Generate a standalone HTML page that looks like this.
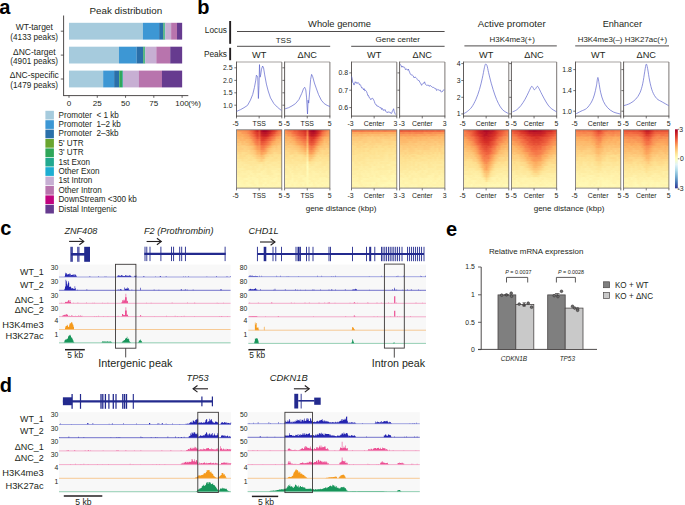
<!DOCTYPE html>
<html><head><meta charset="utf-8"><style>
html,body{margin:0;padding:0;background:#fff;width:685px;height:505px;overflow:hidden}
svg{display:block;position:absolute;left:0;top:0}
.hm{position:absolute;overflow:hidden}
.hi{position:absolute;left:-3px;top:-3px;right:-3px;bottom:-3px;filter:blur(0.7px);display:flex;flex-direction:column}
.hi p{margin:0;flex:1}
text{font-family:"Liberation Sans", sans-serif}
</style></head><body>
<svg width="685" height="505" viewBox="0 0 685 505">
<defs><linearGradient id="cbar" x1="0" y1="0" x2="0" y2="1"><stop offset="0" stop-color="#a50026"/><stop offset="0.1" stop-color="#d73027"/><stop offset="0.2" stop-color="#f46d43"/><stop offset="0.3" stop-color="#fdae61"/><stop offset="0.4" stop-color="#fee090"/><stop offset="0.5" stop-color="#ffffbf"/><stop offset="0.6" stop-color="#e0f3f8"/><stop offset="0.7" stop-color="#abd9e9"/><stop offset="0.8" stop-color="#74add1"/><stop offset="0.9" stop-color="#4575b4"/><stop offset="1" stop-color="#313695"/></linearGradient></defs>
<rect width="685" height="505" fill="#fff"/>
<text x="-0.80" y="13.70" font-size="20" text-anchor="start" font-weight="bold" font-style="normal" fill="#000" >a</text>
<text x="125.80" y="13.76" font-size="9.85" text-anchor="middle" font-weight="normal" font-style="normal" fill="#231f20" >Peak distribution</text>
<text x="34.30" y="30.34" font-size="8.5" text-anchor="middle" font-weight="normal" font-style="normal" fill="#231f20" >WT-target</text>
<text x="34.20" y="39.64" font-size="8.2" text-anchor="middle" font-weight="normal" font-style="normal" fill="#231f20" >(4133 peaks)</text>
<text x="34.30" y="54.54" font-size="8.5" text-anchor="middle" font-weight="normal" font-style="normal" fill="#231f20" >ΔNC-target</text>
<text x="34.20" y="63.84" font-size="8.2" text-anchor="middle" font-weight="normal" font-style="normal" fill="#231f20" >(4901 peaks)</text>
<text x="34.30" y="78.34" font-size="8.5" text-anchor="middle" font-weight="normal" font-style="normal" fill="#231f20" >ΔNC-specific</text>
<text x="34.20" y="87.64" font-size="8.2" text-anchor="middle" font-weight="normal" font-style="normal" fill="#231f20" >(1479 peaks)</text>
<rect x="69.00" y="22.80" width="74.02" height="16.80" fill="#a6cbdd" />
<rect x="142.97" y="22.80" width="16.22" height="16.80" fill="#3d97d4" />
<rect x="159.14" y="22.80" width="4.23" height="16.80" fill="#2a6fa9" />
<rect x="163.33" y="22.80" width="0.28" height="16.80" fill="#6aa52f" />
<rect x="163.55" y="22.80" width="0.95" height="16.80" fill="#2fa658" />
<rect x="164.46" y="22.80" width="0.84" height="16.80" fill="#22a98f" />
<rect x="165.25" y="22.80" width="5.93" height="16.80" fill="#c7afd3" />
<rect x="171.13" y="22.80" width="5.93" height="16.80" fill="#b874ad" />
<rect x="177.01" y="22.80" width="5.14" height="16.80" fill="#663b8f" />
<rect x="69.00" y="46.70" width="50.04" height="16.80" fill="#a6cbdd" />
<rect x="118.99" y="46.70" width="17.69" height="16.80" fill="#3d97d4" />
<rect x="136.63" y="46.70" width="6.61" height="16.80" fill="#2a6fa9" />
<rect x="143.19" y="46.70" width="0.28" height="16.80" fill="#6aa52f" />
<rect x="143.42" y="46.70" width="1.29" height="16.80" fill="#2fa658" />
<rect x="144.66" y="46.70" width="0.62" height="16.80" fill="#22a98f" />
<rect x="145.23" y="46.70" width="11.13" height="16.80" fill="#c7afd3" />
<rect x="156.31" y="46.70" width="13.96" height="16.80" fill="#b874ad" />
<rect x="170.22" y="46.70" width="11.93" height="16.80" fill="#663b8f" />
<rect x="69.00" y="70.60" width="34.21" height="16.80" fill="#a6cbdd" />
<rect x="103.16" y="70.60" width="11.02" height="16.80" fill="#3d97d4" />
<rect x="114.13" y="70.60" width="5.03" height="16.80" fill="#2a6fa9" />
<rect x="119.10" y="70.60" width="0.28" height="16.80" fill="#6aa52f" />
<rect x="119.33" y="70.60" width="2.65" height="16.80" fill="#2fa658" />
<rect x="121.93" y="70.60" width="0.95" height="16.80" fill="#22a98f" />
<rect x="122.84" y="70.60" width="16.11" height="16.80" fill="#c7afd3" />
<rect x="138.90" y="70.60" width="23.12" height="16.80" fill="#b874ad" />
<rect x="161.97" y="70.60" width="20.18" height="16.80" fill="#663b8f" />
<line x1="63.60" y1="15.50" x2="63.60" y2="95.60" stroke="#3b3838" stroke-width="0.9" />
<line x1="63.10" y1="95.60" x2="188.30" y2="95.60" stroke="#3b3838" stroke-width="0.9" />
<line x1="60.80" y1="31.20" x2="63.60" y2="31.20" stroke="#3b3838" stroke-width="0.8" />
<line x1="60.80" y1="55.10" x2="63.60" y2="55.10" stroke="#3b3838" stroke-width="0.8" />
<line x1="60.80" y1="79.00" x2="63.60" y2="79.00" stroke="#3b3838" stroke-width="0.8" />
<line x1="69.00" y1="95.60" x2="69.00" y2="97.80" stroke="#3b3838" stroke-width="0.8" />
<text x="69.00" y="106.20" font-size="8.1" text-anchor="middle" font-weight="normal" font-style="normal" fill="#231f20" >0</text>
<line x1="97.28" y1="95.60" x2="97.28" y2="97.80" stroke="#3b3838" stroke-width="0.8" />
<text x="97.28" y="106.20" font-size="8.1" text-anchor="middle" font-weight="normal" font-style="normal" fill="#231f20" >25</text>
<line x1="125.55" y1="95.60" x2="125.55" y2="97.80" stroke="#3b3838" stroke-width="0.8" />
<text x="125.55" y="106.20" font-size="8.1" text-anchor="middle" font-weight="normal" font-style="normal" fill="#231f20" >50</text>
<line x1="153.82" y1="95.60" x2="153.82" y2="97.80" stroke="#3b3838" stroke-width="0.8" />
<text x="153.82" y="106.20" font-size="8.1" text-anchor="middle" font-weight="normal" font-style="normal" fill="#231f20" >75</text>
<line x1="182.10" y1="95.60" x2="182.10" y2="97.80" stroke="#3b3838" stroke-width="0.8" />
<text x="182.10" y="106.20" font-size="8.1" text-anchor="middle" font-weight="normal" font-style="normal" fill="#231f20" >100</text>
<text x="188.30" y="106.20" font-size="8.1" text-anchor="start" font-weight="normal" font-style="normal" fill="#231f20" >(%)</text>
<rect x="45.40" y="110.80" width="8.50" height="8.70" fill="#a6cbdd" />
<text x="58.50" y="117.67" font-size="8.15" text-anchor="start" font-weight="normal" font-style="normal" fill="#231f20" >Promoter&#160; &lt; 1 kb</text>
<rect x="45.40" y="120.20" width="8.50" height="8.70" fill="#3d97d4" />
<text x="58.50" y="127.07" font-size="8.15" text-anchor="start" font-weight="normal" font-style="normal" fill="#231f20" >Promoter&#160; 1–2 kb</text>
<rect x="45.40" y="129.60" width="8.50" height="8.70" fill="#2a6fa9" />
<text x="58.50" y="136.47" font-size="8.15" text-anchor="start" font-weight="normal" font-style="normal" fill="#231f20" >Promoter&#160; 2–3kb</text>
<rect x="45.40" y="139.00" width="8.50" height="8.70" fill="#6aa52f" />
<text x="58.50" y="145.87" font-size="8.15" text-anchor="start" font-weight="normal" font-style="normal" fill="#231f20" >5' UTR</text>
<rect x="45.40" y="148.40" width="8.50" height="8.70" fill="#2fa658" />
<text x="58.50" y="155.27" font-size="8.15" text-anchor="start" font-weight="normal" font-style="normal" fill="#231f20" >3' UTR</text>
<rect x="45.40" y="157.80" width="8.50" height="8.70" fill="#22a98f" />
<text x="58.50" y="164.67" font-size="8.15" text-anchor="start" font-weight="normal" font-style="normal" fill="#231f20" >1st Exon</text>
<rect x="45.40" y="167.20" width="8.50" height="8.70" fill="#1eaed2" />
<text x="58.50" y="174.07" font-size="8.15" text-anchor="start" font-weight="normal" font-style="normal" fill="#231f20" >Other Exon</text>
<rect x="45.40" y="176.60" width="8.50" height="8.70" fill="#c7afd3" />
<text x="58.50" y="183.47" font-size="8.15" text-anchor="start" font-weight="normal" font-style="normal" fill="#231f20" >1st Intron</text>
<rect x="45.40" y="186.00" width="8.50" height="8.70" fill="#b874ad" />
<text x="58.50" y="192.87" font-size="8.15" text-anchor="start" font-weight="normal" font-style="normal" fill="#231f20" >Other Intron</text>
<rect x="45.40" y="195.40" width="8.50" height="8.70" fill="#c0037f" />
<text x="58.50" y="202.27" font-size="8.15" text-anchor="start" font-weight="normal" font-style="normal" fill="#231f20" >DownStream &lt;300 kb</text>
<rect x="45.40" y="204.80" width="8.50" height="8.70" fill="#663b8f" />
<text x="58.50" y="211.67" font-size="8.15" text-anchor="start" font-weight="normal" font-style="normal" fill="#231f20" >Distal Intergenic</text>
<text x="197.20" y="13.70" font-size="20" text-anchor="start" font-weight="bold" font-style="normal" fill="#000" >b</text>
<text x="227.00" y="33.49" font-size="8.3" text-anchor="end" font-weight="normal" font-style="normal" fill="#231f20" >Locus</text>
<text x="227.00" y="56.69" font-size="8.3" text-anchor="end" font-weight="normal" font-style="normal" fill="#231f20" >Peaks</text>
<rect x="229.20" y="21.00" width="1.90" height="22.80" fill="#231f20" />
<rect x="229.20" y="47.80" width="1.90" height="12.40" fill="#231f20" />
<text x="339.50" y="27.11" font-size="9.35" text-anchor="middle" font-weight="normal" font-style="normal" fill="#231f20" >Whole genome</text>
<line x1="237.00" y1="31.50" x2="444.60" y2="31.50" stroke="#3b3838" stroke-width="0.9" />
<text x="283.50" y="42.86" font-size="8.0" text-anchor="middle" font-weight="normal" font-style="normal" fill="#231f20" >TSS</text>
<line x1="237.00" y1="46.30" x2="330.20" y2="46.30" stroke="#3b3838" stroke-width="0.9" />
<text x="397.70" y="42.31" font-size="8.05" text-anchor="middle" font-weight="normal" font-style="normal" fill="#231f20" >Gene center</text>
<line x1="351.20" y1="46.30" x2="444.60" y2="46.30" stroke="#3b3838" stroke-width="0.9" />
<text x="511.70" y="27.01" font-size="9.7" text-anchor="middle" font-weight="normal" font-style="normal" fill="#231f20" >Active promoter</text>
<text x="512.20" y="42.35" font-size="7.95" text-anchor="middle" font-weight="normal" font-style="normal" fill="#231f20" >H3K4me3(+)</text>
<line x1="464.40" y1="45.90" x2="556.80" y2="45.90" stroke="#3b3838" stroke-width="0.9" />
<text x="622.30" y="26.86" font-size="9.2" text-anchor="middle" font-weight="normal" font-style="normal" fill="#231f20" >Enhancer</text>
<text x="622.40" y="42.34" font-size="7.92" text-anchor="middle" font-weight="normal" font-style="normal" fill="#231f20" >H3K4me3(–) H3K27ac(+)</text>
<line x1="575.20" y1="45.90" x2="669.00" y2="45.90" stroke="#3b3838" stroke-width="0.9" />
<text x="259.15" y="57.69" font-size="9.2" text-anchor="middle" font-weight="normal" font-style="normal" fill="#231f20" >WT</text>
<line x1="236.50" y1="62.00" x2="281.80" y2="62.00" stroke="#a8a4a2" stroke-width="1.1" />
<line x1="281.80" y1="62.00" x2="281.80" y2="116.10" stroke="#7a7574" stroke-width="1.0" />
<line x1="236.50" y1="61.60" x2="236.50" y2="116.50" stroke="#4f4b4a" stroke-width="0.9" />
<line x1="236.10" y1="116.10" x2="282.20" y2="116.10" stroke="#4f4b4a" stroke-width="0.9" />
<text x="307.25" y="57.69" font-size="9.2" text-anchor="middle" font-weight="normal" font-style="normal" fill="#231f20" >ΔNC</text>
<line x1="284.60" y1="62.00" x2="329.90" y2="62.00" stroke="#a8a4a2" stroke-width="1.1" />
<line x1="329.90" y1="62.00" x2="329.90" y2="116.10" stroke="#7a7574" stroke-width="1.0" />
<line x1="284.60" y1="61.60" x2="284.60" y2="116.50" stroke="#4f4b4a" stroke-width="0.9" />
<line x1="284.20" y1="116.10" x2="330.30" y2="116.10" stroke="#4f4b4a" stroke-width="0.9" />
<text x="374.15" y="57.69" font-size="9.2" text-anchor="middle" font-weight="normal" font-style="normal" fill="#231f20" >WT</text>
<line x1="351.50" y1="62.00" x2="396.80" y2="62.00" stroke="#a8a4a2" stroke-width="1.1" />
<line x1="396.80" y1="62.00" x2="396.80" y2="116.10" stroke="#7a7574" stroke-width="1.0" />
<line x1="351.50" y1="61.60" x2="351.50" y2="116.50" stroke="#4f4b4a" stroke-width="0.9" />
<line x1="351.10" y1="116.10" x2="397.20" y2="116.10" stroke="#4f4b4a" stroke-width="0.9" />
<text x="422.25" y="57.69" font-size="9.2" text-anchor="middle" font-weight="normal" font-style="normal" fill="#231f20" >ΔNC</text>
<line x1="399.60" y1="62.00" x2="444.90" y2="62.00" stroke="#a8a4a2" stroke-width="1.1" />
<line x1="444.90" y1="62.00" x2="444.90" y2="116.10" stroke="#7a7574" stroke-width="1.0" />
<line x1="399.60" y1="61.60" x2="399.60" y2="116.50" stroke="#4f4b4a" stroke-width="0.9" />
<line x1="399.20" y1="116.10" x2="445.30" y2="116.10" stroke="#4f4b4a" stroke-width="0.9" />
<text x="486.15" y="57.69" font-size="9.2" text-anchor="middle" font-weight="normal" font-style="normal" fill="#231f20" >WT</text>
<line x1="463.50" y1="62.00" x2="508.80" y2="62.00" stroke="#a8a4a2" stroke-width="1.1" />
<line x1="508.80" y1="62.00" x2="508.80" y2="116.10" stroke="#7a7574" stroke-width="1.0" />
<line x1="463.50" y1="61.60" x2="463.50" y2="116.50" stroke="#4f4b4a" stroke-width="0.9" />
<line x1="463.10" y1="116.10" x2="509.20" y2="116.10" stroke="#4f4b4a" stroke-width="0.9" />
<text x="534.05" y="57.69" font-size="9.2" text-anchor="middle" font-weight="normal" font-style="normal" fill="#231f20" >ΔNC</text>
<line x1="511.40" y1="62.00" x2="556.70" y2="62.00" stroke="#a8a4a2" stroke-width="1.1" />
<line x1="556.70" y1="62.00" x2="556.70" y2="116.10" stroke="#7a7574" stroke-width="1.0" />
<line x1="511.40" y1="61.60" x2="511.40" y2="116.50" stroke="#4f4b4a" stroke-width="0.9" />
<line x1="511.00" y1="116.10" x2="557.10" y2="116.10" stroke="#4f4b4a" stroke-width="0.9" />
<text x="598.15" y="57.69" font-size="9.2" text-anchor="middle" font-weight="normal" font-style="normal" fill="#231f20" >WT</text>
<line x1="575.50" y1="62.00" x2="620.80" y2="62.00" stroke="#a8a4a2" stroke-width="1.1" />
<line x1="620.80" y1="62.00" x2="620.80" y2="116.10" stroke="#7a7574" stroke-width="1.0" />
<line x1="575.50" y1="61.60" x2="575.50" y2="116.50" stroke="#4f4b4a" stroke-width="0.9" />
<line x1="575.10" y1="116.10" x2="621.20" y2="116.10" stroke="#4f4b4a" stroke-width="0.9" />
<text x="646.25" y="57.69" font-size="9.2" text-anchor="middle" font-weight="normal" font-style="normal" fill="#231f20" >ΔNC</text>
<line x1="623.60" y1="62.00" x2="668.90" y2="62.00" stroke="#a8a4a2" stroke-width="1.1" />
<line x1="668.90" y1="62.00" x2="668.90" y2="116.10" stroke="#7a7574" stroke-width="1.0" />
<line x1="623.60" y1="61.60" x2="623.60" y2="116.50" stroke="#4f4b4a" stroke-width="0.9" />
<line x1="623.20" y1="116.10" x2="669.30" y2="116.10" stroke="#4f4b4a" stroke-width="0.9" />
<text x="232.50" y="70.27" font-size="6.9" text-anchor="end" font-weight="normal" font-style="normal" fill="#231f20" >2.5</text>
<line x1="234.30" y1="67.80" x2="236.50" y2="67.80" stroke="#3b3838" stroke-width="0.7" />
<line x1="282.40" y1="67.80" x2="284.60" y2="67.80" stroke="#3b3838" stroke-width="0.7" />
<text x="232.50" y="82.87" font-size="6.9" text-anchor="end" font-weight="normal" font-style="normal" fill="#231f20" >2.0</text>
<line x1="234.30" y1="80.40" x2="236.50" y2="80.40" stroke="#3b3838" stroke-width="0.7" />
<line x1="282.40" y1="80.40" x2="284.60" y2="80.40" stroke="#3b3838" stroke-width="0.7" />
<text x="232.50" y="95.27" font-size="6.9" text-anchor="end" font-weight="normal" font-style="normal" fill="#231f20" >1.5</text>
<line x1="234.30" y1="92.80" x2="236.50" y2="92.80" stroke="#3b3838" stroke-width="0.7" />
<line x1="282.40" y1="92.80" x2="284.60" y2="92.80" stroke="#3b3838" stroke-width="0.7" />
<text x="232.50" y="107.67" font-size="6.9" text-anchor="end" font-weight="normal" font-style="normal" fill="#231f20" >1.0</text>
<line x1="234.30" y1="105.20" x2="236.50" y2="105.20" stroke="#3b3838" stroke-width="0.7" />
<line x1="282.40" y1="105.20" x2="284.60" y2="105.20" stroke="#3b3838" stroke-width="0.7" />
<text x="348.10" y="75.37" font-size="6.9" text-anchor="end" font-weight="normal" font-style="normal" fill="#231f20" >0.8</text>
<line x1="349.30" y1="72.90" x2="351.50" y2="72.90" stroke="#3b3838" stroke-width="0.7" />
<line x1="397.40" y1="72.90" x2="399.60" y2="72.90" stroke="#3b3838" stroke-width="0.7" />
<text x="348.10" y="92.67" font-size="6.9" text-anchor="end" font-weight="normal" font-style="normal" fill="#231f20" >0.7</text>
<line x1="349.30" y1="90.20" x2="351.50" y2="90.20" stroke="#3b3838" stroke-width="0.7" />
<line x1="397.40" y1="90.20" x2="399.60" y2="90.20" stroke="#3b3838" stroke-width="0.7" />
<text x="348.10" y="110.07" font-size="6.9" text-anchor="end" font-weight="normal" font-style="normal" fill="#231f20" >0.6</text>
<line x1="349.30" y1="107.60" x2="351.50" y2="107.60" stroke="#3b3838" stroke-width="0.7" />
<line x1="397.40" y1="107.60" x2="399.60" y2="107.60" stroke="#3b3838" stroke-width="0.7" />
<text x="460.50" y="66.07" font-size="6.9" text-anchor="end" font-weight="normal" font-style="normal" fill="#231f20" >4</text>
<line x1="461.30" y1="63.60" x2="463.50" y2="63.60" stroke="#3b3838" stroke-width="0.7" />
<line x1="509.20" y1="63.60" x2="511.40" y2="63.60" stroke="#3b3838" stroke-width="0.7" />
<text x="460.50" y="82.97" font-size="6.9" text-anchor="end" font-weight="normal" font-style="normal" fill="#231f20" >3</text>
<line x1="461.30" y1="80.50" x2="463.50" y2="80.50" stroke="#3b3838" stroke-width="0.7" />
<line x1="509.20" y1="80.50" x2="511.40" y2="80.50" stroke="#3b3838" stroke-width="0.7" />
<text x="460.50" y="99.77" font-size="6.9" text-anchor="end" font-weight="normal" font-style="normal" fill="#231f20" >2</text>
<line x1="461.30" y1="97.30" x2="463.50" y2="97.30" stroke="#3b3838" stroke-width="0.7" />
<line x1="509.20" y1="97.30" x2="511.40" y2="97.30" stroke="#3b3838" stroke-width="0.7" />
<text x="460.50" y="116.37" font-size="6.9" text-anchor="end" font-weight="normal" font-style="normal" fill="#231f20" >1</text>
<line x1="461.30" y1="113.90" x2="463.50" y2="113.90" stroke="#3b3838" stroke-width="0.7" />
<line x1="509.20" y1="113.90" x2="511.40" y2="113.90" stroke="#3b3838" stroke-width="0.7" />
<text x="571.90" y="72.07" font-size="6.9" text-anchor="end" font-weight="normal" font-style="normal" fill="#231f20" >1.8</text>
<line x1="573.30" y1="69.60" x2="575.50" y2="69.60" stroke="#3b3838" stroke-width="0.7" />
<line x1="621.40" y1="69.60" x2="623.60" y2="69.60" stroke="#3b3838" stroke-width="0.7" />
<text x="571.90" y="93.07" font-size="6.9" text-anchor="end" font-weight="normal" font-style="normal" fill="#231f20" >1.4</text>
<line x1="573.30" y1="90.60" x2="575.50" y2="90.60" stroke="#3b3838" stroke-width="0.7" />
<line x1="621.40" y1="90.60" x2="623.60" y2="90.60" stroke="#3b3838" stroke-width="0.7" />
<text x="571.90" y="113.67" font-size="6.9" text-anchor="end" font-weight="normal" font-style="normal" fill="#231f20" >1.0</text>
<line x1="573.30" y1="111.20" x2="575.50" y2="111.20" stroke="#3b3838" stroke-width="0.7" />
<line x1="621.40" y1="111.20" x2="623.60" y2="111.20" stroke="#3b3838" stroke-width="0.7" />
<line x1="236.50" y1="116.10" x2="236.50" y2="118.40" stroke="#3b3838" stroke-width="0.7" />
<line x1="259.15" y1="116.10" x2="259.15" y2="118.40" stroke="#3b3838" stroke-width="0.7" />
<line x1="281.80" y1="116.10" x2="281.80" y2="118.40" stroke="#3b3838" stroke-width="0.7" />
<text x="235.50" y="126.37" font-size="6.9" text-anchor="middle" font-weight="normal" font-style="normal" fill="#231f20" >-5</text>
<text x="280.40" y="126.37" font-size="6.9" text-anchor="middle" font-weight="normal" font-style="normal" fill="#231f20" >5</text>
<text x="259.15" y="126.37" font-size="6.9" text-anchor="middle" font-weight="normal" font-style="normal" fill="#231f20" >TSS</text>
<line x1="236.50" y1="188.10" x2="236.50" y2="190.40" stroke="#3b3838" stroke-width="0.7" />
<line x1="259.15" y1="188.10" x2="259.15" y2="190.40" stroke="#3b3838" stroke-width="0.7" />
<line x1="281.80" y1="188.10" x2="281.80" y2="190.40" stroke="#3b3838" stroke-width="0.7" />
<text x="235.50" y="197.67" font-size="6.9" text-anchor="middle" font-weight="normal" font-style="normal" fill="#231f20" >-5</text>
<text x="280.40" y="197.67" font-size="6.9" text-anchor="middle" font-weight="normal" font-style="normal" fill="#231f20" >5</text>
<text x="259.15" y="197.67" font-size="6.9" text-anchor="middle" font-weight="normal" font-style="normal" fill="#231f20" >TSS</text>
<line x1="284.60" y1="116.10" x2="284.60" y2="118.40" stroke="#3b3838" stroke-width="0.7" />
<line x1="307.25" y1="116.10" x2="307.25" y2="118.40" stroke="#3b3838" stroke-width="0.7" />
<line x1="329.90" y1="116.10" x2="329.90" y2="118.40" stroke="#3b3838" stroke-width="0.7" />
<text x="286.90" y="126.37" font-size="6.9" text-anchor="middle" font-weight="normal" font-style="normal" fill="#231f20" >-5</text>
<text x="329.60" y="126.37" font-size="6.9" text-anchor="middle" font-weight="normal" font-style="normal" fill="#231f20" >5</text>
<text x="307.25" y="126.37" font-size="6.9" text-anchor="middle" font-weight="normal" font-style="normal" fill="#231f20" >TSS</text>
<line x1="284.60" y1="188.10" x2="284.60" y2="190.40" stroke="#3b3838" stroke-width="0.7" />
<line x1="307.25" y1="188.10" x2="307.25" y2="190.40" stroke="#3b3838" stroke-width="0.7" />
<line x1="329.90" y1="188.10" x2="329.90" y2="190.40" stroke="#3b3838" stroke-width="0.7" />
<text x="286.90" y="197.67" font-size="6.9" text-anchor="middle" font-weight="normal" font-style="normal" fill="#231f20" >-5</text>
<text x="329.60" y="197.67" font-size="6.9" text-anchor="middle" font-weight="normal" font-style="normal" fill="#231f20" >5</text>
<text x="307.25" y="197.67" font-size="6.9" text-anchor="middle" font-weight="normal" font-style="normal" fill="#231f20" >TSS</text>
<line x1="351.50" y1="116.10" x2="351.50" y2="118.40" stroke="#3b3838" stroke-width="0.7" />
<line x1="374.15" y1="116.10" x2="374.15" y2="118.40" stroke="#3b3838" stroke-width="0.7" />
<line x1="396.80" y1="116.10" x2="396.80" y2="118.40" stroke="#3b3838" stroke-width="0.7" />
<text x="350.50" y="126.37" font-size="6.9" text-anchor="middle" font-weight="normal" font-style="normal" fill="#231f20" >-3</text>
<text x="395.40" y="126.37" font-size="6.9" text-anchor="middle" font-weight="normal" font-style="normal" fill="#231f20" >3</text>
<text x="374.15" y="126.37" font-size="6.9" text-anchor="middle" font-weight="normal" font-style="normal" fill="#231f20" >Center</text>
<line x1="351.50" y1="188.10" x2="351.50" y2="190.40" stroke="#3b3838" stroke-width="0.7" />
<line x1="374.15" y1="188.10" x2="374.15" y2="190.40" stroke="#3b3838" stroke-width="0.7" />
<line x1="396.80" y1="188.10" x2="396.80" y2="190.40" stroke="#3b3838" stroke-width="0.7" />
<text x="350.50" y="197.67" font-size="6.9" text-anchor="middle" font-weight="normal" font-style="normal" fill="#231f20" >-3</text>
<text x="395.40" y="197.67" font-size="6.9" text-anchor="middle" font-weight="normal" font-style="normal" fill="#231f20" >3</text>
<text x="374.15" y="197.67" font-size="6.9" text-anchor="middle" font-weight="normal" font-style="normal" fill="#231f20" >Center</text>
<line x1="399.60" y1="116.10" x2="399.60" y2="118.40" stroke="#3b3838" stroke-width="0.7" />
<line x1="422.25" y1="116.10" x2="422.25" y2="118.40" stroke="#3b3838" stroke-width="0.7" />
<line x1="444.90" y1="116.10" x2="444.90" y2="118.40" stroke="#3b3838" stroke-width="0.7" />
<text x="401.90" y="126.37" font-size="6.9" text-anchor="middle" font-weight="normal" font-style="normal" fill="#231f20" >-3</text>
<text x="444.60" y="126.37" font-size="6.9" text-anchor="middle" font-weight="normal" font-style="normal" fill="#231f20" >3</text>
<text x="422.25" y="126.37" font-size="6.9" text-anchor="middle" font-weight="normal" font-style="normal" fill="#231f20" >Center</text>
<line x1="399.60" y1="188.10" x2="399.60" y2="190.40" stroke="#3b3838" stroke-width="0.7" />
<line x1="422.25" y1="188.10" x2="422.25" y2="190.40" stroke="#3b3838" stroke-width="0.7" />
<line x1="444.90" y1="188.10" x2="444.90" y2="190.40" stroke="#3b3838" stroke-width="0.7" />
<text x="401.90" y="197.67" font-size="6.9" text-anchor="middle" font-weight="normal" font-style="normal" fill="#231f20" >-3</text>
<text x="444.60" y="197.67" font-size="6.9" text-anchor="middle" font-weight="normal" font-style="normal" fill="#231f20" >3</text>
<text x="422.25" y="197.67" font-size="6.9" text-anchor="middle" font-weight="normal" font-style="normal" fill="#231f20" >Center</text>
<line x1="463.50" y1="116.10" x2="463.50" y2="118.40" stroke="#3b3838" stroke-width="0.7" />
<line x1="486.15" y1="116.10" x2="486.15" y2="118.40" stroke="#3b3838" stroke-width="0.7" />
<line x1="508.80" y1="116.10" x2="508.80" y2="118.40" stroke="#3b3838" stroke-width="0.7" />
<text x="462.50" y="126.37" font-size="6.9" text-anchor="middle" font-weight="normal" font-style="normal" fill="#231f20" >-5</text>
<text x="507.40" y="126.37" font-size="6.9" text-anchor="middle" font-weight="normal" font-style="normal" fill="#231f20" >5</text>
<text x="486.15" y="126.37" font-size="6.9" text-anchor="middle" font-weight="normal" font-style="normal" fill="#231f20" >Center</text>
<line x1="463.50" y1="188.10" x2="463.50" y2="190.40" stroke="#3b3838" stroke-width="0.7" />
<line x1="486.15" y1="188.10" x2="486.15" y2="190.40" stroke="#3b3838" stroke-width="0.7" />
<line x1="508.80" y1="188.10" x2="508.80" y2="190.40" stroke="#3b3838" stroke-width="0.7" />
<text x="462.50" y="197.67" font-size="6.9" text-anchor="middle" font-weight="normal" font-style="normal" fill="#231f20" >-5</text>
<text x="507.40" y="197.67" font-size="6.9" text-anchor="middle" font-weight="normal" font-style="normal" fill="#231f20" >5</text>
<text x="486.15" y="197.67" font-size="6.9" text-anchor="middle" font-weight="normal" font-style="normal" fill="#231f20" >Center</text>
<line x1="511.40" y1="116.10" x2="511.40" y2="118.40" stroke="#3b3838" stroke-width="0.7" />
<line x1="534.05" y1="116.10" x2="534.05" y2="118.40" stroke="#3b3838" stroke-width="0.7" />
<line x1="556.70" y1="116.10" x2="556.70" y2="118.40" stroke="#3b3838" stroke-width="0.7" />
<text x="513.70" y="126.37" font-size="6.9" text-anchor="middle" font-weight="normal" font-style="normal" fill="#231f20" >-5</text>
<text x="556.40" y="126.37" font-size="6.9" text-anchor="middle" font-weight="normal" font-style="normal" fill="#231f20" >5</text>
<text x="534.05" y="126.37" font-size="6.9" text-anchor="middle" font-weight="normal" font-style="normal" fill="#231f20" >Center</text>
<line x1="511.40" y1="188.10" x2="511.40" y2="190.40" stroke="#3b3838" stroke-width="0.7" />
<line x1="534.05" y1="188.10" x2="534.05" y2="190.40" stroke="#3b3838" stroke-width="0.7" />
<line x1="556.70" y1="188.10" x2="556.70" y2="190.40" stroke="#3b3838" stroke-width="0.7" />
<text x="513.70" y="197.67" font-size="6.9" text-anchor="middle" font-weight="normal" font-style="normal" fill="#231f20" >-5</text>
<text x="556.40" y="197.67" font-size="6.9" text-anchor="middle" font-weight="normal" font-style="normal" fill="#231f20" >5</text>
<text x="534.05" y="197.67" font-size="6.9" text-anchor="middle" font-weight="normal" font-style="normal" fill="#231f20" >Center</text>
<line x1="575.50" y1="116.10" x2="575.50" y2="118.40" stroke="#3b3838" stroke-width="0.7" />
<line x1="598.15" y1="116.10" x2="598.15" y2="118.40" stroke="#3b3838" stroke-width="0.7" />
<line x1="620.80" y1="116.10" x2="620.80" y2="118.40" stroke="#3b3838" stroke-width="0.7" />
<text x="574.50" y="126.37" font-size="6.9" text-anchor="middle" font-weight="normal" font-style="normal" fill="#231f20" >-5</text>
<text x="619.40" y="126.37" font-size="6.9" text-anchor="middle" font-weight="normal" font-style="normal" fill="#231f20" >5</text>
<text x="598.15" y="126.37" font-size="6.9" text-anchor="middle" font-weight="normal" font-style="normal" fill="#231f20" >Center</text>
<line x1="575.50" y1="188.10" x2="575.50" y2="190.40" stroke="#3b3838" stroke-width="0.7" />
<line x1="598.15" y1="188.10" x2="598.15" y2="190.40" stroke="#3b3838" stroke-width="0.7" />
<line x1="620.80" y1="188.10" x2="620.80" y2="190.40" stroke="#3b3838" stroke-width="0.7" />
<text x="574.50" y="197.67" font-size="6.9" text-anchor="middle" font-weight="normal" font-style="normal" fill="#231f20" >-5</text>
<text x="619.40" y="197.67" font-size="6.9" text-anchor="middle" font-weight="normal" font-style="normal" fill="#231f20" >5</text>
<text x="598.15" y="197.67" font-size="6.9" text-anchor="middle" font-weight="normal" font-style="normal" fill="#231f20" >Center</text>
<line x1="623.60" y1="116.10" x2="623.60" y2="118.40" stroke="#3b3838" stroke-width="0.7" />
<line x1="646.25" y1="116.10" x2="646.25" y2="118.40" stroke="#3b3838" stroke-width="0.7" />
<line x1="668.90" y1="116.10" x2="668.90" y2="118.40" stroke="#3b3838" stroke-width="0.7" />
<text x="625.90" y="126.37" font-size="6.9" text-anchor="middle" font-weight="normal" font-style="normal" fill="#231f20" >-5</text>
<text x="668.60" y="126.37" font-size="6.9" text-anchor="middle" font-weight="normal" font-style="normal" fill="#231f20" >5</text>
<text x="646.25" y="126.37" font-size="6.9" text-anchor="middle" font-weight="normal" font-style="normal" fill="#231f20" >Center</text>
<line x1="623.60" y1="188.10" x2="623.60" y2="190.40" stroke="#3b3838" stroke-width="0.7" />
<line x1="646.25" y1="188.10" x2="646.25" y2="190.40" stroke="#3b3838" stroke-width="0.7" />
<line x1="668.90" y1="188.10" x2="668.90" y2="190.40" stroke="#3b3838" stroke-width="0.7" />
<text x="625.90" y="197.67" font-size="6.9" text-anchor="middle" font-weight="normal" font-style="normal" fill="#231f20" >-5</text>
<text x="668.60" y="197.67" font-size="6.9" text-anchor="middle" font-weight="normal" font-style="normal" fill="#231f20" >5</text>
<text x="646.25" y="197.67" font-size="6.9" text-anchor="middle" font-weight="normal" font-style="normal" fill="#231f20" >Center</text>
<path d="M236.60,111.40 L240.60,109.60 L244.00,107.70 L247.50,105.40 L250.40,100.20 L252.70,94.50 L254.40,87.60 L255.80,80.10 L256.40,75.20 L257.20,76.10 L257.80,77.80 L258.40,98.50 L259.00,85.30 L259.50,64.60 L260.10,77.20 L260.70,74.90 L261.50,69.20 L262.60,66.00 L263.60,68.00 L264.70,74.90 L266.40,84.10 L268.20,91.00 L270.50,97.90 L273.90,103.60 L277.30,107.10 L281.40,110.50" fill="none" stroke="#5b63cc" stroke-width="0.7" stroke-linejoin="round"/>
<path d="M285.10,108.80 L288.60,107.70 L292.00,105.90 L295.50,103.60 L298.90,99.60 L301.80,93.30 L303.50,88.70 L304.70,87.30 L305.80,89.90 L306.60,97.90 L307.50,114.00 L308.10,100.20 L308.70,103.10 L309.80,89.90 L310.60,79.50 L311.60,74.40 L312.70,76.70 L314.40,83.00 L316.20,88.10 L318.50,94.50 L321.30,100.20 L324.20,103.60 L327.10,105.40 L329.90,106.50" fill="none" stroke="#5b63cc" stroke-width="0.7" stroke-linejoin="round"/>
<path d="M351.60,76.45 L352.20,78.90 L352.80,82.70 L353.40,83.07 L354.00,85.07 L354.60,83.53 L355.20,81.72 L355.80,82.83 L356.40,82.38 L357.00,83.67 L357.60,82.69 L358.20,82.49 L358.80,83.10 L359.40,84.80 L360.00,84.30 L360.60,85.23 L361.20,86.74 L361.80,88.08 L362.40,87.95 L363.00,88.19 L363.60,89.95 L364.20,88.69 L364.80,90.92 L365.40,90.38 L366.00,90.69 L366.60,91.74 L367.20,93.32 L367.80,95.53 L368.40,95.36 L369.00,97.06 L369.60,98.08 L370.20,98.44 L370.80,99.70 L371.40,98.76 L372.00,98.35 L372.60,98.25 L373.20,99.13 L373.80,100.22 L374.40,101.59 L375.00,103.74 L375.60,104.32 L376.20,104.49 L376.80,105.95 L377.40,106.23 L378.00,105.79 L378.60,106.65 L379.20,106.75 L379.80,107.65 L380.40,107.76 L381.00,107.48 L381.60,109.46 L382.20,108.34 L382.80,109.54 L383.40,110.48 L384.00,109.47 L384.60,110.34 L385.20,109.73 L385.80,111.45 L386.40,112.10 L387.00,112.17 L387.60,112.80 L388.20,111.62 L388.80,112.33 L389.40,112.19 L390.00,112.48 L390.60,112.55 L391.20,113.63 L391.80,112.96 L392.40,110.91 L393.00,110.17 L393.60,108.72 L394.20,111.50 L394.80,112.89 L395.40,114.64" fill="none" stroke="#5b63cc" stroke-width="0.7" stroke-linejoin="round"/>
<path d="M400.00,64.84 L400.60,64.65 L401.20,65.74 L401.80,67.19 L402.40,66.21 L403.00,67.29 L403.60,66.90 L404.20,67.13 L404.80,67.62 L405.40,69.64 L406.00,68.96 L406.60,69.22 L407.20,69.42 L407.80,70.30 L408.40,69.02 L409.00,70.85 L409.60,72.13 L410.20,73.89 L410.80,74.44 L411.40,75.13 L412.00,74.56 L412.60,75.43 L413.20,75.89 L413.80,77.39 L414.40,77.99 L415.00,76.83 L415.60,77.33 L416.20,77.96 L416.80,78.57 L417.40,79.67 L418.00,80.48 L418.60,80.43 L419.20,80.63 L419.80,82.21 L420.40,82.86 L421.00,84.01 L421.60,85.33 L422.20,84.36 L422.80,83.56 L423.40,83.31 L424.00,82.98 L424.60,81.81 L425.20,84.10 L425.80,84.46 L426.40,85.25 L427.00,85.70 L427.60,85.18 L428.20,85.44 L428.80,85.09 L429.40,86.39 L430.00,85.48 L430.60,85.73 L431.20,86.38 L431.80,86.64 L432.40,87.36 L433.00,87.15 L433.60,87.40 L434.20,88.04 L434.80,88.18 L435.40,88.95 L436.00,88.51 L436.60,90.45 L437.20,90.17 L437.80,89.45 L438.40,89.80 L439.00,90.14 L439.60,90.33 L440.20,90.00 L440.80,91.63 L441.40,92.12 L442.00,91.27 L442.60,91.40 L443.20,90.21 L443.80,89.84 L444.40,89.92" fill="none" stroke="#5b63cc" stroke-width="0.7" stroke-linejoin="round"/>
<path d="M463.70,113.70 C464.35,113.28 466.25,112.32 467.60,111.20 C468.95,110.08 470.40,109.00 471.80,107.00 C473.20,105.00 474.72,102.13 476.00,99.20 C477.28,96.27 478.45,92.90 479.50,89.40 C480.55,85.90 481.48,81.82 482.30,78.20 C483.12,74.58 483.87,70.03 484.40,67.70 C484.93,65.37 485.07,64.55 485.50,64.20 C485.93,63.85 486.48,64.20 487.00,65.60 C487.52,67.00 487.87,69.57 488.60,72.60 C489.33,75.63 490.35,80.07 491.40,83.80 C492.45,87.53 493.73,91.73 494.90,95.00 C496.07,98.27 497.12,100.93 498.40,103.40 C499.68,105.87 500.95,108.12 502.60,109.80 C504.25,111.48 507.35,112.88 508.30,113.50" fill="none" stroke="#5b63cc" stroke-width="0.7" stroke-linejoin="round"/>
<path d="M512.50,111.90 C513.20,111.55 515.30,110.85 516.70,109.80 C518.10,108.75 519.50,107.37 520.90,105.60 C522.30,103.83 523.82,101.43 525.10,99.20 C526.38,96.97 527.55,94.30 528.60,92.20 C529.65,90.10 530.70,87.42 531.40,86.60 C532.10,85.78 532.33,86.78 532.80,87.30 C533.27,87.82 533.73,89.47 534.20,89.70 C534.67,89.93 535.07,89.27 535.60,88.70 C536.13,88.13 536.82,86.30 537.40,86.30 C537.98,86.30 538.35,87.37 539.10,88.70 C539.85,90.03 540.73,92.08 541.90,94.30 C543.07,96.52 544.70,99.77 546.10,102.00 C547.50,104.23 548.55,106.05 550.30,107.70 C552.05,109.35 555.55,111.20 556.60,111.90" fill="none" stroke="#5b63cc" stroke-width="0.7" stroke-linejoin="round"/>
<path d="M575.70,114.00 C576.58,113.53 579.18,112.13 581.00,111.20 C582.82,110.27 584.85,109.93 586.60,108.40 C588.35,106.87 590.22,104.23 591.50,102.00 C592.78,99.77 593.48,97.68 594.30,95.00 C595.12,92.32 595.82,88.82 596.40,85.90 C596.98,82.98 597.38,78.08 597.80,77.50 C598.22,76.92 598.43,79.95 598.90,82.40 C599.37,84.85 599.85,89.05 600.60,92.20 C601.35,95.35 602.23,98.72 603.40,101.30 C604.57,103.88 605.97,105.93 607.60,107.70 C609.23,109.47 611.08,110.85 613.20,111.90 C615.32,112.95 619.12,113.65 620.30,114.00" fill="none" stroke="#5b63cc" stroke-width="0.7" stroke-linejoin="round"/>
<path d="M624.00,105.60 C625.02,105.23 628.15,104.47 630.10,103.40 C632.05,102.33 634.07,100.95 635.70,99.20 C637.33,97.45 638.73,95.47 639.90,92.90 C641.07,90.33 641.88,87.42 642.70,83.80 C643.52,80.18 644.22,74.47 644.80,71.20 C645.38,67.93 645.73,64.67 646.20,64.20 C646.67,63.73 647.02,65.60 647.60,68.40 C648.18,71.20 648.88,77.15 649.70,81.00 C650.52,84.85 651.33,88.58 652.50,91.50 C653.67,94.42 655.07,96.75 656.70,98.50 C658.33,100.25 660.32,100.82 662.30,102.00 C664.28,103.18 667.55,105.00 668.60,105.60" fill="none" stroke="#5b63cc" stroke-width="0.7" stroke-linejoin="round"/>
<rect x="675.00" y="129.30" width="2.80" height="59.00" fill="url(#cbar)" />
<line x1="677.80" y1="129.30" x2="679.30" y2="129.30" stroke="#3b3838" stroke-width="0.6" />
<line x1="677.80" y1="158.80" x2="679.30" y2="158.80" stroke="#3b3838" stroke-width="0.6" />
<line x1="677.80" y1="188.30" x2="679.30" y2="188.30" stroke="#3b3838" stroke-width="0.6" />
<text x="679.20" y="132.47" font-size="6.9" text-anchor="start" font-weight="normal" font-style="normal" fill="#231f20" >3</text>
<text x="680.00" y="161.27" font-size="6.9" text-anchor="start" font-weight="normal" font-style="normal" fill="#231f20" >0</text>
<text x="677.50" y="190.67" font-size="6.9" text-anchor="start" font-weight="normal" font-style="normal" fill="#231f20" >-3</text>
<text x="341.00" y="210.92" font-size="8.06" text-anchor="middle" font-weight="normal" font-style="normal" fill="#231f20" >gene distance (kbp)</text>
<text x="569.00" y="210.92" font-size="8.06" text-anchor="middle" font-weight="normal" font-style="normal" fill="#231f20" >gene distance (kbp)</text>
<text x="0.20" y="235.30" font-size="20" text-anchor="start" font-weight="bold" font-style="normal" fill="#000" >c</text>
<text x="64.40" y="233.66" font-size="9.1" text-anchor="start" font-weight="normal" font-style="italic" fill="#231f20" >ZNF408</text>
<text x="144.00" y="233.89" font-size="9.2" text-anchor="start" font-weight="normal" font-style="italic" fill="#231f20" >F2 (Prothrombin)</text>
<text x="248.40" y="234.09" font-size="9.2" text-anchor="start" font-weight="normal" font-style="italic" fill="#231f20" >CHD1L</text>
<line x1="69.10" y1="241.40" x2="83.80" y2="241.40" stroke="#231f20" stroke-width="1.1"/>
<polyline points="79.40,238.10 83.80,241.40 79.40,244.70" fill="none" stroke="#231f20" stroke-width="1.1"/>
<line x1="146.60" y1="241.50" x2="161.30" y2="241.50" stroke="#231f20" stroke-width="1.1"/>
<polyline points="156.90,238.20 161.30,241.50 156.90,244.80" fill="none" stroke="#231f20" stroke-width="1.1"/>
<line x1="260.00" y1="242.00" x2="275.00" y2="242.00" stroke="#231f20" stroke-width="1.1"/>
<polyline points="270.60,238.70 275.00,242.00 270.60,245.30" fill="none" stroke="#231f20" stroke-width="1.1"/>
<line x1="71" y1="254.3" x2="85" y2="254.3" stroke="#232a8e" stroke-width="2.6"/>
<rect x="70.30" y="246.80" width="2.60" height="15.00" fill="#232a8e" opacity="0.85"/>
<rect x="77.00" y="246.80" width="2.60" height="15.00" fill="#232a8e" opacity="0.7"/>
<rect x="84.20" y="246.80" width="5.80" height="15.00" fill="#232a8e" />
<line x1="144.30" y1="253.90" x2="225.70" y2="253.90" stroke="#232a8e" stroke-width="2.2"/>
<rect x="144.55" y="246.70" width="0.90" height="14.40" fill="#232a8e" />
<rect x="146.35" y="246.70" width="0.90" height="14.40" fill="#232a8e" />
<rect x="149.55" y="246.70" width="0.90" height="14.40" fill="#232a8e" />
<rect x="160.45" y="246.70" width="0.90" height="14.40" fill="#232a8e" />
<rect x="171.05" y="246.70" width="0.90" height="14.40" fill="#232a8e" />
<rect x="173.15" y="246.70" width="0.90" height="14.40" fill="#232a8e" />
<rect x="179.25" y="246.70" width="0.90" height="14.40" fill="#232a8e" />
<rect x="181.25" y="246.70" width="0.90" height="14.40" fill="#232a8e" />
<rect x="184.95" y="246.70" width="0.90" height="14.40" fill="#232a8e" />
<rect x="224.65" y="246.70" width="0.90" height="14.40" fill="#232a8e" />
<line x1="257.40" y1="254.00" x2="424.00" y2="254.00" stroke="#232a8e" stroke-width="2.2"/>
<rect x="256.95" y="246.80" width="0.90" height="14.40" fill="#232a8e" />
<rect x="263.70" y="246.80" width="2.60" height="14.40" fill="#232a8e" />
<rect x="272.55" y="246.80" width="0.90" height="14.40" fill="#232a8e" />
<rect x="275.35" y="246.80" width="0.90" height="14.40" fill="#232a8e" />
<rect x="281.05" y="246.80" width="0.90" height="14.40" fill="#232a8e" />
<rect x="295.55" y="246.80" width="0.90" height="14.40" fill="#232a8e" />
<rect x="297.50" y="246.80" width="2.20" height="14.40" fill="#232a8e" />
<rect x="300.05" y="246.80" width="0.90" height="14.40" fill="#232a8e" />
<rect x="306.05" y="246.80" width="0.90" height="14.40" fill="#232a8e" />
<rect x="308.55" y="246.80" width="0.90" height="14.40" fill="#232a8e" />
<rect x="312.55" y="246.80" width="0.90" height="14.40" fill="#232a8e" />
<rect x="328.55" y="246.80" width="0.90" height="14.40" fill="#232a8e" />
<rect x="330.05" y="246.80" width="0.90" height="14.40" fill="#232a8e" />
<rect x="352.05" y="246.80" width="0.90" height="14.40" fill="#232a8e" />
<rect x="366.05" y="246.80" width="0.90" height="14.40" fill="#232a8e" />
<rect x="369.20" y="246.80" width="2.00" height="14.40" fill="#232a8e" />
<rect x="374.35" y="246.80" width="0.90" height="14.40" fill="#232a8e" />
<rect x="381.05" y="246.80" width="0.90" height="14.40" fill="#232a8e" />
<rect x="382.55" y="246.80" width="0.90" height="14.40" fill="#232a8e" />
<rect x="384.35" y="246.80" width="0.90" height="14.40" fill="#232a8e" />
<rect x="386.15" y="246.80" width="0.90" height="14.40" fill="#232a8e" />
<rect x="388.05" y="246.80" width="0.90" height="14.40" fill="#232a8e" />
<rect x="389.75" y="246.80" width="0.90" height="14.40" fill="#232a8e" />
<rect x="391.55" y="246.80" width="0.90" height="14.40" fill="#232a8e" />
<rect x="393.35" y="246.80" width="0.90" height="14.40" fill="#232a8e" />
<rect x="395.25" y="246.80" width="0.90" height="14.40" fill="#232a8e" />
<rect x="397.15" y="246.80" width="0.90" height="14.40" fill="#232a8e" />
<rect x="399.15" y="246.80" width="0.90" height="14.40" fill="#232a8e" />
<rect x="401.55" y="246.80" width="0.90" height="14.40" fill="#232a8e" />
<rect x="407.15" y="246.80" width="0.90" height="14.40" fill="#232a8e" />
<rect x="409.15" y="246.80" width="0.90" height="14.40" fill="#232a8e" />
<rect x="411.15" y="246.80" width="0.90" height="14.40" fill="#232a8e" />
<rect x="413.15" y="246.80" width="0.90" height="14.40" fill="#232a8e" />
<rect x="415.15" y="246.80" width="0.90" height="14.40" fill="#232a8e" />
<rect x="417.15" y="246.80" width="0.90" height="14.40" fill="#232a8e" />
<rect x="419.15" y="246.80" width="0.90" height="14.40" fill="#232a8e" />
<rect x="421.15" y="246.80" width="0.90" height="14.40" fill="#232a8e" />
<rect x="423.55" y="246.80" width="0.90" height="14.40" fill="#232a8e" />
<rect x="59.00" y="264.60" width="171.60" height="79.30" fill="#f8f8f8" />
<path d="M59.0,277.0V277.0H64.4V276.4H65.0V272.7H65.6V274.4H66.2V273.0H66.8V274.0H67.4V274.8H68.0V274.3H68.6V274.1H69.2V273.5H69.8V275.4H70.4V273.7H71.0V275.0H71.6V275.1H72.2V274.9H72.8V274.0H73.4V275.3H74.0V275.5H74.6V274.1H75.2V274.8H75.8V275.4H76.4V276.6H77.0V277.0H89.6V276.1H90.2V277.0H98.0V276.3H98.6V277.0H104.6V276.6H105.2V277.0H105.8V276.5H106.4V277.0H117.2V276.3H117.8V275.3H118.4V275.4H119.0V275.8H119.6V275.5H120.2V276.1H120.8V275.4H121.4V275.1H122.0V275.6H122.6V275.7H123.2V276.0H123.8V276.1H124.4V276.0H125.0V275.1H125.6V275.8H126.2V275.5H126.8V275.8H127.4V275.7H128.0V275.9H128.6V275.6H129.8V275.3H130.4V276.1H131.0V276.4H131.6V277.0H134.0V276.5H134.6V275.8H135.2V275.9H135.8V275.6H136.4V277.0H143.0V276.0H143.6V277.0H144.2V276.4H144.8V277.0H155.0V276.5H155.6V277.0H159.8V276.1H160.4V276.2H161.0V277.0H165.8V276.0H166.4V277.0H183.2V276.6H183.8V277.0H185.0V276.5H185.6V277.0H188.0V276.2H188.6V277.0H206.6V276.5H207.2V277.0H216.2V276.0H216.8V277.0H226.4V276.6H227.6V277.0H230.0V276.3H230.6L230.6,277.0Z" fill="#2424b0"/>
<line x1="59.00" y1="277.00" x2="230.60" y2="277.00" stroke="#7b7fd6" stroke-width="0.7"/>
<path d="M59.0,290.3V290.3H64.4V288.8H65.0V286.4H65.6V279.8H66.2V281.3H66.8V283.7H67.4V285.5H68.0V281.3H68.6V282.8H69.2V287.1H69.8V286.6H70.4V286.7H71.0V287.7H71.6V288.7H72.2V287.9H72.8V288.2H73.4V289.0H74.6V286.3H75.2V288.2H75.8V290.3H77.0V289.8H77.6V290.3H86.6V289.3H87.2V290.3H117.8V289.2H118.4V290.3H119.6V289.4H120.2V289.0H120.8V289.4H121.4V289.7H122.0V290.3H124.4V287.5H125.0V288.9H125.6V288.5H126.2V288.6H126.8V288.9H127.4V287.6H128.0V288.1H128.6V289.6H129.2V289.9H129.8V290.3H131.6V289.5H132.2V290.3H140.0V287.8H140.6V290.3H153.8V289.5H154.4V290.3H158.6V289.7H159.2V290.3H180.8V289.3H181.4V289.4H182.0V290.3H183.8V289.8H184.4V290.3H185.0V289.3H185.6V290.3H186.8V289.5H187.4V290.3H192.8V289.6H193.4V290.3H220.4V289.3H221.6V290.3H230.6L230.6,290.3Z" fill="#2424b0"/>
<line x1="59.00" y1="290.30" x2="230.60" y2="290.30" stroke="#3a3ab8" stroke-width="0.7"/>
<path d="M59.0,303.3V303.3H61.4V302.7H62.0V303.3H64.4V302.9H65.0V302.1H65.6V301.8H66.2V301.9H66.8V301.8H67.4V301.5H68.0V300.4H68.6V300.1H69.2V301.7H69.8V299.9H70.4V302.0H71.0V303.3H73.4V302.8H74.0V303.3H77.6V302.5H78.2V303.3H86.0V302.5H86.6V303.3H92.6V302.8H93.2V303.3H94.4V302.7H95.0V303.3H102.2V302.8H102.8V303.3H104.6V302.9H105.2V303.3H107.6V302.7H108.2V303.3H121.4V302.2H122.0V300.0H122.6V301.4H123.2V299.8H123.8V300.7H124.4V299.8H125.0V297.3H125.6V293.8H126.2V297.3H126.8V301.2H127.4V300.8H128.0V303.3H146.0V302.7H146.6V303.3H150.8V302.7H151.4V303.3H171.8V302.5H172.4V303.3H187.4V302.5H188.0V303.3H194.0V302.7H194.6V302.8H195.2V303.3H216.8V302.8H217.4V303.3H218.0V302.9H218.6V303.3H223.4V302.8H224.0V303.3H230.6L230.6,303.3Z" fill="#ec4f93"/>
<line x1="59.00" y1="303.30" x2="230.60" y2="303.30" stroke="#f08cb8" stroke-width="0.7"/>
<path d="M59.0,316.6V316.6H62.0V316.1H62.6V315.2H63.8V315.1H64.4V314.8H65.0V314.5H65.6V315.2H66.2V314.0H66.8V314.2H67.4V314.9H68.0V316.0H68.6V315.8H69.8V315.9H71.0V315.6H71.6V315.4H72.2V315.8H72.8V316.0H73.4V315.9H74.0V316.0H75.2V315.7H75.8V316.0H78.2V315.4H78.8V315.7H79.4V316.1H80.0V315.6H80.6V315.7H81.2V315.9H81.8V315.7H82.4V316.6H94.4V315.9H95.0V316.6H96.2V316.0H96.8V316.6H98.0V315.7H98.6V316.6H103.4V316.0H104.0V316.6H107.6V315.9H108.2V316.6H115.4V316.0H116.0V316.6H117.8V315.8H118.4V316.6H121.4V315.9H122.0V313.9H122.6V314.0H123.2V315.0H123.8V315.2H124.4V314.9H125.0V310.6H125.6V307.3H126.2V310.6H126.8V314.9H127.4V314.6H128.0V316.1H128.6V316.6H139.4V316.3H140.0V315.1H140.6V315.6H141.2V316.6H142.4V316.2H143.0V316.6H154.4V316.2H155.0V316.6H166.4V315.8H167.0V316.6H174.8V315.8H175.4V316.6H177.2V315.9H177.8V316.6H181.4V316.0H182.0V316.6H183.8V315.8H184.4V316.6H194.0V315.9H194.6V316.6H219.2V316.0H219.8V316.6H221.0V315.9H221.6V316.1H222.2V316.6H227.0V315.9H227.6V316.6H230.6L230.6,316.6Z" fill="#ec4f93"/>
<line x1="59.00" y1="316.60" x2="230.60" y2="316.60" stroke="#f08cb8" stroke-width="0.7"/>
<path d="M59.0,329.5V329.5H65.0V327.5H65.6V325.9H66.2V326.1H66.8V324.8H67.4V325.6H68.0V326.9H68.6V326.4H69.2V324.6H69.8V322.9H70.4V323.6H71.0V322.5H71.6V322.1H72.2V323.5H72.8V324.7H73.4V326.8H74.0V329.5H230.6L230.6,329.5Z" fill="#f59a1b"/>
<line x1="59.00" y1="329.50" x2="230.60" y2="329.50" stroke="#f7b66a" stroke-width="0.7"/>
<path d="M59.0,342.8V342.8H63.8V342.2H64.4V340.6H65.0V340.1H65.6V339.1H66.2V339.4H66.8V338.8H67.4V338.6H68.0V336.5H68.6V335.8H69.2V335.3H69.8V334.7H70.4V335.7H71.0V337.3H71.6V337.8H72.2V338.7H72.8V340.2H73.4V341.8H74.0V342.5H74.6V342.8H101.6V342.2H102.2V341.3H102.8V341.5H103.4V341.4H104.0V341.6H104.6V341.4H105.2V341.6H105.8V341.7H106.4V341.5H107.0V341.4H107.6V341.3H108.2V341.7H109.4V341.4H110.0V341.5H110.6V341.4H111.2V342.1H111.8V342.8H121.4V342.6H122.0V341.8H122.6V341.3H123.2V340.8H123.8V340.3H124.4V339.9H125.0V338.7H125.6V338.3H126.2V338.0H126.8V336.8H127.4V338.9H128.0V338.6H128.6V339.3H129.2V341.2H129.8V342.0H130.4V342.6H131.0V342.8H138.2V342.1H138.8V340.7H139.4V340.2H140.0V339.6H140.6V340.4H141.2V341.0H141.8V342.6H142.4V342.8H230.6L230.6,342.8Z" fill="#17955a"/>
<line x1="59.00" y1="342.80" x2="230.60" y2="342.80" stroke="#6cc09a" stroke-width="0.7"/>
<rect x="248.30" y="264.60" width="177.70" height="79.30" fill="#f8f8f8" />
<path d="M248.3,276.7V276.7H248.9V276.1H249.5V275.6H250.1V275.8H250.7V275.6H251.3V276.1H251.9V275.5H252.5V276.0H254.9V275.8H255.5V275.9H256.7V276.1H257.9V276.7H259.1V275.8H259.7V276.7H261.5V275.8H262.1V276.7H276.5V275.8H277.1V276.7H280.1V275.8H280.7V276.7H286.7V276.3H287.3V276.7H288.5V276.3H289.1V276.7H298.1V276.2H298.7V276.7H317.3V275.8H317.9V276.7H321.5V275.8H322.1V276.7H331.1V276.2H331.7V276.7H332.9V276.2H333.5V276.7H335.3V275.8H335.9V276.7H368.9V276.3H369.5V276.7H380.9V275.8H381.5V276.7H396.5V275.9H397.1V276.7H397.7V275.7H398.3V276.7H403.1V275.8H403.7V276.7H420.5V275.7H421.1V275.9H421.7V276.7H425.3V275.8H425.9L426.0,276.7Z" fill="#2424b0"/>
<line x1="248.30" y1="276.70" x2="426.00" y2="276.70" stroke="#7b7fd6" stroke-width="0.7"/>
<path d="M248.3,290.3V290.3H248.9V289.4H249.5V289.2H250.1V288.8H250.7V289.1H251.3V289.4H251.9V289.0H252.5V289.4H253.1V289.5H253.7V288.9H254.3V289.0H254.9V288.3H255.5V288.6H256.1V289.4H257.3V290.3H260.3V289.3H260.9V290.3H273.5V289.8H274.1V290.3H274.7V288.8H275.3V290.3H284.9V289.3H285.5V290.3H295.1V289.3H295.7V290.3H297.5V289.7H298.1V290.3H299.9V289.7H300.5V290.3H305.3V289.8H305.9V290.3H312.5V289.4H313.1V290.3H313.7V289.5H314.3V290.3H320.3V289.6H320.9V290.3H328.7V289.4H329.3V290.3H331.1V289.6H331.7V289.4H332.3V290.3H335.3V289.6H335.9V290.3H344.9V289.3H345.5V290.3H352.1V289.4H352.7V289.9H353.3V289.2H353.9V289.4H355.1V288.8H355.7V289.2H356.3V289.3H356.9V290.3H369.5V289.7H370.1V290.3H392.3V289.3H392.9V290.3H394.1V287.8H394.7V289.5H395.3V290.3H396.5V289.5H397.1V290.3H402.5V289.8H403.1V290.3H407.3V289.5H407.9V290.3H410.9V289.3H411.5V290.3H418.1V289.5H418.7V290.3H420.5V289.9H421.1V290.3H425.9L426.0,290.3Z" fill="#2424b0"/>
<line x1="248.30" y1="290.30" x2="426.00" y2="290.30" stroke="#3a3ab8" stroke-width="0.7"/>
<path d="M248.3,303.3V303.3H249.5V302.4H250.1V303.3H257.9V302.5H258.5V303.3H271.1V302.6H271.7V302.4H272.3V303.3H290.9V302.6H291.5V303.3H293.9V302.7H294.5V303.3H304.7V302.6H305.3V303.3H308.9V302.4H309.5V303.3H317.9V302.7H318.5V303.3H319.1V302.8H319.7V303.3H324.5V302.6H325.1V303.3H326.9V302.7H327.5V303.3H328.1V302.7H328.7V302.5H329.3V302.6H329.9V303.3H334.7V302.7H335.3V303.3H349.7V302.7H350.3V303.3H353.3V303.0H353.9V302.1H354.5V302.5H355.1V303.0H355.7V303.3H356.9V302.8H357.5V303.3H367.1V302.4H367.7V303.3H368.3V302.7H368.9V303.3H376.7V302.4H377.3V303.3H380.9V302.4H381.5V303.3H384.5V302.7H385.1V303.3H388.1V302.6H388.7V303.3H391.1V302.9H391.7V303.3H394.1V296.3H395.3V303.3H395.9V302.4H396.5V303.3H415.7V302.6H416.3V303.3H422.3V302.7H422.9V303.3H425.9L426.0,303.3Z" fill="#ec4f93"/>
<line x1="248.30" y1="303.30" x2="426.00" y2="303.30" stroke="#f08cb8" stroke-width="0.7"/>
<path d="M248.3,316.8V316.8H248.9V316.0H249.5V316.2H250.1V316.1H250.7V316.2H251.3V316.1H252.5V315.9H253.1V316.0H254.9V315.9H255.5V316.1H256.7V315.9H257.3V316.8H265.1V316.3H265.7V316.8H277.7V316.2H278.3V316.0H278.9V316.8H313.1V316.2H313.7V316.8H345.5V316.0H346.1V316.8H353.3V316.6H353.9V315.1H354.5V316.0H355.1V316.6H355.7V316.8H373.7V316.2H374.3V316.8H377.3V316.2H377.9V316.8H389.9V316.0H390.5V316.8H391.7V316.4H392.3V316.8H394.1V310.8H395.3V316.8H397.1V316.1H397.7V316.8H399.5V316.2H400.1V316.8H410.3V316.0H410.9V316.8H425.9L426.0,316.8Z" fill="#ec4f93"/>
<line x1="248.30" y1="316.80" x2="426.00" y2="316.80" stroke="#f08cb8" stroke-width="0.7"/>
<path d="M248.3,330.2V330.2H254.9V322.6H255.5V324.4H256.1V323.0H256.7V327.8H257.3V327.5H257.9V327.6H258.5V329.4H259.1V330.2H263.9V326.7H264.5V330.2H351.5V329.8H352.1V326.9H352.7V327.6H353.3V327.7H353.9V329.1H354.5V329.8H355.1V330.2H425.9L426.0,330.2Z" fill="#f59a1b"/>
<line x1="248.30" y1="330.20" x2="426.00" y2="330.20" stroke="#f7b66a" stroke-width="0.7"/>
<path d="M248.3,343.4V343.4H254.3V341.6H254.9V338.5H255.5V338.7H256.1V338.0H256.7V338.7H257.3V338.6H257.9V340.5H258.5V342.8H259.1V343.4H351.5V342.2H352.1V339.2H352.7V340.6H353.3V341.8H353.9V343.2H354.5V343.4H392.9V343.1H393.5V342.4H394.1V342.6H394.7V343.4H425.9L426.0,343.4Z" fill="#17955a"/>
<line x1="248.30" y1="343.40" x2="426.00" y2="343.40" stroke="#6cc09a" stroke-width="0.7"/>
<text x="43.70" y="275.39" font-size="8.9" text-anchor="end" font-weight="normal" font-style="normal" fill="#231f20" >WT_1</text>
<text x="43.70" y="288.19" font-size="8.9" text-anchor="end" font-weight="normal" font-style="normal" fill="#231f20" >WT_2</text>
<text x="43.70" y="302.62" font-size="9.0" text-anchor="end" font-weight="normal" font-style="normal" fill="#231f20" >ΔNC_1</text>
<text x="43.70" y="313.42" font-size="9.0" text-anchor="end" font-weight="normal" font-style="normal" fill="#231f20" >ΔNC_2</text>
<text x="43.70" y="328.33" font-size="9.3" text-anchor="end" font-weight="normal" font-style="normal" fill="#231f20" >H3K4me3</text>
<text x="43.70" y="339.33" font-size="9.3" text-anchor="end" font-weight="normal" font-style="normal" fill="#231f20" >H3K27ac</text>
<text x="58.20" y="270.23" font-size="6.8" text-anchor="end" font-weight="normal" font-style="normal" fill="#231f20" >30</text>
<text x="58.20" y="284.03" font-size="6.8" text-anchor="end" font-weight="normal" font-style="normal" fill="#231f20" >30</text>
<text x="58.20" y="297.63" font-size="6.8" text-anchor="end" font-weight="normal" font-style="normal" fill="#231f20" >30</text>
<text x="58.20" y="310.93" font-size="6.8" text-anchor="end" font-weight="normal" font-style="normal" fill="#231f20" >30</text>
<text x="58.20" y="322.63" font-size="6.8" text-anchor="end" font-weight="normal" font-style="normal" fill="#231f20" >4</text>
<text x="58.20" y="336.73" font-size="6.8" text-anchor="end" font-weight="normal" font-style="normal" fill="#231f20" >1</text>
<text x="247.40" y="270.23" font-size="6.8" text-anchor="end" font-weight="normal" font-style="normal" fill="#231f20" >80</text>
<text x="247.40" y="284.03" font-size="6.8" text-anchor="end" font-weight="normal" font-style="normal" fill="#231f20" >80</text>
<text x="247.40" y="297.63" font-size="6.8" text-anchor="end" font-weight="normal" font-style="normal" fill="#231f20" >80</text>
<text x="247.40" y="310.93" font-size="6.8" text-anchor="end" font-weight="normal" font-style="normal" fill="#231f20" >80</text>
<text x="247.40" y="322.63" font-size="6.8" text-anchor="end" font-weight="normal" font-style="normal" fill="#231f20" >4</text>
<text x="247.40" y="336.73" font-size="6.8" text-anchor="end" font-weight="normal" font-style="normal" fill="#231f20" >1</text>
<rect x="115.5" y="264.3" width="20.4" height="83.9" fill="none" stroke="#3b3838" stroke-width="0.9"/>
<line x1="125.70" y1="348.20" x2="125.70" y2="357.40" stroke="#3b3838" stroke-width="0.9" />
<text x="135.30" y="367.25" font-size="10.85" text-anchor="middle" font-weight="normal" font-style="normal" fill="#231f20" >Intergenic peak</text>
<rect x="384.4" y="264.1" width="19.9" height="84.0" fill="none" stroke="#3b3838" stroke-width="0.9"/>
<line x1="394.30" y1="348.10" x2="394.30" y2="357.60" stroke="#3b3838" stroke-width="0.9" />
<text x="398.40" y="367.19" font-size="10.65" text-anchor="middle" font-weight="normal" font-style="normal" fill="#231f20" >Intron peak</text>
<line x1="65.00" y1="349.70" x2="84.80" y2="349.70" stroke="#231f20" stroke-width="1.5" />
<text x="75.20" y="357.92" font-size="8.4" text-anchor="middle" font-weight="normal" font-style="normal" fill="#231f20" >5 kb</text>
<line x1="248.40" y1="349.70" x2="264.90" y2="349.70" stroke="#231f20" stroke-width="1.5" />
<text x="257.20" y="357.52" font-size="8.4" text-anchor="middle" font-weight="normal" font-style="normal" fill="#231f20" >5 kb</text>
<text x="-0.30" y="391.60" font-size="20" text-anchor="start" font-weight="bold" font-style="normal" fill="#000" >d</text>
<text x="186.60" y="381.19" font-size="9.2" text-anchor="start" font-weight="normal" font-style="italic" fill="#231f20" >TP53</text>
<text x="269.80" y="381.27" font-size="9.4" text-anchor="start" font-weight="normal" font-style="italic" fill="#231f20" >CDKN1B</text>
<line x1="193.10" y1="388.80" x2="208.00" y2="388.80" stroke="#231f20" stroke-width="1.1"/>
<polyline points="197.50,385.50 193.10,388.80 197.50,392.10" fill="none" stroke="#231f20" stroke-width="1.1"/>
<line x1="293.90" y1="388.80" x2="309.20" y2="388.80" stroke="#231f20" stroke-width="1.1"/>
<polyline points="304.80,385.50 309.20,388.80 304.80,392.10" fill="none" stroke="#231f20" stroke-width="1.1"/>
<line x1="62.90" y1="401.40" x2="212.60" y2="401.40" stroke="#232a8e" stroke-width="2.2"/>
<rect x="71.45" y="394.00" width="1.30" height="14.80" fill="#232a8e" />
<rect x="79.90" y="394.00" width="1.20" height="14.80" fill="#232a8e" />
<rect x="100.35" y="394.00" width="1.30" height="14.80" fill="#232a8e" />
<rect x="102.15" y="394.00" width="1.30" height="14.80" fill="#232a8e" />
<rect x="104.75" y="394.00" width="1.30" height="14.80" fill="#232a8e" />
<rect x="108.30" y="394.00" width="1.20" height="14.80" fill="#232a8e" />
<rect x="112.65" y="394.00" width="1.30" height="14.80" fill="#232a8e" />
<rect x="115.40" y="394.00" width="1.20" height="14.80" fill="#232a8e" />
<rect x="122.15" y="394.00" width="1.30" height="14.80" fill="#232a8e" />
<rect x="123.95" y="394.00" width="1.30" height="14.80" fill="#232a8e" />
<rect x="125.85" y="394.00" width="1.30" height="14.80" fill="#232a8e" />
<rect x="132.75" y="394.00" width="1.10" height="14.80" fill="#232a8e" />
<rect x="62.90" y="397.30" width="9.20" height="7.90" fill="#232a8e" />
<rect x="201.30" y="396.50" width="1.20" height="9.80" fill="#232a8e" />
<rect x="211.80" y="396.50" width="1.20" height="9.80" fill="#232a8e" />
<line x1="298.2" y1="400.8" x2="314.5" y2="400.8" stroke="#232a8e" stroke-width="1.6"/>
<rect x="294.30" y="393.80" width="3.90" height="14.70" fill="#232a8e" />
<rect x="300.70" y="393.80" width="0.90" height="14.70" fill="#232a8e" />
<rect x="314.20" y="397.60" width="6.50" height="7.20" fill="#232a8e" />
<rect x="59.00" y="412.20" width="172.00" height="80.40" fill="#f8f8f8" />
<path d="M59.0,424.5V424.5H60.2V423.6H60.8V424.5H71.0V424.1H71.6V424.5H87.2V423.0H88.4V424.5H92.6V423.0H93.2V424.5H108.8V423.7H109.4V424.5H111.8V423.8H112.4V423.5H113.0V424.5H123.2V423.3H123.8V424.5H136.4V423.6H137.0V424.5H149.0V423.0H150.2V424.5H157.4V423.5H158.0V424.5H158.6V423.0H159.2V424.5H161.6V423.6H162.2V423.0H162.8V424.5H165.8V423.6H166.4V424.5H167.6V424.0H168.2V424.5H172.4V423.5H173.0V424.5H179.0V424.2H179.6V424.1H180.2V424.5H185.6V423.8H186.2V423.9H186.8V423.4H187.4V423.8H188.0V423.6H188.6V423.9H189.2V423.1H189.8V422.7H190.4V422.1H191.0V421.8H191.6V422.7H192.2V422.5H192.8V420.5H193.4V420.7H194.0V421.3H194.6V421.9H195.2V419.9H195.8V419.7H196.4V419.2H197.0V418.4H197.6V419.6H198.2V423.0H198.8V422.3H199.4V422.7H200.0V422.9H200.6V422.0H201.2V422.3H201.8V423.0H202.4V422.8H203.0V422.5H203.6V422.6H204.2V422.8H204.8V421.9H205.4V420.3H206.0V419.3H207.2V422.2H207.8V422.1H208.4V421.0H209.0V418.7H209.6V421.3H210.2V419.7H210.8V420.2H211.4V419.1H212.0V421.2H212.6V422.3H213.2V422.5H213.8V422.6H214.4V422.9H215.0V421.6H215.6V421.8H216.2V421.7H216.8V421.9H217.4V422.6H218.0V423.1H218.6V424.3H219.2V424.5H220.4V423.5H221.0V422.7H221.6V422.2H222.2V422.1H222.8V423.1H223.4V422.8H224.0V422.0H224.6V422.6H225.2V422.8H225.8V421.9H226.4V423.2H227.6V422.8H228.2V423.0H228.8V422.9H229.4V423.4H230.6V422.6H231.2L231.0,424.5Z" fill="#2424b0"/>
<line x1="59.00" y1="424.50" x2="231.00" y2="424.50" stroke="#7b7fd6" stroke-width="0.7"/>
<path d="M59.0,437.7V437.2H59.6V437.7H68.6V436.6H69.2V437.7H78.2V436.8H78.8V437.7H83.6V437.1H84.2V437.7H110.6V437.2H111.2V437.7H116.6V437.0H117.2V437.7H118.4V437.2H119.0V437.7H119.6V436.9H120.2V437.7H140.6V436.5H141.2V437.7H141.8V436.9H142.4V437.7H150.8V437.1H151.4V437.7H155.0V437.0H155.6V437.7H156.8V437.3H157.4V437.7H167.6V436.5H168.2V437.7H175.4V436.6H176.0V437.7H178.4V437.1H179.0V437.7H180.8V437.1H181.4V437.0H182.0V437.7H183.8V436.7H184.4V437.7H188.6V436.6H189.2V435.9H189.8V435.8H190.4V433.5H191.0V434.8H191.6V432.6H192.2V432.7H192.8V434.0H193.4V432.6H194.0V432.3H194.6V432.4H195.2V433.8H195.8V434.2H196.4V433.8H197.0V432.8H197.6V434.6H198.2V436.7H198.8V436.3H199.4V436.2H200.0V435.1H200.6V435.9H201.2V435.7H203.0V435.4H203.6V435.0H204.2V435.5H204.8V434.3H205.4V433.7H206.0V431.9H206.6V433.1H207.2V434.5H207.8V435.4H208.4V434.3H209.0V433.3H209.6V434.3H210.2V435.2H210.8V433.7H211.4V434.5H212.0V433.0H212.6V435.5H213.2V435.4H213.8V434.7H214.4V433.6H215.0V435.4H215.6V435.3H216.2V435.4H216.8V435.0H217.4V433.3H218.0V435.8H218.6V437.3H219.2V437.7H220.4V437.1H221.0V435.3H221.6V436.0H222.2V435.2H222.8V434.9H223.4V436.1H224.0V436.3H224.6V435.1H225.2V436.2H225.8V435.9H226.4V436.4H227.0V435.5H227.6V436.1H228.2V436.7H229.4V436.0H230.0V436.5H230.6V437.6H231.2L231.0,437.7Z" fill="#2424b0"/>
<line x1="59.00" y1="437.70" x2="231.00" y2="437.70" stroke="#3a3ab8" stroke-width="0.7"/>
<path d="M59.0,450.9V450.9H66.8V450.1H67.4V450.9H68.0V450.1H68.6V450.9H74.0V450.5H74.6V450.3H75.2V450.9H84.8V450.3H85.4V450.9H87.8V450.2H88.4V450.3H89.0V450.9H90.2V450.5H90.8V450.9H102.8V450.5H103.4V450.9H116.6V450.0H117.2V450.9H117.8V450.1H118.4V450.9H125.6V450.1H126.2V450.9H134.0V450.4H134.6V450.9H140.6V450.2H141.2V450.9H161.6V450.3H162.2V450.9H170.6V450.1H171.2V450.9H180.8V450.2H181.4V450.9H186.2V450.1H186.8V450.0H187.4V449.7H188.0V449.0H188.6V448.9H189.2V449.5H189.8V448.2H190.4V447.8H191.0V448.9H191.6V447.7H192.2V448.7H192.8V447.7H193.4V448.6H194.0V448.2H194.6V446.8H195.2V447.3H195.8V448.8H196.4V447.8H197.0V448.8H197.6V448.5H198.2V450.2H198.8V450.0H199.4V449.6H200.0V449.5H200.6V449.0H201.2V449.4H202.4V449.5H203.0V448.6H203.6V449.4H204.2V449.1H205.4V449.5H206.0V448.0H206.6V449.1H207.2V448.0H209.0V449.2H209.6V449.0H210.2V449.3H210.8V449.5H211.4V448.3H212.0V449.1H212.6V449.4H213.2V449.2H213.8V449.5H215.6V449.4H216.2V448.7H216.8V449.4H217.4V448.2H218.0V450.0H218.6V450.9H219.8V448.9H220.4V446.2H221.0V448.0H221.6V449.0H222.2V449.8H222.8V449.3H223.4V448.6H224.0V449.7H224.6V448.9H225.2V449.8H225.8V448.8H226.4V449.8H227.0V449.0H227.6V448.9H228.2V449.5H228.8V449.3H229.4V449.2H230.0V449.4H230.6V449.3H231.2L231.0,450.9Z" fill="#ec4f93"/>
<line x1="59.00" y1="450.90" x2="231.00" y2="450.90" stroke="#f08cb8" stroke-width="0.7"/>
<path d="M59.0,464.6V464.6H70.4V463.9H71.0V464.6H75.2V463.7H75.8V464.6H80.6V463.9H81.2V464.6H83.6V463.8H84.2V464.6H87.8V464.1H88.4V464.6H97.4V463.9H98.0V464.6H102.2V464.2H102.8V464.6H108.2V464.0H108.8V464.6H129.8V463.7H130.4V464.6H132.8V464.2H133.4V464.6H140.0V464.2H140.6V464.6H152.6V464.2H153.2V464.6H156.2V464.0H156.8V464.6H159.2V464.1H159.8V464.6H164.6V464.1H165.2V464.6H180.8V463.8H181.4V463.5H182.0V463.6H182.6V462.7H183.2V463.4H183.8V462.2H184.4V462.7H185.0V462.0H185.6V461.8H186.2V462.7H186.8V461.8H187.4V462.3H188.0V462.5H188.6V461.8H189.8V462.1H190.4V461.7H191.0V461.5H191.6V458.9H192.2V459.5H192.8V460.9H193.4V461.5H194.0V459.2H194.6V461.2H195.2V461.9H195.8V460.6H196.4V460.1H197.0V461.4H197.6V462.6H198.2V463.9H198.8V463.8H199.4V462.6H200.0V463.5H200.6V463.3H201.2V463.1H201.8V463.2H202.4V463.4H203.0V463.0H203.6V462.8H204.2V462.2H204.8V463.1H205.4V463.4H206.0V462.7H206.6V463.4H207.2V463.2H207.8V463.3H208.4V462.9H210.2V462.5H210.8V462.8H211.4V463.4H212.0V463.3H212.6V463.0H213.2V462.8H213.8V463.5H214.4V463.4H215.0V462.7H215.6V463.3H216.8V463.4H217.4V463.5H218.0V463.8H218.6V464.6H220.4V463.9H221.0V462.9H221.6V462.7H222.2V462.9H222.8V462.7H223.4V462.6H224.0V462.5H224.6V462.4H225.2V462.8H225.8V463.3H226.4V462.4H227.0V463.4H227.6V462.4H228.2V463.5H228.8V463.0H229.4V463.4H230.0V463.5H230.6V463.0H231.2L231.0,464.6Z" fill="#ec4f93"/>
<line x1="59.00" y1="464.60" x2="231.00" y2="464.60" stroke="#f08cb8" stroke-width="0.7"/>
<path d="M59.0,478.3V478.3H194.0V478.2H194.6V477.9H195.2V477.6H195.8V477.5H196.4V477.2H197.0V477.0H197.6V476.3H198.2V475.6H198.8V475.3H199.4V475.5H200.0V475.4H200.6V475.5H201.2V474.9H202.4V474.8H203.0V474.4H203.6V473.5H204.2V472.9H204.8V473.6H205.4V472.8H206.0V471.9H206.6V470.3H207.2V470.2H208.4V470.1H209.6V471.8H210.2V472.2H210.8V471.5H211.4V473.2H212.0V473.6H212.6V474.1H213.2V475.5H213.8V476.0H214.4V476.8H215.0V477.1H215.6V477.6H216.2V477.8H218.0V477.6H218.6V476.9H219.2V476.6H219.8V475.9H220.4V475.2H221.0V474.9H221.6V472.9H222.8V473.3H223.4V474.5H224.0V474.1H224.6V475.2H225.2V476.0H225.8V477.4H226.4V477.9H227.0V478.2H227.6V478.3H231.2L231.0,478.3Z" fill="#f59a1b"/>
<line x1="59.00" y1="478.30" x2="231.00" y2="478.30" stroke="#f7b66a" stroke-width="0.7"/>
<path d="M59.0,491.7V491.7H195.8V491.6H196.4V491.1H197.0V490.4H197.6V489.7H198.2V489.4H198.8V489.2H199.4V488.6H200.0V488.5H200.6V488.0H201.2V487.7H201.8V486.2H202.4V485.7H203.0V484.7H203.6V485.7H204.2V486.0H204.8V484.8H205.4V485.3H206.0V483.2H206.6V482.3H207.8V483.9H208.4V482.2H209.6V482.3H210.2V482.7H210.8V484.2H211.4V483.9H212.0V483.8H212.6V483.4H213.2V485.0H213.8V485.1H214.4V485.5H215.0V486.4H215.6V486.8H216.2V487.9H216.8V489.1H217.4V489.7H218.0V490.7H218.6V491.0H219.2V490.0H219.8V489.1H220.4V488.2H221.0V488.4H221.6V488.8H222.2V487.8H222.8V488.6H223.4V488.3H224.0V488.4H224.6V488.6H225.2V488.9H225.8V488.6H226.4V489.2H227.0V490.3H227.6V490.6H228.2V491.0H228.8V491.3H229.4V491.6H230.0V491.7H231.2L231.0,491.7Z" fill="#17955a"/>
<line x1="59.00" y1="491.70" x2="231.00" y2="491.70" stroke="#6cc09a" stroke-width="0.7"/>
<rect x="247.60" y="412.20" width="172.20" height="80.40" fill="#f8f8f8" />
<path d="M247.6,423.7V423.7H248.8V423.1H249.4V423.7H253.0V422.7H253.6V423.7H257.8V422.2H258.4V423.7H268.6V422.2H269.2V423.7H270.4V422.9H271.0V423.7H278.2V422.2H278.8V423.7H280.6V423.3H281.2V423.7H284.2V422.7H284.8V422.5H285.4V420.8H286.0V421.8H286.6V422.1H287.2V420.4H287.8V422.0H288.4V420.7H289.0V419.0H289.6V420.6H290.2V422.2H290.8V422.5H291.4V421.7H292.0V422.6H292.6V421.6H293.2V421.7H293.8V422.2H294.4V421.3H295.0V421.8H295.6V420.6H296.2V421.0H296.8V419.5H297.4V420.6H298.0V420.1H298.6V420.5H299.8V419.2H300.4V421.4H301.0V421.6H301.6V419.7H302.2V420.1H302.8V419.7H303.4V421.3H304.0V418.5H304.6V420.8H305.2V420.9H305.8V420.4H306.4V418.4H307.0V418.3H307.6V420.1H308.2V418.7H308.8V420.9H309.4V421.0H310.0V418.0H310.6V419.2H311.2V420.8H311.8V421.2H313.0V421.9H313.6V422.1H314.2V421.4H314.8V422.2H315.4V422.1H316.0V421.7H316.6V421.0H317.2V420.7H317.8V421.5H319.0V421.0H319.6V420.1H320.2V420.6H320.8V420.0H321.4V419.7H322.0V419.3H322.6V421.1H323.2V421.5H323.8V420.1H324.4V421.3H325.0V421.6H325.6V420.7H326.2V421.5H326.8V421.1H327.4V421.8H328.0V421.5H328.6V422.1H329.2V422.5H329.8V421.9H330.4V422.6H331.0V422.3H331.6V422.7H332.2V422.1H333.4V422.5H334.0V422.4H334.6V422.5H335.2V421.7H335.8V422.3H336.4V422.4H337.0V421.8H337.6V422.6H338.2V422.2H338.8V421.6H339.4V421.2H340.0V421.0H340.6V420.5H341.2V419.3H341.8V421.0H342.4V419.3H343.0V419.6H343.6V419.9H344.2V419.6H344.8V418.4H345.4V419.4H346.0V416.8H346.6V416.5H347.2V420.8H347.8V422.4H348.4V422.8H349.6V422.2H350.2V422.9H350.8V422.1H351.4V422.5H352.0V422.3H352.6V422.8H353.2V422.7H353.8V422.4H354.4V422.5H355.0V422.8H355.6V423.6H356.2V423.7H362.2V423.1H362.8V423.7H374.8V422.9H375.4V421.4H376.0V422.6H376.6V422.3H377.2V421.6H377.8V422.2H378.4V422.0H379.0V422.6H379.6V422.2H380.2V421.7H380.8V422.5H381.4V421.1H382.0V422.2H382.6V422.0H383.2V421.5H383.8V421.3H384.4V421.0H385.0V421.4H385.6V421.1H386.2V421.3H386.8V420.8H387.4V421.6H388.0V422.5H388.6V422.3H389.2V421.8H389.8V422.5H390.4V422.0H391.0V423.0H391.6V423.7H409.6V423.2H410.2V423.7H412.6V422.9H413.2V423.7H414.4V422.9H415.0V423.7H416.2V422.7H416.8V423.7H419.8L419.8,423.7Z" fill="#2424b0"/>
<line x1="247.60" y1="423.70" x2="419.80" y2="423.70" stroke="#7b7fd6" stroke-width="0.7"/>
<path d="M247.6,437.3V437.3H259.6V436.4H260.2V436.3H260.8V437.3H266.8V436.7H267.4V437.3H274.6V436.8H275.2V437.3H280.6V436.9H281.2V437.3H284.8V435.4H286.0V435.9H286.6V435.0H287.2V435.8H287.8V435.5H288.4V435.8H289.0V433.2H289.6V434.9H290.2V435.1H290.8V435.0H291.4V435.1H292.0V435.4H292.6V436.1H293.2V435.5H293.8V435.7H294.4V436.0H295.0V435.4H295.6V434.7H296.2V435.1H296.8V435.4H297.4V434.5H298.0V435.9H298.6V434.1H299.2V435.0H299.8V435.5H300.4V434.2H301.0V434.8H301.6V435.0H302.2V433.4H302.8V435.0H303.4V433.4H304.0V433.3H304.6V434.8H305.2V434.7H305.8V433.5H306.4V434.0H307.0V434.6H307.6V433.9H308.2V434.0H308.8V433.0H309.4V433.6H310.0V435.3H310.6V435.2H311.2V435.1H311.8V435.5H313.0V435.2H313.6V435.0H314.2V435.9H314.8V435.5H315.4V434.5H316.0V435.4H316.6V434.5H317.2V434.6H317.8V433.8H318.4V435.0H319.0V433.4H319.6V433.1H320.2V433.7H320.8V434.6H321.4V432.8H322.0V433.8H322.6V433.7H323.2V434.9H323.8V433.6H324.4V435.3H325.0V433.8H325.6V433.7H326.2V434.0H326.8V433.9H327.4V434.0H328.0V434.1H328.6V434.0H329.2V434.4H329.8V435.5H330.4V434.5H331.0V435.4H331.6V435.6H332.2V435.3H332.8V436.0H333.4V435.2H334.0V435.4H334.6V436.0H335.2V435.9H335.8V436.3H336.4V436.2H337.0V435.3H337.6V435.9H338.2V435.4H338.8V435.9H339.4V435.6H340.0V435.2H340.6V434.4H341.8V432.9H342.4V433.7H343.0V434.4H343.6V432.5H344.2V433.8H344.8V433.5H345.4V434.3H346.0V432.9H346.6V433.2H347.2V433.5H347.8V435.0H348.4V436.2H349.0V435.7H349.6V435.8H350.2V436.2H350.8V435.6H351.4V435.0H352.0V435.2H352.6V435.9H353.8V435.1H354.4V435.7H355.0V436.0H355.6V437.2H356.2V437.3H366.4V436.6H367.0V437.3H383.8V435.5H384.4V435.4H385.0V434.4H385.6V434.5H386.2V435.6H386.8V435.7H387.4V435.8H388.0V434.4H388.6V434.5H389.2V434.9H389.8V435.2H391.0V436.7H391.6V437.3H394.0V436.6H394.6V437.3H404.2V436.7H404.8V437.3H406.0V436.6H406.6V437.3H414.4V436.4H415.0V437.3H416.8V436.6H417.4V437.3H419.8L419.8,437.3Z" fill="#2424b0"/>
<line x1="247.60" y1="437.30" x2="419.80" y2="437.30" stroke="#3a3ab8" stroke-width="0.7"/>
<path d="M247.6,450.7V450.7H248.2V450.2H248.8V450.7H252.4V450.2H253.0V450.7H253.6V450.2H254.2V450.7H257.2V449.9H257.8V450.7H269.8V450.2H270.4V450.7H284.8V450.1H285.4V450.7H287.8V449.0H288.4V448.6H289.0V448.2H289.6V448.9H290.2V449.5H290.8V449.6H291.4V450.1H292.0V450.0H292.6V450.2H293.2V450.0H293.8V450.1H294.4V449.8H295.6V450.3H296.2V450.1H296.8V450.3H297.4V450.4H298.0V450.3H298.6V450.2H299.2V450.0H299.8V449.2H300.4V449.6H301.0V448.9H301.6V448.3H302.2V448.0H302.8V449.1H303.4V448.9H304.0V446.8H304.6V448.2H305.2V445.9H305.8V447.3H306.4V446.4H307.0V447.5H307.6V448.1H308.2V447.9H308.8V447.7H309.4V448.5H310.0V446.5H310.6V448.3H311.2V448.9H311.8V448.7H312.4V449.1H313.0V449.6H313.6V449.3H314.2V448.1H314.8V449.0H315.4V448.9H316.0V447.1H316.6V448.2H317.2V447.0H317.8V448.6H318.4V447.8H319.0V446.7H319.6V445.4H320.2V447.4H320.8V445.5H321.4V447.6H322.0V446.8H322.6V447.4H323.2V447.0H324.4V446.3H325.0V446.4H325.6V448.7H326.2V448.9H326.8V449.3H327.4V448.1H328.0V449.3H328.6V450.6H329.2V450.7H334.6V450.0H335.2V450.7H338.8V450.4H339.4V449.4H340.0V447.3H340.6V447.9H341.2V448.1H341.8V441.7H342.4V448.2H343.0V448.0H343.6V446.5H344.2V447.5H344.8V448.1H345.4V445.5H346.0V448.6H347.2V448.0H347.8V450.7H352.0V449.9H352.6V450.7H364.0V449.9H364.6V450.7H367.6V450.3H368.2V449.0H368.8V449.4H369.4V449.3H370.0V449.7H370.6V448.7H371.8V449.5H372.4V449.6H373.0V448.4H373.6V448.8H374.2V448.1H374.8V448.0H375.4V448.1H376.0V449.0H376.6V448.1H377.2V448.0H378.4V447.7H379.0V449.0H379.6V448.5H380.2V447.7H380.8V449.1H381.4V448.9H382.0V447.6H382.6V448.5H383.2V447.9H383.8V448.2H385.0V448.4H385.6V449.7H386.2V449.1H386.8V449.3H387.4V450.1H388.0V450.7H389.2V449.8H389.8V450.7H392.8V450.0H393.4V450.7H403.6V450.2H404.2V450.7H415.6V450.2H416.2V450.7H419.8L419.8,450.7Z" fill="#ec4f93"/>
<line x1="247.60" y1="450.70" x2="419.80" y2="450.70" stroke="#f08cb8" stroke-width="0.7"/>
<path d="M247.6,464.6V463.9H248.2V464.6H251.8V464.0H252.4V464.6H262.6V464.2H263.2V464.6H275.2V463.9H275.8V464.6H281.8V463.7H282.4V464.6H287.8V462.7H288.4V461.3H289.0V462.7H289.6V461.1H290.2V462.5H290.8V463.7H291.4V463.5H292.0V463.6H292.6V464.0H293.2V464.1H293.8V463.7H294.4V463.9H295.0V464.1H295.6V463.8H296.2V464.2H297.4V464.1H298.6V464.3H299.2V464.1H299.8V463.0H300.4V463.3H301.0V463.0H301.6V462.9H302.2V462.3H302.8V462.7H303.4V463.3H304.0V463.2H305.2V463.0H305.8V463.2H306.4V462.8H307.0V463.0H307.6V461.9H308.2V463.0H308.8V461.8H310.0V461.6H310.6V462.6H311.2V462.0H311.8V462.4H312.4V462.8H313.0V463.1H313.6V462.4H314.2V461.9H315.4V462.0H316.0V460.8H316.6V460.9H317.2V462.5H317.8V460.1H318.4V459.7H319.0V461.7H319.6V460.4H320.2V460.8H320.8V461.1H321.4V461.8H322.0V461.6H322.6V462.4H323.2V462.1H323.8V461.1H324.4V462.2H325.0V461.6H325.6V462.5H326.2V461.5H326.8V462.6H327.4V463.4H328.0V463.1H328.6V464.5H329.2V464.6H338.8V464.4H339.4V462.7H340.0V462.5H340.6V462.2H341.2V461.6H341.8V457.6H342.4V460.8H343.0V461.2H343.6V460.9H344.2V461.6H344.8V460.7H345.4V462.9H346.0V463.2H346.6V462.2H347.2V463.2H347.8V464.6H349.0V463.9H349.6V464.6H353.2V464.1H353.8V464.6H367.6V463.8H368.2V464.6H368.8V463.9H369.4V464.6H376.6V464.0H377.2V464.6H378.4V463.9H379.0V464.6H380.2V462.8H380.8V462.7H381.4V461.8H382.0V461.2H382.6V462.4H383.2V462.6H383.8V462.5H384.4V463.1H385.0V463.2H385.6V463.0H386.2V463.1H386.8V463.2H387.4V462.8H388.0V464.1H388.6V464.6H397.6V463.1H398.2V462.9H398.8V463.3H399.4V462.6H400.0V463.0H401.2V463.3H401.8V462.6H402.4V463.2H403.0V463.5H403.6V463.4H404.2V464.6H411.4V463.7H412.0V464.6H412.6V463.8H413.2V464.6H416.8V463.8H417.4V464.6H419.8L419.8,464.6Z" fill="#ec4f93"/>
<line x1="247.60" y1="464.60" x2="419.80" y2="464.60" stroke="#f08cb8" stroke-width="0.7"/>
<path d="M247.6,478.3V478.3H287.2V477.9H287.8V477.4H288.4V477.0H289.0V476.8H289.6V477.1H290.2V476.9H291.4V476.4H292.0V475.9H292.6V475.5H293.2V473.6H293.8V472.2H294.4V471.5H295.0V470.5H295.6V469.5H296.2V469.4H296.8V470.5H297.4V470.0H298.0V472.6H298.6V471.0H299.2V472.6H299.8V472.0H300.4V473.7H301.0V473.6H301.6V473.7H302.2V474.6H302.8V474.7H303.4V475.1H304.0V475.6H304.6V476.3H305.2V476.6H305.8V477.2H306.4V477.6H307.0V478.0H307.6V478.3H325.0V478.2H325.6V478.0H326.2V477.8H326.8V477.7H327.4V477.8H328.0V477.5H328.6V477.6H329.2V477.3H329.8V477.2H331.6V477.0H332.2V477.2H332.8V477.1H334.0V476.7H334.6V476.9H335.2V476.4H335.8V476.5H336.4V477.1H337.0V478.3H338.8V477.3H339.4V476.4H340.0V476.2H340.6V475.2H341.8V475.1H342.4V474.7H343.0V474.6H343.6V474.9H344.2V475.5H344.8V476.6H345.4V477.8H346.0V478.2H346.6V478.3H419.8L419.8,478.3Z" fill="#f59a1b"/>
<line x1="247.60" y1="478.30" x2="419.80" y2="478.30" stroke="#f7b66a" stroke-width="0.7"/>
<path d="M247.6,491.6V491.6H268.0V491.5H268.6V491.4H269.2V491.2H269.8V491.1H270.4V490.8H271.0V490.7H271.6V490.8H272.2V490.7H272.8V490.5H274.0V490.7H274.6V490.4H275.2V490.5H275.8V490.3H276.4V490.2H277.0V490.1H277.6V489.9H278.8V489.5H279.4V489.4H280.0V489.5H280.6V489.4H281.2V489.0H281.8V489.7H282.4V488.9H283.0V489.4H283.6V488.7H284.2V488.9H284.8V488.6H285.4V488.7H286.0V488.4H286.6V487.8H287.2V486.5H288.4V484.9H289.0V486.0H289.6V484.6H290.2V486.4H290.8V486.8H291.4V486.0H292.0V486.7H292.6V487.5H293.2V487.9H293.8V486.6H294.4V486.7H295.0V484.4H295.6V484.9H296.2V485.4H296.8V486.6H298.0V485.6H298.6V487.5H299.2V487.3H299.8V486.3H300.4V486.1H301.0V487.1H301.6V486.9H302.2V486.6H302.8V487.5H303.4V487.3H304.0V487.4H304.6V487.5H305.2V488.4H305.8V488.9H306.4V488.8H307.0V488.7H307.6V489.1H308.2V488.8H310.0V488.7H310.6V488.5H311.2V489.2H311.8V488.8H312.4V488.9H313.0V489.1H313.6V489.6H314.2V489.7H314.8V489.4H315.4V489.1H316.0V489.4H316.6V489.5H317.2V489.2H317.8V489.6H318.4V489.1H319.6V489.5H320.2V488.8H320.8V489.0H321.4V489.2H322.0V488.8H322.6V488.9H323.2V488.2H323.8V488.3H324.4V488.0H325.0V487.6H325.6V487.4H326.2V488.2H326.8V487.3H327.4V487.8H328.0V487.0H328.6V487.1H329.2V486.1H330.4V485.4H331.0V486.1H331.6V486.7H332.2V484.8H332.8V485.8H333.4V484.9H334.0V486.6H334.6V485.6H335.2V486.8H335.8V487.4H336.4V486.0H337.0V487.9H337.6V487.3H338.2V488.0H338.8V489.0H339.4V488.1H340.0V488.3H340.6V487.3H341.2V487.0H341.8V487.6H342.4V487.0H343.0V487.3H343.6V486.8H344.2V487.4H344.8V488.2H346.0V489.6H346.6V490.4H347.2V490.7H347.8V490.9H348.4V491.2H350.2V491.1H350.8V491.2H351.4V491.1H355.0V491.0H355.6V491.1H356.2V491.2H357.4V491.1H358.6V491.0H359.2V491.1H359.8V491.0H360.4V491.1H361.0V491.0H361.6V491.1H362.8V491.0H363.4V491.1H364.0V491.0H369.4V491.1H370.0V491.0H370.6V491.1H371.2V491.0H371.8V491.1H372.4V490.9H373.0V491.0H373.6V491.1H374.2V490.9H374.8V491.1H376.0V490.9H377.2V491.0H378.4V490.9H379.0V491.0H379.6V490.9H380.8V491.1H381.4V491.0H383.2V491.1H383.8V491.2H385.0V491.3H385.6V491.4H386.2V491.3H386.8V491.4H387.4V491.5H389.2V491.6H397.0V491.1H397.6V490.0H398.2V490.2H398.8V490.0H400.0V490.4H400.6V490.9H401.2V491.6H419.8L419.8,491.6Z" fill="#17955a"/>
<line x1="247.60" y1="491.60" x2="419.80" y2="491.60" stroke="#6cc09a" stroke-width="0.7"/>
<text x="43.70" y="421.79" font-size="8.9" text-anchor="end" font-weight="normal" font-style="normal" fill="#231f20" >WT_1</text>
<text x="43.70" y="434.49" font-size="8.9" text-anchor="end" font-weight="normal" font-style="normal" fill="#231f20" >WT_2</text>
<text x="43.70" y="449.52" font-size="9.0" text-anchor="end" font-weight="normal" font-style="normal" fill="#231f20" >ΔNC_1</text>
<text x="43.70" y="460.92" font-size="9.0" text-anchor="end" font-weight="normal" font-style="normal" fill="#231f20" >ΔNC_2</text>
<text x="43.70" y="476.23" font-size="9.3" text-anchor="end" font-weight="normal" font-style="normal" fill="#231f20" >H3K4me3</text>
<text x="43.70" y="488.63" font-size="9.3" text-anchor="end" font-weight="normal" font-style="normal" fill="#231f20" >H3K27ac</text>
<text x="58.30" y="417.03" font-size="6.8" text-anchor="end" font-weight="normal" font-style="normal" fill="#231f20" >30</text>
<text x="58.30" y="431.03" font-size="6.8" text-anchor="end" font-weight="normal" font-style="normal" fill="#231f20" >30</text>
<text x="58.30" y="443.83" font-size="6.8" text-anchor="end" font-weight="normal" font-style="normal" fill="#231f20" >30</text>
<text x="58.30" y="457.43" font-size="6.8" text-anchor="end" font-weight="normal" font-style="normal" fill="#231f20" >30</text>
<text x="58.30" y="469.63" font-size="6.8" text-anchor="end" font-weight="normal" font-style="normal" fill="#231f20" >4</text>
<text x="58.30" y="484.43" font-size="6.8" text-anchor="end" font-weight="normal" font-style="normal" fill="#231f20" >1</text>
<text x="247.50" y="417.03" font-size="6.8" text-anchor="end" font-weight="normal" font-style="normal" fill="#231f20" >50</text>
<text x="247.50" y="431.03" font-size="6.8" text-anchor="end" font-weight="normal" font-style="normal" fill="#231f20" >50</text>
<text x="247.50" y="443.83" font-size="6.8" text-anchor="end" font-weight="normal" font-style="normal" fill="#231f20" >50</text>
<text x="247.50" y="457.43" font-size="6.8" text-anchor="end" font-weight="normal" font-style="normal" fill="#231f20" >50</text>
<text x="247.50" y="469.63" font-size="6.8" text-anchor="end" font-weight="normal" font-style="normal" fill="#231f20" >4</text>
<text x="247.50" y="484.43" font-size="6.8" text-anchor="end" font-weight="normal" font-style="normal" fill="#231f20" >1</text>
<rect x="197.8" y="412.3" width="20.6" height="80.2" fill="none" stroke="#3b3838" stroke-width="0.9"/>
<rect x="284.9" y="412.3" width="27.6" height="80.3" fill="none" stroke="#3b3838" stroke-width="0.9"/>
<line x1="63.80" y1="496.10" x2="102.30" y2="496.10" stroke="#231f20" stroke-width="1.5" />
<text x="83.40" y="504.98" font-size="8.6" text-anchor="middle" font-weight="normal" font-style="normal" fill="#231f20" >5 kb</text>
<line x1="251.90" y1="496.40" x2="278.20" y2="496.40" stroke="#231f20" stroke-width="1.5" />
<text x="266.00" y="504.98" font-size="8.6" text-anchor="middle" font-weight="normal" font-style="normal" fill="#231f20" >5 kb</text>
<text x="446.00" y="235.60" font-size="20" text-anchor="start" font-weight="bold" font-style="normal" fill="#000" >e</text>
<text x="536.10" y="253.98" font-size="7.95" text-anchor="middle" font-weight="normal" font-style="normal" fill="#231f20" >Relative mRNA expression</text>
<line x1="481.20" y1="267.00" x2="481.20" y2="349.40" stroke="#3b3838" stroke-width="0.9" />
<line x1="478.00" y1="349.40" x2="597.00" y2="349.40" stroke="#3b3838" stroke-width="0.9" />
<line x1="478.00" y1="267.00" x2="481.20" y2="267.00" stroke="#3b3838" stroke-width="0.8" />
<text x="474.90" y="269.47" font-size="6.9" text-anchor="end" font-weight="normal" font-style="normal" fill="#231f20" >1.5</text>
<line x1="478.00" y1="294.80" x2="481.20" y2="294.80" stroke="#3b3838" stroke-width="0.8" />
<text x="474.90" y="297.27" font-size="6.9" text-anchor="end" font-weight="normal" font-style="normal" fill="#231f20" >1</text>
<line x1="478.00" y1="322.30" x2="481.20" y2="322.30" stroke="#3b3838" stroke-width="0.8" />
<text x="474.90" y="324.77" font-size="6.9" text-anchor="end" font-weight="normal" font-style="normal" fill="#231f20" >0.5</text>
<line x1="478.00" y1="349.60" x2="481.20" y2="349.60" stroke="#3b3838" stroke-width="0.8" />
<text x="474.90" y="352.07" font-size="6.9" text-anchor="end" font-weight="normal" font-style="normal" fill="#231f20" >0</text>
<rect x="498.00" y="294.90" width="17.80" height="54.50" fill="#7f7f7f" stroke="#4a4747" stroke-width="0.8"/>
<rect x="515.80" y="304.40" width="18.00" height="45.00" fill="#c9c9c9" stroke="#4a4747" stroke-width="0.8"/>
<rect x="547.70" y="294.90" width="17.50" height="54.50" fill="#7f7f7f" stroke="#4a4747" stroke-width="0.8"/>
<rect x="565.20" y="308.10" width="17.80" height="41.30" fill="#c9c9c9" stroke="#4a4747" stroke-width="0.8"/>
<circle cx="501.70" cy="295.20" r="1.35" fill="#6b6b6b" stroke="#3b3838" stroke-width="0.6"/>
<circle cx="511.20" cy="293.20" r="1.35" fill="#6b6b6b" stroke="#3b3838" stroke-width="0.6"/>
<circle cx="511.60" cy="296.20" r="1.35" fill="#6b6b6b" stroke="#3b3838" stroke-width="0.6"/>
<circle cx="506.50" cy="294.90" r="1.35" fill="#6b6b6b" stroke="#3b3838" stroke-width="0.6"/>
<line x1="504.00" y1="294.90" x2="509.00" y2="294.90" stroke="#3b3838" stroke-width="0.8" />
<circle cx="519.20" cy="304.10" r="1.35" fill="#6b6b6b" stroke="#3b3838" stroke-width="0.6"/>
<circle cx="528.20" cy="303.20" r="1.35" fill="#6b6b6b" stroke="#3b3838" stroke-width="0.6"/>
<circle cx="531.60" cy="307.20" r="1.35" fill="#6b6b6b" stroke="#3b3838" stroke-width="0.6"/>
<circle cx="524.00" cy="305.00" r="1.35" fill="#6b6b6b" stroke="#3b3838" stroke-width="0.6"/>
<line x1="522.50" y1="302.80" x2="526.00" y2="302.80" stroke="#3b3838" stroke-width="0.7" />
<line x1="524.20" y1="302.80" x2="524.20" y2="306.00" stroke="#3b3838" stroke-width="0.7" />
<line x1="522.50" y1="306.00" x2="526.00" y2="306.00" stroke="#3b3838" stroke-width="0.7" />
<circle cx="554.20" cy="295.70" r="1.35" fill="#6b6b6b" stroke="#3b3838" stroke-width="0.6"/>
<circle cx="557.90" cy="296.60" r="1.35" fill="#6b6b6b" stroke="#3b3838" stroke-width="0.6"/>
<circle cx="561.50" cy="291.30" r="1.35" fill="#6b6b6b" stroke="#3b3838" stroke-width="0.6"/>
<line x1="555.00" y1="293.50" x2="559.50" y2="293.50" stroke="#3b3838" stroke-width="0.7" />
<line x1="557.20" y1="293.50" x2="557.20" y2="296.50" stroke="#3b3838" stroke-width="0.7" />
<circle cx="572.50" cy="306.30" r="1.35" fill="#6b6b6b" stroke="#3b3838" stroke-width="0.6"/>
<circle cx="574.70" cy="308.10" r="1.35" fill="#6b6b6b" stroke="#3b3838" stroke-width="0.6"/>
<circle cx="577.60" cy="308.80" r="1.35" fill="#6b6b6b" stroke="#3b3838" stroke-width="0.6"/>
<circle cx="577.60" cy="310.30" r="1.35" fill="#6b6b6b" stroke="#3b3838" stroke-width="0.6"/>
<text x="518.40" y="274.33" font-size="5.4" text-anchor="middle" font-weight="normal" font-style="normal" fill="#231f20" ><tspan font-style="italic">P</tspan> = 0.0037</text>
<text x="571.00" y="274.33" font-size="5.4" text-anchor="middle" font-weight="normal" font-style="normal" fill="#231f20" ><tspan font-style="italic">P</tspan> = 0.0028</text>
<polyline points="506.5,282.5 506.5,277.4 527.7,277.4 527.7,282.5" fill="none" stroke="#4a4747" stroke-width="0.9"/>
<polyline points="556.4,282.5 556.4,277.4 575.4,277.4 575.4,282.5" fill="none" stroke="#4a4747" stroke-width="0.9"/>
<text x="514.00" y="360.63" font-size="6.5" text-anchor="middle" font-weight="normal" font-style="italic" fill="#231f20" >CDKN1B</text>
<text x="567.30" y="360.59" font-size="6.4" text-anchor="middle" font-weight="normal" font-style="italic" fill="#231f20" >TP53</text>
<rect x="603.6" y="281.8" width="6.0" height="5.9" fill="#7f7f7f" stroke="#4a4747" stroke-width="0.7"/>
<rect x="603.6" y="292.6" width="6.0" height="5.9" fill="#c9c9c9" stroke="#4a4747" stroke-width="0.7"/>
<text x="614.90" y="287.52" font-size="8.15" text-anchor="start" font-weight="normal" font-style="normal" fill="#231f20" >KO + WT</text>
<text x="614.90" y="299.02" font-size="8.15" text-anchor="start" font-weight="normal" font-style="normal" fill="#231f20" >KO + ΔNC</text>
</svg>
<div class="hm" style="left:236.50px;top:129.80px;width:45.30px;height:58.30px"><div class="hi"><p style="background:linear-gradient(90deg,#fb9c59,#fa9555,#fb9c59,#fa9b58,#f88b51,#f88950,#f7844e,#f57145,#f06640,#e44b33,#d62f27,#c41e27,#d83128,#ac0726,#a50026,#a50026,#a50026,#b20d26,#c11b27,#d93329,#e54e35,#ed5d3c,#f46e43,#f67e4b,#f7804c)"></p><p style="background:linear-gradient(90deg,#fa9555,#fa9656,#fa9b58,#fa9555,#f99354,#f99053,#f7864e,#f57446,#ef633e,#e34932,#d62f27,#c92227,#d62f27,#a50026,#a50026,#a50026,#a90426,#b51026,#c72127,#d93529,#e34932,#ec5c3b,#f47044,#f7834d,#f7824c)"></p><p style="background:linear-gradient(90deg,#fa9b58,#fca45d,#fa9c59,#fa9656,#f99455,#f98e52,#f88850,#f67f4b,#f16640,#ea5739,#dc3b2c,#cc2527,#de3e2d,#b40e26,#a70226,#a90426,#b51026,#c31d27,#d42d27,#dc3c2c,#e85538,#f57245,#f67b4a,#f8864f,#f88b51)"></p><p style="background:linear-gradient(90deg,#fca85e,#fca55d,#fcaa5f,#fcaa5f,#fa9a58,#fa9957,#f99254,#f7804c,#f57647,#ec5c3b,#e24731,#db382b,#e34a33,#c01a27,#ba1426,#b81226,#c31d27,#cf2927,#df402e,#e54e35,#f36b42,#f67d4b,#f88b51,#f99254,#fa9957)"></p><p style="background:linear-gradient(90deg,#fca75e,#fdad60,#fdac60,#fdaa5f,#fdae61,#fca55d,#fba05b,#fa9757,#f67d4a,#f57145,#ea5739,#dd3e2d,#e65036,#ca2427,#c31d27,#c51f27,#cd2627,#dd3e2d,#e54e35,#f16841,#f67d4a,#f8884f,#fa9957,#fba15b,#fb9f5a)"></p><p style="background:linear-gradient(90deg,#fdae61,#fdb265,#fdb063,#fdb164,#fdaf62,#fcaa5f,#fca65d,#fa9b58,#f88d52,#f57346,#ee603d,#e24832,#e95638,#d62f27,#cf2827,#cf2827,#d93429,#e65036,#f16640,#f57748,#f99053,#fb9d59,#fcaa5f,#fca95f,#fca85e)"></p><p style="background:linear-gradient(90deg,#fdb365,#fdba6c,#fdb467,#fdb467,#fdb86b,#fdaf62,#fca95f,#fca95f,#f99254,#f8864f,#f46f44,#e75337,#ef623e,#dd3d2d,#da362a,#dd3c2c,#e54d34,#ef623e,#f57647,#f7864e,#fba05a,#fca55d,#fdaf62,#fdb76a,#fdb467)"></p><p style="background:linear-gradient(90deg,#fdba6c,#fdbb6d,#fdc072,#fdb669,#fdb76a,#fdb466,#fdb96b,#fdb164,#fca95f,#f88d52,#f67e4b,#f26941,#f57145,#df412f,#df402e,#e64f35,#ee613d,#f36c42,#f7864f,#fa9756,#fdad61,#fdb568,#fdb467,#fdb96c,#fdbd6f)"></p><p style="background:linear-gradient(90deg,#fdbb6e,#fdbe71,#fdbd6f,#fdc475,#fdbc6e,#fdc274,#fdb86a,#fdb669,#fdaf62,#fa9c59,#f7824d,#f57446,#f7804c,#e75337,#e95638,#ef623e,#f57346,#f88b51,#fb9d59,#fdac60,#fdb668,#fdb769,#fdbf71,#fdbe70,#fdc273)"></p><p style="background:linear-gradient(90deg,#fdc677,#fec97a,#fdc778,#fec97a,#fdc173,#fdc274,#fdc476,#fdbd6f,#fdb164,#fdad61,#f98f53,#f67e4b,#f7854e,#ec5c3b,#ef633e,#f46d43,#f77f4c,#f99254,#fdad61,#fdb366,#fdbb6d,#fdc072,#fdc475,#fdc577,#fec87a)"></p><p style="background:linear-gradient(90deg,#fecc7d,#fecd7e,#fdc678,#fecb7c,#fecc7d,#fecc7d,#fdc375,#fdbf71,#fdbb6d,#fdb467,#fba35c,#f88c51,#f99053,#f57145,#f47044,#f7814c,#f88d52,#fba25b,#fdb669,#fdc274,#fdc072,#fec97a,#fec97b,#fecd7e,#feca7b)"></p><p style="background:linear-gradient(90deg,#fecd7e,#fecd7e,#fed081,#fecd7e,#fed182,#fecf80,#fecf80,#feca7b,#fec879,#fdbf71,#fdae61,#fa9957,#fa9857,#f67948,#f67a49,#f88b51,#fb9f5a,#fdb163,#fdc173,#fec97a,#fdc677,#fecf80,#feca7b,#fecb7c,#fed182)"></p><p style="background:linear-gradient(90deg,#fecd7e,#fecd7e,#fecf80,#fece7f,#fecd7f,#fed485,#fed081,#fece7f,#fdc778,#fdbf71,#fdb164,#fba05b,#fb9e5a,#f7834d,#f88850,#fb9f5a,#fdb568,#fdc274,#feca7b,#fed182,#fecc7d,#fed081,#fecf80,#fecf80,#fecf80)"></p><p style="background:linear-gradient(90deg,#fed585,#fed98a,#fed182,#fed283,#fed485,#fed485,#fed283,#fed788,#fecd7f,#fecb7d,#fdc173,#fdb063,#fcaa5f,#fa9656,#fa9656,#fca55d,#fdbb6e,#fec97a,#fecf80,#fed182,#fed182,#fed384,#fed384,#fed989,#fed888)"></p><p style="background:linear-gradient(90deg,#fedb8b,#fed686,#feda8a,#fed788,#fedd8d,#fedd8d,#feda8b,#fed686,#fed384,#fece7f,#fec779,#fdb669,#fdb567,#fba05a,#fdac60,#fdb366,#fec97a,#fecb7d,#fed182,#fedc8c,#fed889,#fed586,#fed384,#fed989,#feda8b)"></p><p style="background:linear-gradient(90deg,#fedf8f,#fed788,#fedf8f,#fedb8b,#fedf8f,#fedc8c,#fed788,#fedf8f,#fed787,#fed687,#fec97b,#fdbd6f,#fdbf71,#fca75e,#fdb467,#fec779,#fed485,#fed788,#fedb8b,#fedd8e,#fedf8f,#fedd8d,#fede8e,#fed889,#fee091)"></p><p style="background:linear-gradient(90deg,#fedd8d,#fedc8c,#fee293,#fedb8b,#fedd8d,#fedb8c,#fee191,#fee090,#fedf90,#fed787,#fed484,#fec97b,#fdc476,#fdb96c,#fdc475,#fed182,#fed485,#fedf8f,#feda8b,#fee192,#fee191,#fedf8f,#fee192,#fee090,#fedb8b)"></p><p style="background:linear-gradient(90deg,#fedf8f,#fedf90,#fee191,#fede8f,#fede8e,#fee192,#fee090,#fee497,#fee090,#fee191,#fed989,#fecf80,#fece7f,#fdc678,#fdc678,#fedb8b,#fedf8f,#fee293,#fee394,#fee090,#fede8e,#fee395,#fee191,#fee394,#fee192)"></p><p style="background:linear-gradient(90deg,#fee496,#fee699,#fee699,#fee598,#fee192,#fee495,#fee598,#fee192,#fee091,#fee395,#fee395,#fedc8c,#fed888,#fece7f,#fed98a,#fee192,#fee496,#fee395,#fee192,#fee293,#fee496,#fee496,#fee395,#fee497,#fee597)"></p><p style="background:linear-gradient(90deg,#fee89c,#fee79a,#fee394,#fee89c,#fee598,#fee597,#fee395,#fee79b,#fee79a,#fee79a,#fee597,#fee191,#fed788,#fed485,#fedc8c,#fee79a,#fee89c,#fee496,#fee395,#fee699,#fee598,#fee99d,#fee699,#fee394,#fee395)"></p><p style="background:linear-gradient(90deg,#fee598,#fee497,#fee99d,#feea9f,#fee99e,#fee79b,#fee699,#fee597,#fee699,#fee69a,#fee598,#fee598,#fee394,#fee598,#fee395,#fee99d,#fee597,#fee69a,#fee99d,#feea9f,#fee99d,#fee69a,#fee699,#feea9f,#feea9f)"></p><p style="background:linear-gradient(90deg,#fee99d,#fee99d,#feea9f,#feeba0,#fee89d,#feeca2,#feeaa0,#fee99e,#fee699,#fee89c,#fee79a,#fee99e,#feeba0,#feeba0,#fee699,#fee89c,#feeaa0,#feeca2,#fee99e,#fee89c,#feea9e,#feeba0,#fee89c,#fee69a,#feeba0)"></p><p style="background:linear-gradient(90deg,#feeea5,#feeca2,#feeba1,#feea9e,#feeda3,#fee99d,#fee99e,#feeba0,#feeda3,#fee89c,#feeca2,#fee99d,#feeca3,#feeca3,#fee99e,#feeca2,#fee89c,#feeba0,#feeda3,#feeca3,#feeba1,#feea9f,#fee89c,#feeda4,#feeba1)"></p><p style="background:linear-gradient(90deg,#feeea5,#fee99e,#feeea6,#feefa7,#feefa7,#feeda4,#feea9f,#feea9f,#feeba0,#fee99e,#feea9e,#feeda4,#feeea5,#feea9e,#feeba0,#feefa7,#feeba1,#feeda4,#feeda4,#feeda4,#feeea6,#feefa7,#feeea5,#feeda4,#fee99e)"></p><p style="background:linear-gradient(90deg,#fff0a8,#feeba0,#feefa7,#feefa6,#feeca2,#feeca2,#feeea5,#fff0a9,#feeea5,#feeea6,#feeba1,#fff0a8,#feeea6,#feeba1,#fff1a9,#feeea6,#feeca2,#feeca2,#fff1a9,#fff1a9,#fff0a9,#feeba1,#feefa7,#feeca2,#feeba1)"></p><p style="background:linear-gradient(90deg,#fff0a8,#fff0a9,#feeca2,#feeea6,#fff0a9,#feeea5,#fff0a8,#fff0a9,#fff2ab,#feeda4,#feeca3,#feeea5,#feeca3,#fff2ab,#fff1a9,#feefa7,#feeca2,#feeca2,#fff0a8,#fff1a9,#feefa7,#feefa7,#feeca3,#fff1aa,#feeda4)"></p><p style="background:linear-gradient(90deg,#feefa6,#feeea6,#feefa6,#fff0a8,#fff1aa,#fff1aa,#fff1aa,#feeea6,#fff3ad,#fff2ab,#feefa6,#fff2ab,#fff3ad,#fff3ad,#fff0a8,#fff1aa,#feeda4,#feeea5,#feeda4,#fff2ab,#fff3ad,#fff3ac,#fff0a9,#feefa7,#fff1a9)"></p><p style="background:linear-gradient(90deg,#fff3ad,#fff2ab,#fff1a9,#fff0a9,#fff0a8,#feefa7,#fff0a9,#fff4ae,#feefa7,#fff3ac,#fff1aa,#fff2ac,#fff0a8,#fff3ad,#fff3ad,#fff3ad,#fff4ae,#feefa7,#fff1aa,#fff2ac,#fff2ab,#feeea6,#fff1aa,#fff3ad,#feefa7)"></p><p style="background:linear-gradient(90deg,#fff1aa,#feefa7,#fff5b0,#fff3ac,#fff0a9,#fff0a9,#fff0a8,#fff5b0,#fff4ae,#fff5af,#fff4af,#feefa7,#fff2ab,#fff0a8,#fff3ad,#fff0a8,#fff3ac,#fff4ae,#fff1a9,#fff0a8,#fff5b0,#fff2ab,#fff2ab,#fff4af,#fff3ad)"></p><p style="background:linear-gradient(90deg,#fff6b1,#fff5b0,#fff5b0,#fff3ac,#fff2ac,#fff5b0,#fff6b2,#fff4af,#fff2ac,#fff5b0,#fff4af,#fff5b0,#fff1aa,#fff3ad,#fff6b1,#fff6b1,#fff4ae,#fff3ad,#fff2ac,#fff6b1,#fff5b0,#fff2ab,#fff4ae,#fff5af,#fff4af)"></p><p style="background:linear-gradient(90deg,#fff1aa,#fff5b0,#fff4ae,#fff5b0,#fff5af,#fff2ab,#fff1aa,#fff5b0,#fff6b1,#fff3ac,#fff6b1,#fff7b3,#fff2ab,#fff5af,#fff2ab,#fff5af,#fff2ab,#fff4af,#fff6b2,#fff7b3,#fff4ae,#fff3ad,#fff2ab,#fff7b2,#fff3ad)"></p><p style="background:linear-gradient(90deg,#fff6b1,#fff5af,#fff7b3,#fff6b1,#fff5af,#fff2ab,#fff7b3,#fff5b0,#fff3ad,#fff2ab,#fff7b2,#fff7b3,#fff2ab,#fff2ab,#fff5b0,#fff8b4,#fff2ab,#fff5b0,#fff2ac,#fff4ae,#fff3ac,#fff7b3,#fff3ad,#fff6b2,#fff5b0)"></p><p style="background:linear-gradient(90deg,#fff3ad,#fff3ad,#fff7b3,#fff7b3,#fff6b1,#fff5b0,#fff6b1,#fff8b4,#fff7b3,#fff4ae,#fff3ac,#fff8b5,#fff5b0,#fff4ae,#fff8b5,#fff3ad,#fff8b4,#fff5af,#fff5b0,#fff4af,#fff6b2,#fff6b1,#fff5af,#fff6b1,#fff4af)"></p><p style="background:linear-gradient(90deg,#fff6b1,#fff6b1,#fff9b5,#fff5b0,#fff6b1,#fff7b3,#fff4ae,#fff4ae,#fff6b1,#fff8b4,#fff6b1,#fff8b4,#fff8b4,#fff6b1,#fff8b5,#fff6b1,#fff6b1,#fff8b5,#fff5af,#fff8b5,#fff4af,#fff4ae,#fff6b1,#fff8b5,#fff6b1)"></p><p style="background:linear-gradient(90deg,#fff6b2,#fff3ad,#fff8b4,#fff3ae,#fff3ac,#fff4af,#fff4ae,#fff8b4,#fff3ac,#fff6b1,#fff3ad,#fff3ad,#fff8b4,#fff4ae,#fff3ad,#fff8b5,#fff7b2,#fff4ae,#fff8b4,#fff3ad,#fff7b3,#fff4ae,#fff8b4,#fff6b1,#fff3ad)"></p><p style="background:linear-gradient(90deg,#fff8b4,#fff7b3,#fff6b1,#fff7b3,#fff9b5,#fff8b4,#fff8b4,#fff3ad,#fff5af,#fff3ad,#fff8b4,#fff4ae,#fff8b5,#fff6b1,#fff5b0,#fff7b2,#fff3ad,#fff5b0,#fff5b0,#fff3ad,#fff8b5,#fff3ac,#fff5b0,#fff6b2,#fff4ae)"></p></div></div><div class="hm" style="left:284.60px;top:129.80px;width:45.30px;height:58.30px"><div class="hi"><p style="background:linear-gradient(90deg,#f98e52,#f7854e,#f7824d,#f67a49,#f26941,#ee613d,#ea583a,#e24731,#e14531,#d83228,#d42d27,#c41e27,#ea5739,#ab0526,#a50026,#a50026,#b10c26,#c31d27,#d83228,#e34a33,#f16640,#f67a49,#f7844d,#fa9656,#fa9556)"></p><p style="background:linear-gradient(90deg,#f88950,#f99154,#f88950,#f67a49,#f57145,#ef623e,#ea5839,#e34932,#de3f2e,#db392b,#d12a27,#c62027,#ef623e,#a70226,#a60126,#a60126,#b00b26,#bd1726,#d22b27,#e24832,#f16740,#f67d4a,#f98f53,#f99053,#f99154)"></p><p style="background:linear-gradient(90deg,#fa9656,#f99254,#f98e52,#f67e4b,#f57547,#f46e44,#eb5a3a,#eb5a3a,#e34a33,#df422f,#db382b,#d32c27,#ef633e,#b91426,#ac0726,#a80326,#bb1526,#cd2627,#dc3b2c,#eb593a,#f47045,#f7814c,#fa9656,#fa9c59,#fb9c59)"></p><p style="background:linear-gradient(90deg,#fca45d,#fa9957,#f99555,#f88d52,#f88c51,#f57546,#f26a41,#ef623e,#e85438,#e54e35,#e14531,#db382b,#f57547,#c41e27,#b91326,#b61026,#c21c27,#d42d27,#e44b34,#f46d43,#f7814c,#f99355,#fa9957,#fba25b,#fca55d)"></p><p style="background:linear-gradient(90deg,#fca65d,#fba25b,#fca75e,#fa9756,#fa9957,#f88a50,#f67e4b,#f36b42,#ed5f3c,#ea5739,#e75136,#dd3c2d,#f77f4b,#cd2627,#bf1927,#c31d27,#cf2927,#df402e,#eb593a,#f67b49,#f88c51,#fa9c59,#fba25b,#fdab60,#fca75e)"></p><p style="background:linear-gradient(90deg,#fdaf62,#fdb164,#fdb063,#fca55d,#fca45d,#f98f53,#f88d52,#f7824d,#f57647,#ef623e,#ed5e3c,#e75337,#f98f53,#d93329,#cc2527,#cf2927,#da372a,#e65036,#f57547,#f88950,#fb9f5a,#fca55d,#fdab60,#fdad60,#fdb568)"></p><p style="background:linear-gradient(90deg,#fdb265,#fdb164,#fdaf62,#fdb467,#fdae61,#fca65d,#fa9b58,#f7854e,#f67a49,#f57245,#f0653f,#eb5a3a,#fa9756,#df402e,#da372a,#d93429,#e54d34,#f16640,#f7824d,#fb9f5a,#fdad60,#fdb466,#fdb365,#fdb76a,#fdb86a)"></p><p style="background:linear-gradient(90deg,#fdb669,#fdbb6d,#fdb669,#fdb669,#fdb86b,#fdae61,#fca35c,#f99355,#f88d52,#f67e4b,#f57547,#f36c42,#fa9a58,#e54d34,#dd3c2c,#e34a33,#ee5f3d,#f67949,#f98e52,#fba15b,#fdb86a,#fdb86b,#fdba6d,#fdb86a,#fdbe70)"></p><p style="background:linear-gradient(90deg,#fdc072,#fdc173,#fdbc6e,#fdc072,#fdb669,#fdb86b,#fdb264,#fba15b,#fa9857,#f99354,#f7814c,#f67b49,#fca65d,#e75237,#e34a33,#e85337,#f36b42,#f8884f,#fba35c,#fdae61,#fdbe71,#fdba6c,#fdc476,#fdc374,#fdc274)"></p><p style="background:linear-gradient(90deg,#fdc072,#fdc476,#fdc577,#fdbf71,#fdc476,#fdbe70,#fdb86a,#fdad61,#fba25b,#fa9957,#f99254,#f7854e,#fdb769,#ed5d3c,#ea583a,#ee603d,#f67f4b,#fa9857,#fdac60,#fdba6d,#fdc576,#fdc475,#fdc072,#fdc778,#fec779)"></p><p style="background:linear-gradient(90deg,#feca7c,#fdc678,#fdc577,#fecc7d,#fecb7c,#fec779,#fdc274,#fdb96b,#fdb467,#fca95f,#fba15b,#f88a51,#fdb96c,#f57346,#ef623e,#f57848,#f88d52,#fba15b,#fdb769,#fdc072,#fec779,#fecb7c,#fdc778,#fecc7e,#fecb7d)"></p><p style="background:linear-gradient(90deg,#fece7f,#fed182,#fece7f,#feca7b,#feca7b,#fecb7c,#fdc678,#fdc274,#fdbe70,#fdb164,#fdab60,#fa9b58,#fdc072,#f67c4a,#f57547,#f7804c,#fb9e5a,#fdb86a,#fdc072,#fdc577,#fec97a,#feca7c,#fec97a,#fecb7c,#fecb7c)"></p><p style="background:linear-gradient(90deg,#fed182,#fed283,#fecf80,#fed585,#fed182,#fecd7e,#fecc7d,#fec97a,#fdc677,#fdbc6f,#fdb567,#fca95f,#fecd7e,#f7864f,#f67e4b,#fa9756,#fdab60,#fdbd6f,#fecc7d,#fecf80,#fecb7d,#fed586,#fed081,#fed485,#fece7f)"></p><p style="background:linear-gradient(90deg,#fed081,#fed485,#fed889,#fed484,#fed485,#fed283,#fed384,#fed081,#fec97a,#fdc576,#fdbf71,#fdb164,#fed787,#f99355,#f99455,#fba05a,#fdbd70,#fdc476,#fed283,#fed889,#fed787,#fed586,#fed98a,#fed586,#fed586)"></p><p style="background:linear-gradient(90deg,#fed687,#feda8a,#fedb8b,#fedb8b,#fed686,#fed484,#fed888,#feda8a,#fed181,#fecf80,#feca7b,#fdc374,#fed989,#fb9e5a,#fb9f5a,#fdb265,#fdc476,#fed485,#fed283,#fed98a,#fed787,#fed586,#fed586,#fed889,#feda8b)"></p><p style="background:linear-gradient(90deg,#fedb8c,#fee090,#fed889,#fedd8d,#fed889,#fede8e,#fedd8d,#fede8e,#fedb8b,#fed989,#fed585,#fdc678,#fee395,#fdb164,#fdb164,#fdbf71,#fed081,#fed788,#feda8a,#fedd8d,#fed788,#fed889,#fee090,#fed989,#fed888)"></p><p style="background:linear-gradient(90deg,#fedc8d,#fee293,#fedc8c,#fede8e,#fee394,#fee394,#fedb8b,#fede8e,#fee191,#fee091,#fedc8c,#fed485,#fee597,#fdba6c,#fdbe70,#fdc678,#fed586,#fee191,#fedb8b,#fede8e,#fedc8d,#fede8e,#fedb8c,#fedc8d,#fedc8c)"></p><p style="background:linear-gradient(90deg,#fee395,#fee091,#fee192,#fee090,#fee293,#fedf8f,#fee192,#fee395,#fee395,#fee495,#fee090,#fedf8f,#feeba1,#fdc677,#fdc678,#fed586,#fedf8f,#fedf8f,#fee597,#fedf8f,#fee293,#fee192,#fee191,#fedf8f,#fee294)"></p><p style="background:linear-gradient(90deg,#fee496,#fee191,#fee699,#fee394,#fee394,#fee79a,#fee394,#fee294,#fee191,#fee597,#fee090,#fee192,#feefa7,#fec87a,#fed687,#fedc8d,#fee293,#fee597,#fee192,#fee497,#fee496,#fee395,#fee293,#fee598,#fee496)"></p><p style="background:linear-gradient(90deg,#fee699,#fee598,#fee395,#fee79a,#fee395,#fee699,#fee598,#fee79a,#fee598,#fee394,#fee497,#fee294,#fff3ad,#fed989,#fedf8f,#fee395,#fee497,#fee496,#fee89d,#fee496,#fee395,#fee598,#fee89d,#fee79a,#fee99d)"></p><p style="background:linear-gradient(90deg,#fee99e,#fee597,#fee79a,#fee69a,#fee698,#fee597,#fee79a,#fee79a,#fee79a,#fee699,#fee79a,#fee699,#fff8b4,#fee191,#fee597,#fee598,#feea9f,#fee99e,#feea9f,#fee699,#fee597,#fee69a,#fee89c,#fee598,#fee698)"></p><p style="background:linear-gradient(90deg,#fee99d,#feeba0,#feeaa0,#feea9e,#feea9f,#fee99e,#fee89c,#fee69a,#feeca2,#fee99d,#feeca2,#feeba1,#fff8b4,#fee99d,#fee69a,#fee99e,#feeca2,#feea9f,#fee89d,#fee69a,#fee699,#fee99e,#feea9f,#feeca1,#fee89c)"></p><p style="background:linear-gradient(90deg,#feeca3,#feeda3,#feeea5,#feeea5,#feea9e,#feeda4,#fee89c,#feeda4,#fee89d,#feeda4,#feeea5,#fee99e,#fffcba,#fee99e,#feeda3,#feeda4,#fee99e,#fee99e,#fee89d,#fee99e,#feeda4,#feea9f,#fee99e,#feeba1,#fee89c)"></p><p style="background:linear-gradient(90deg,#feeea5,#fee99e,#feeba0,#feefa7,#feefa7,#feeba1,#feeaa0,#feefa6,#feeda4,#feeba0,#feeea6,#feea9f,#fffab8,#feefa7,#feeda4,#feeca2,#feeda3,#feeba1,#feeea6,#feeaa0,#feeda4,#feeba1,#feeba1,#feeda3,#feeda4)"></p><p style="background:linear-gradient(90deg,#feeca2,#feeba1,#feeca2,#feeda4,#feefa7,#fff0a9,#feeba0,#feeca3,#feeca2,#feefa6,#feeda4,#feeba0,#fff8b5,#feeda4,#feefa6,#feeea5,#feeba1,#feeea6,#feeda3,#feeda4,#feeba1,#feeca2,#feefa7,#fff1a9,#feefa7)"></p><p style="background:linear-gradient(90deg,#feefa7,#feeea6,#feeda4,#feeda3,#fff2ab,#feeda4,#feeda4,#feeda3,#feefa6,#fff0a9,#feeda3,#feeda4,#fff9b6,#feeca3,#fff0a8,#fff2ab,#feefa6,#feeda4,#fff1aa,#feeda4,#feeca3,#fff1a9,#feeea6,#feeea5,#feefa7)"></p><p style="background:linear-gradient(90deg,#fff2ab,#fff2ab,#feefa6,#feeea6,#fff0a9,#fff3ac,#feeea6,#feefa6,#fff2ab,#fff0a8,#feeea5,#feeea5,#fffab8,#fff0a9,#fff0a8,#fff2ac,#fff2ac,#fff2ac,#feefa7,#fff1aa,#fff0a8,#fff1aa,#fff0a8,#fff2ac,#fff3ad)"></p><p style="background:linear-gradient(90deg,#feeea6,#fff2ac,#fff4ae,#fff1a9,#fff0a8,#fff4ae,#fff1a9,#fff2ac,#fff1aa,#fff4af,#fff4af,#feeea6,#fff8b4,#fff1aa,#fff1aa,#fff3ad,#fff0a8,#fff2ab,#feefa6,#fff0a8,#feefa7,#feeea6,#fff3ad,#fff4af,#fff3ad)"></p><p style="background:linear-gradient(90deg,#fff4af,#fff5b0,#fff5b0,#fff2ab,#fff0a8,#fff3ac,#fff0a8,#fff0a8,#fff5b0,#fff2ab,#fff3ad,#fff5af,#fff7b3,#fff4ae,#fff2ab,#fff2ab,#fff0a8,#fff1aa,#fff3ad,#fff3ac,#fff5af,#fff0a8,#feefa7,#fff4af,#fff5b0)"></p><p style="background:linear-gradient(90deg,#fff5b0,#fff4af,#fff1a9,#fff1a9,#fff1aa,#fff6b2,#fff2ab,#fff2ab,#fff2ac,#fff0a9,#fff6b1,#fff6b1,#fff8b4,#fff1a9,#fff2ac,#fff5af,#fff3ac,#fff2ab,#fff6b1,#fff4af,#fff5b0,#fff6b1,#fff3ad,#fff5b0,#fff5b0)"></p><p style="background:linear-gradient(90deg,#fff6b2,#fff3ad,#fff7b3,#fff3ac,#fff6b1,#fff7b3,#fff1aa,#fff6b1,#fff1aa,#fff2ab,#fff2ab,#fff6b2,#fff9b6,#fff7b2,#fff1aa,#fff2ab,#fff3ad,#fff4af,#fff5b0,#fff2ab,#fff4af,#fff3ad,#fff6b2,#fff6b1,#fff7b3)"></p><p style="background:linear-gradient(90deg,#fff3ad,#fff4af,#fff7b3,#fff2ac,#fff6b2,#fff5b0,#fff7b3,#fff6b2,#fff3ac,#fff6b1,#fff7b3,#fff5b0,#fffab7,#fff2ac,#fff7b3,#fff2ab,#fff7b4,#fff2ac,#fff4ae,#fff7b2,#fff5b0,#fff6b1,#fff6b2,#fff7b2,#fff6b1)"></p><p style="background:linear-gradient(90deg,#fff2ac,#fff2ac,#fff3ac,#fff8b4,#fff7b2,#fff3ac,#fff8b4,#fff4ae,#fff7b2,#fff2ac,#fff8b5,#fff3ad,#fff9b5,#fff7b4,#fff8b5,#fff3ad,#fff5b0,#fff7b3,#fff6b1,#fff3ac,#fff7b3,#fff5b0,#fff7b4,#fff7b3,#fff4ae)"></p><p style="background:linear-gradient(90deg,#fff4af,#fff7b4,#fff8b5,#fff8b5,#fff5b0,#fff6b1,#fff7b3,#fff7b3,#fff5b0,#fff4af,#fff4ae,#fff5b0,#fff8b5,#fff8b5,#fff4af,#fff6b2,#fff4af,#fff8b5,#fff4ae,#fff7b2,#fff3ae,#fff3ad,#fff6b1,#fff9b5,#fff3ad)"></p><p style="background:linear-gradient(90deg,#fff6b1,#fff3ad,#fff7b3,#fff8b4,#fff4ae,#fff7b2,#fff8b4,#fff6b2,#fff5b0,#fff9b6,#fff6b1,#fff6b1,#fff6b1,#fff8b4,#fff4af,#fff4ae,#fff3ad,#fff7b3,#fff4af,#fff6b2,#fff4af,#fff8b5,#fff3ad,#fff3ad,#fff6b1)"></p><p style="background:linear-gradient(90deg,#fff6b1,#fff6b1,#fff5b1,#fff9b5,#fff3ad,#fff7b3,#fff8b4,#fff8b5,#fff7b3,#fff4ae,#fff9b5,#fff8b5,#fff4af,#fff8b4,#fff9b5,#fff5b0,#fff5b0,#fff6b1,#fff4af,#fff8b5,#fff3ad,#fff4af,#fff9b5,#fff8b4,#fff6b1)"></p></div></div><div class="hm" style="left:351.50px;top:129.80px;width:45.30px;height:58.30px"><div class="hi"><p style="background:linear-gradient(90deg,#dc3b2c,#dd3d2d,#de402e,#dd3d2d,#df402f,#dc3b2c,#db382b,#df412f,#dd3d2d,#dc3b2c,#e0432f,#dc3b2c,#dc3a2c,#df412f,#df412f,#dd3c2d,#df412f,#e04330,#dd3c2d,#de3f2e,#e14530,#e24631,#e14531,#e14530,#de3e2d)"></p><p style="background:linear-gradient(90deg,#da372a,#da362a,#da372a,#da372a,#df412f,#dd3c2d,#da372a,#db382b,#df412f,#de3f2e,#dd3d2d,#df402f,#de3f2e,#e14531,#df412f,#df402f,#e24731,#e14631,#dd3c2d,#de3f2e,#dd3d2d,#df412f,#de402e,#de3f2e,#de3f2e)"></p><p style="background:linear-gradient(90deg,#f7804c,#f67948,#f67e4b,#f67949,#f67f4b,#f67c4a,#f57748,#f67b4a,#f7814c,#f67e4b,#f77f4b,#f67948,#f7824d,#f7824d,#f67e4b,#f7854e,#f7804c,#f67b4a,#f7824d,#f7854e,#f7834d,#f7834d,#f88850,#f88950,#f88950)"></p><p style="background:linear-gradient(90deg,#fca85e,#fca65e,#fca85e,#fca95f,#fdac60,#fca65e,#fba35c,#fca65e,#fca75e,#fca75e,#fdad61,#fca75e,#fdab5f,#fcaa5f,#fcaa5f,#fdac60,#fdae61,#fdaf62,#fdb063,#fdad61,#fdaf62,#fdad61,#fdb366,#fdb063,#fcaa5f)"></p><p style="background:linear-gradient(90deg,#fdbb6d,#fdb86a,#fdb96b,#fdbb6d,#fdb467,#fdbc6e,#fdb76a,#fdbe70,#fdbf71,#fdb76a,#fdbc6e,#fdc072,#fdbd6f,#fdbd6f,#fdba6d,#fdc173,#fdc072,#fdb96b,#fdbc6e,#fdc274,#fdc072,#fdc072,#fdbe70,#fdbf71,#fdbc6e)"></p><p style="background:linear-gradient(90deg,#fdbe70,#fdc173,#fdc072,#fdc072,#fdc072,#fdc375,#fdc072,#fdc273,#fdc072,#fec87a,#fdc173,#feca7b,#fdc374,#fdc576,#fdc678,#fdc274,#fdc678,#fec879,#fdc576,#fdc476,#fec779,#feca7b,#fec97b,#feca7b,#fdc778)"></p><p style="background:linear-gradient(90deg,#feca7b,#fec97a,#fec779,#fec97b,#feca7c,#fdc678,#fdc677,#feca7b,#feca7c,#fecd7f,#fecd7e,#fece80,#fecb7c,#fecb7c,#fed081,#fec87a,#fece7f,#feca7b,#feca7b,#fec97a,#fed182,#fecf80,#fecb7c,#fed485,#fed484)"></p><p style="background:linear-gradient(90deg,#fecb7c,#fecc7d,#fec879,#feca7b,#fecc7e,#fec87a,#fecd7e,#fece7f,#fecc7d,#fed081,#fed081,#fece7f,#fed182,#fecb7d,#fece7f,#fed081,#fed586,#fed283,#fed383,#fed182,#fed182,#fecf80,#fece7f,#fed384,#fed485)"></p><p style="background:linear-gradient(90deg,#fece7f,#feca7c,#fed182,#fed081,#fecd7e,#fed485,#fed384,#fecc7e,#fece7f,#fed283,#fed687,#fecf80,#fed182,#fed081,#fecf80,#fed081,#fed586,#fed889,#fed788,#fed586,#fed686,#fed98a,#feda8a,#fed586,#fed686)"></p><p style="background:linear-gradient(90deg,#fed484,#fecd7e,#fed182,#fed788,#fed485,#fed182,#fed686,#fed283,#feda8a,#fed787,#fed283,#fed585,#fed485,#fed98a,#fed787,#fed687,#feda8a,#fed687,#fed888,#fed384,#fed888,#feda8a,#fedd8d,#fedd8d,#fed788)"></p><p style="background:linear-gradient(90deg,#fed989,#fed989,#fed989,#fed686,#fed384,#fed586,#fed484,#fedb8c,#fedc8d,#fed586,#feda8a,#fed687,#feda8b,#fedc8d,#fedc8c,#fede8e,#fed687,#feda8a,#fedc8d,#fedc8c,#fedd8d,#fee090,#fed889,#fedc8c,#fed888)"></p><p style="background:linear-gradient(90deg,#fed889,#fed787,#fedb8b,#fedd8d,#fed485,#fed686,#fedb8c,#fed686,#fed788,#fedc8d,#feda8a,#fed787,#fedc8c,#fed788,#fedf8f,#fede8e,#fedb8b,#fee090,#fedf8f,#feda8a,#fede8e,#fedc8c,#fee191,#fee292,#fee091)"></p><p style="background:linear-gradient(90deg,#fedd8e,#fed686,#fedd8d,#feda8b,#fedf8f,#fedb8c,#fedd8d,#fedd8e,#fee191,#fee191,#feda8a,#fedf8f,#fee091,#fee191,#fee191,#fee192,#fee394,#fede8e,#fee192,#fee294,#fedf8f,#fee395,#fee294,#fede8f,#fee395)"></p><p style="background:linear-gradient(90deg,#fedd8e,#feda8a,#feda8b,#fee191,#fedf8f,#fedc8c,#fee090,#feda8b,#fee192,#fedb8b,#fee090,#fee293,#fee191,#fee394,#fedf8f,#fee294,#fede8e,#fee191,#fee294,#fee395,#fee192,#fee496,#fee090,#fee598,#fee394)"></p><p style="background:linear-gradient(90deg,#fedf8f,#fee192,#fedd8d,#fee191,#fedf8f,#fee090,#fee293,#fee292,#fee495,#fee395,#fedf8f,#fee394,#fee191,#fee597,#fee293,#fee395,#fee394,#fee496,#fee699,#fee597,#fee598,#fee699,#fee394,#fee698,#fee597)"></p><p style="background:linear-gradient(90deg,#fede8e,#fedf8f,#fede8e,#fedf8f,#fee496,#fee395,#fee598,#fee192,#fee292,#fee496,#fee395,#fee293,#fee293,#fee598,#fee292,#fee597,#fee395,#fee69a,#fee79b,#fee293,#fee495,#fee496,#fee89d,#fee99d,#fee89c)"></p><p style="background:linear-gradient(90deg,#fee497,#fee496,#fee395,#fee699,#fee497,#fee294,#fee698,#fee293,#fee495,#fee394,#fee699,#fee598,#fee496,#fee699,#fee89d,#fee395,#fee496,#fee79b,#fee99e,#fee496,#fee699,#feea9e,#fee99d,#feea9e,#fee598)"></p><p style="background:linear-gradient(90deg,#fee699,#fee192,#fee394,#fee79a,#fee395,#fee598,#fee395,#fee395,#fee79a,#fee89c,#fee395,#fee69a,#fee495,#fee598,#fee598,#fee597,#fee69a,#fee89b,#feeaa0,#fee69a,#fee89d,#fee89c,#fee699,#feeba0,#fee79a)"></p><p style="background:linear-gradient(90deg,#fee89c,#fee496,#fee495,#fee79b,#fee698,#fee395,#fee598,#fee699,#fee89d,#feea9f,#fee89c,#fee89c,#fee99e,#fee99e,#feeaa0,#fee79b,#fee79b,#feeaa0,#feeaa0,#fee99e,#feea9f,#fee79a,#feeba0,#feeba1,#fee89b)"></p><p style="background:linear-gradient(90deg,#fee99d,#fee699,#fee89c,#fee598,#fee79a,#fee699,#feea9f,#fee79a,#fee79b,#fee99d,#fee79a,#fee79a,#feeba1,#feeaa0,#feea9f,#feeba1,#feeca3,#feeba1,#feeca2,#fee99e,#feeba1,#feeda4,#feeca2,#feeba1,#feeca2)"></p><p style="background:linear-gradient(90deg,#feea9f,#feeba0,#feeba1,#fee598,#fee79b,#feeba1,#fee89b,#fee699,#fee99e,#feeca2,#feea9f,#feeaa0,#feeca2,#feea9f,#feeea5,#fee89c,#feea9f,#feeaa0,#fee99d,#feeba0,#feeda4,#feeea5,#feefa6,#feefa7,#feeba0)"></p><p style="background:linear-gradient(90deg,#fee79b,#feeaa0,#feeba1,#fee99d,#fee89b,#fee79b,#feeca2,#fee99d,#fee99d,#fee99e,#feeca2,#feeda4,#fee99e,#feeda3,#feeda3,#feeca2,#feeda4,#feeaa0,#feeea6,#fff0a8,#feeda3,#feeca3,#feeca1,#feeca3,#feeba1)"></p><p style="background:linear-gradient(90deg,#fee79b,#feeaa0,#feeaa0,#feeda3,#feeca2,#feeba0,#feeea5,#feeaa0,#feeea5,#feeca3,#fee99e,#feefa7,#feefa7,#feeda4,#feefa7,#feeca2,#fff1a9,#feeca1,#feeca2,#feeca3,#feefa6,#fff0a8,#feeea5,#feefa6,#feefa7)"></p><p style="background:linear-gradient(90deg,#feeca3,#feeca2,#feeba0,#feea9f,#feea9e,#feeea6,#feeea5,#feeda4,#feeca3,#feeea5,#feefa7,#fff0a8,#feefa6,#feeea5,#feeba1,#feeca2,#feeca3,#feeca2,#feeca2,#feeea6,#feeda4,#fff2ac,#feefa6,#feefa7,#fff1aa)"></p><p style="background:linear-gradient(90deg,#feeca2,#feea9f,#feeda3,#feeca2,#feeea6,#feeea6,#feeba1,#fff1a9,#fff0a8,#feeda4,#feefa6,#fff1aa,#feeea5,#fff0a8,#feefa6,#fff0a8,#feefa7,#feefa7,#fff1a9,#fff3ac,#fff2ac,#feeea6,#fff1a9,#fff4ae,#feefa7)"></p><p style="background:linear-gradient(90deg,#feefa7,#fff0a8,#feeea5,#feefa7,#feeea6,#feeea5,#fff0a9,#feeea6,#fff1aa,#feefa7,#feefa7,#fff2ac,#fff0a9,#fff3ac,#fff1a9,#feeea6,#fff0a9,#fff0a8,#feefa7,#fff4ae,#feeea6,#fff0a9,#fff4af,#fff0a8,#fff3ad)"></p><p style="background:linear-gradient(90deg,#fff1a9,#feeca2,#feeea6,#feeda4,#fff1aa,#feeea5,#fff2ac,#fff1aa,#fff1a9,#fff3ad,#fff0a8,#fff2ac,#fff2ab,#fff0a8,#fff2ab,#feefa7,#fff1aa,#fff0a8,#fff2ab,#fff0a8,#fff0a9,#fff5af,#fff1aa,#fff4ae,#fff1ab)"></p><p style="background:linear-gradient(90deg,#feeea6,#feeda4,#fff2ab,#fff1a9,#feefa6,#feeda4,#feefa7,#fff3ae,#fff0a9,#fff4ae,#fff1aa,#fff0a8,#fff4ae,#feefa7,#fff1aa,#fff4ae,#fff4af,#fff3ad,#fff1aa,#fff3ac,#fff6b1,#fff7b2,#fff6b2,#fff2ac,#fff6b1)"></p><p style="background:linear-gradient(90deg,#fff0a8,#fff2ab,#feefa7,#fff1aa,#fff3ad,#feefa6,#fff1aa,#fff0a9,#fff0a8,#feefa7,#fff5b0,#fff3ad,#fff5af,#fff3ac,#fff1a9,#fff1aa,#fff6b2,#fff6b1,#fff2ab,#fff3ad,#fff5b0,#fff5af,#fff7b3,#fff3ac,#fff6b1)"></p><p style="background:linear-gradient(90deg,#feefa6,#fff0a9,#fff4ae,#fff2ac,#fff3ad,#feefa7,#fff2ab,#fff5b0,#fff5af,#fff4ae,#fff3ad,#fff3ac,#fff4ae,#fff4af,#fff7b3,#fff3ae,#fff5b0,#fff7b3,#fff5b0,#fff2ab,#fff8b4,#fff7b4,#fff4af,#fff7b3,#fff7b3)"></p><p style="background:linear-gradient(90deg,#fff2ab,#fff3ad,#fff1ab,#fff2ab,#fff0a8,#feefa7,#fff6b1,#fff3ac,#fff2ab,#fff1aa,#fff2ab,#fff3ad,#fff3ad,#fff5b0,#fff6b1,#fff3ad,#fff3ac,#fff2ac,#fff4af,#fff7b2,#fff4ae,#fff4af,#fff6b1,#fff6b1,#fff7b3)"></p><p style="background:linear-gradient(90deg,#fff2ab,#fff3ad,#fff5b0,#fff4ae,#fff4ae,#fff0a8,#fff3ae,#fff4af,#fff5b0,#fff6b1,#fff5b0,#fff7b2,#fff8b4,#fff3ac,#fff5b0,#fff6b1,#fff5b0,#fff7b3,#fff8b4,#fff9b6,#fff8b4,#fff8b4,#fff5b0,#fff7b2,#fff4af)"></p><p style="background:linear-gradient(90deg,#fff4ae,#fff0a9,#fff3ac,#fff6b1,#fff5b1,#fff3ad,#fff1aa,#fff5b0,#fff3ac,#fff5b0,#fff2ac,#fff8b4,#fff5b0,#fff3ad,#fff7b3,#fff7b3,#fff9b6,#fff8b5,#fff8b4,#fff5b0,#fff9b5,#fff8b4,#fff9b6,#fff7b3,#fff5b0)"></p><p style="background:linear-gradient(90deg,#fff2ac,#fff5b0,#fff2ab,#fff1a9,#fff3ad,#fff7b2,#fff2ac,#fff2ac,#fff6b1,#fff7b3,#fff7b3,#fff5b0,#fff3ad,#fff5b0,#fff3ad,#fff8b4,#fff7b4,#fff5b0,#fff6b1,#fff8b4,#fff6b2,#fff8b5,#fffab8,#fff8b5,#fffbb8)"></p><p style="background:linear-gradient(90deg,#fff3ac,#fff4af,#fff4ae,#fff3ad,#fff6b1,#fff4af,#fff7b4,#fff2ab,#fff4af,#fff2ab,#fff8b4,#fff5b0,#fff4af,#fff7b3,#fff9b5,#fff8b5,#fff9b6,#fff5b0,#fffab7,#fff5b0,#fff8b4,#fff7b3,#fff7b3,#fff8b4,#fff7b3)"></p><p style="background:linear-gradient(90deg,#fff3ac,#fff4af,#fff2ab,#fff5b0,#fff3ac,#fff3ac,#fff3ac,#fff6b1,#fff3ad,#fff2ab,#fff6b1,#fff7b3,#fff6b1,#fff3ad,#fff8b5,#fff9b6,#fff7b2,#fff6b1,#fff5b0,#fff8b4,#fff4af,#fff9b6,#fff6b2,#fffbb8,#fffbb9)"></p></div></div><div class="hm" style="left:399.60px;top:129.80px;width:45.30px;height:58.30px"><div class="hi"><p style="background:linear-gradient(90deg,#d83128,#d83228,#d52e27,#d52e27,#d93329,#d32c27,#d83328,#da362a,#da372a,#d73127,#d62f27,#db392b,#dd3c2c,#d93429,#dc3b2c,#d83328,#db392b,#db392b,#dd3d2d,#db382b,#dd3d2d,#de402e,#dc392b,#e14430,#dd3c2d)"></p><p style="background:linear-gradient(90deg,#d83228,#d32c27,#d62f27,#d22b27,#d93529,#d73027,#d83228,#d42e27,#d52e27,#d83228,#db382b,#db382b,#db392b,#db382b,#dc3b2c,#dd3c2d,#da362a,#db392b,#dd3e2d,#da362a,#df402e,#dd3d2d,#e04330,#dc3b2c,#dc3b2c)"></p><p style="background:linear-gradient(90deg,#ee603d,#eb5a3a,#eb5a3a,#ee613d,#ee613e,#ee603d,#ec5c3b,#f16640,#ee603d,#ef623e,#f0653f,#f0643f,#ee613d,#f36a42,#ef633e,#f26a41,#f06540,#f0653f,#f46e44,#f16740,#f16640,#f46f44,#f57446,#f57446,#f26941)"></p><p style="background:linear-gradient(90deg,#f8884f,#f67c4a,#f8874f,#f7804c,#f88950,#f88950,#f7834d,#f88c51,#f88a50,#f7834d,#f8864f,#f7854e,#f7854e,#f99254,#f99053,#f88a50,#f88c51,#fa9555,#f99053,#f99455,#f99254,#fa9757,#fa9957,#f98e52,#fa9656)"></p><p style="background:linear-gradient(90deg,#f99455,#fb9e59,#fa9a58,#fb9f5a,#fb9c59,#fba05b,#fa9a58,#fba25c,#fa9b58,#fb9f5a,#fca55d,#fba35c,#fba25b,#fb9d59,#fca55d,#fca85e,#fb9f5a,#fba15b,#fca35c,#fcaa5f,#fdac60,#fdac60,#fdaf62,#fdb063,#fcaa5f)"></p><p style="background:linear-gradient(90deg,#fca95f,#fca75e,#fcaa5f,#fdaf62,#fca75e,#fca95f,#fdab60,#fdac60,#fdab5f,#fca85e,#fcaa5f,#fdad60,#fdb164,#fdb265,#fdb264,#fdac60,#fdb366,#fdb466,#fdb467,#fdb76a,#fdaf62,#fdba6c,#fdb567,#fdb265,#fdb96b)"></p><p style="background:linear-gradient(90deg,#fdb063,#fdb265,#fdb467,#fdb568,#fdb769,#fdb063,#fdb164,#fdb163,#fdba6c,#fdb466,#fdb86a,#fdb568,#fdb769,#fdba6c,#fdb467,#fdbe70,#fdb76a,#fdb769,#fdbb6d,#fdbb6d,#fdb76a,#fdbf71,#fdbc6e,#fdbb6e,#fdbf71)"></p><p style="background:linear-gradient(90deg,#fdb568,#fdb86b,#fdb86a,#fdb76a,#fdb76a,#fdbb6d,#fdb96b,#fdba6c,#fdbe70,#fdbb6d,#fdbf71,#fdb96b,#fdbe70,#fdbc6e,#fdbe70,#fdbf71,#fdc274,#fdc475,#fdbc6f,#fdc173,#fdc273,#fdc274,#fdc072,#fdc678,#fdc778)"></p><p style="background:linear-gradient(90deg,#fdb96b,#fdbd6f,#fdbc6e,#fdba6c,#fdba6c,#fdbb6d,#fdc475,#fdc173,#fdbd6f,#fdbe70,#fdc577,#fdc577,#fdc576,#fdc778,#fdc576,#fdc173,#fdc476,#fdc577,#feca7b,#fec779,#fdc273,#fdc577,#fec87a,#fec87a,#fdc577)"></p><p style="background:linear-gradient(90deg,#fdbe70,#fdc476,#fdc072,#fdc375,#fdc274,#fdc677,#fdc576,#fdc677,#fdc677,#feca7b,#fec97a,#fdc577,#fecb7c,#feca7c,#fdc577,#feca7c,#feca7c,#fecc7d,#fdc678,#fece7f,#fec97b,#fec879,#fecf80,#fecd7e,#fec97b)"></p><p style="background:linear-gradient(90deg,#fdc476,#fdc678,#feca7b,#fdc778,#fec879,#fdc577,#feca7b,#fec97a,#fec779,#fdc677,#fecb7c,#fecb7c,#feca7b,#fdc778,#fecf80,#fec779,#feca7c,#fece7f,#fecc7d,#fed081,#fed384,#fecc7e,#fed182,#fed081,#fed081)"></p><p style="background:linear-gradient(90deg,#fdc577,#fdc678,#fece7f,#fec97a,#fecb7c,#fecb7c,#fec879,#fecd7e,#fecd7e,#fec97a,#fece7f,#fece7f,#fece7f,#fecb7d,#fecd7f,#fecd7e,#fed182,#fed586,#fecf80,#fed182,#fecf80,#fed081,#fed787,#fed687,#fed888)"></p><p style="background:linear-gradient(90deg,#feca7b,#fed182,#fed182,#fecb7c,#fecd7f,#fed384,#fecd7e,#fecd7e,#fed081,#fed585,#fecf80,#fed283,#fed182,#fecd7e,#fecf80,#fecf80,#fed788,#fed686,#fed485,#feda8a,#fed081,#fed889,#fed989,#fed989,#fed98a)"></p><p style="background:linear-gradient(90deg,#fecd7e,#fed081,#fed182,#fed283,#fed687,#fed485,#fecf80,#fed081,#fed081,#fed687,#fed788,#fed98a,#fed585,#fed787,#fed687,#fed687,#fed687,#fed989,#fed585,#fedb8b,#fed485,#fed889,#fede8e,#fedc8c,#feda8a)"></p><p style="background:linear-gradient(90deg,#fed585,#fed384,#fed687,#fed787,#fed283,#fed888,#fed485,#fed384,#fed686,#fed888,#fed384,#fed989,#fed585,#fedd8d,#feda8a,#fed889,#fedf8f,#fed787,#fedf8f,#feda8b,#fedf8f,#fed888,#fedc8c,#feda8a,#fedd8d)"></p><p style="background:linear-gradient(90deg,#fed686,#fed686,#feda8a,#fedb8b,#fed586,#fedc8d,#fed586,#fedd8d,#fede8e,#fede8f,#fed888,#fed787,#fedc8d,#feda8b,#fedf8f,#fed989,#fedb8c,#fee191,#fee192,#fedc8d,#fee293,#fedc8c,#fee191,#fee292,#fedf8f)"></p><p style="background:linear-gradient(90deg,#fedc8d,#feda8a,#fede8f,#fed788,#fedd8e,#fed989,#fee090,#feda8a,#fed889,#fedf8f,#fee292,#fee090,#fedd8d,#fee192,#fedf8f,#fee294,#fee090,#fede8e,#fee192,#fedf90,#fee395,#fedf8f,#fee496,#fedf8f,#fede8e)"></p><p style="background:linear-gradient(90deg,#fed98a,#fede8e,#fee090,#fee090,#fedc8d,#fedf8f,#fedb8c,#fee294,#fee090,#fedd8d,#fee090,#fee191,#fee495,#fee495,#fee394,#fedf8f,#fee090,#fee496,#fee090,#fee598,#fee293,#fee090,#fee496,#fee191,#fee294)"></p><p style="background:linear-gradient(90deg,#fee395,#fee293,#fee192,#fee394,#fee090,#fee395,#fee090,#fee395,#fee597,#fee293,#fee598,#fee294,#fee192,#fee294,#fee495,#fee69a,#fee495,#fee69a,#fee395,#fee79a,#fee496,#fee699,#fee699,#fee496,#fee79b)"></p><p style="background:linear-gradient(90deg,#fee597,#fee090,#fee496,#fee191,#fee191,#fee395,#fee699,#fee699,#fee292,#fee69a,#fee496,#fee496,#fee79b,#fee598,#fee79b,#fee598,#fee598,#fee69a,#fee89c,#fee79a,#fee89c,#fee99d,#fee89c,#fee497,#fee79a)"></p><p style="background:linear-gradient(90deg,#fee293,#fee79b,#fee293,#fee597,#fee395,#fee597,#fee496,#fee79b,#fee496,#fee89c,#fee79b,#fee99e,#fee79b,#fee69a,#fee89c,#fee497,#feea9f,#fee79a,#fee99e,#fee79b,#fee699,#fee79a,#feeba0,#feea9f,#fee89c)"></p><p style="background:linear-gradient(90deg,#fee395,#fee99e,#fee698,#fee598,#fee597,#fee89c,#fee598,#fee79b,#fee597,#feeba0,#fee597,#fee89d,#fee99d,#feeba0,#feea9f,#fee79b,#fee89b,#feeba1,#feea9f,#feeba1,#feeba1,#feeba1,#feeba0,#fee79a,#fee79a)"></p><p style="background:linear-gradient(90deg,#fee699,#fee89c,#fee89c,#fee69a,#fee699,#fee79a,#fee89c,#feeba0,#fee89c,#fee79b,#fee79b,#feeca2,#fee89c,#feeba0,#feeca2,#fee79b,#fee99e,#fee99d,#feeda3,#fee99d,#fee89c,#fee89d,#feea9e,#fee99e,#fee99e)"></p><p style="background:linear-gradient(90deg,#fee99e,#feea9f,#fee89c,#fee89c,#fee89c,#feeba1,#fee79b,#feea9f,#fee89c,#feeda4,#fee89c,#fee99e,#feeda3,#fee99e,#feeda4,#feeda4,#feeca2,#feeda4,#feeca2,#fee99e,#feeba1,#feeba1,#feeda4,#feeba0,#feeba0)"></p><p style="background:linear-gradient(90deg,#feea9f,#fee89d,#fee99e,#feeca2,#feeea5,#feeba0,#feea9f,#feeda3,#feeba1,#feea9f,#feeaa0,#feefa7,#feeda3,#fff0a8,#feefa7,#feeba1,#feeea4,#feeca3,#feeea4,#feeea6,#feefa7,#feefa6,#feeca2,#feeda4,#feefa7)"></p><p style="background:linear-gradient(90deg,#feefa7,#feeea5,#feeba1,#feeda4,#feeca2,#feeba1,#fff0a8,#feeca2,#fff0a9,#feeca1,#fff0a8,#feefa7,#feeba1,#feefa6,#fff0a8,#feeca2,#feeea5,#feeca2,#feefa7,#feefa6,#feeca2,#feefa7,#feeca2,#fff1aa,#feeda4)"></p><p style="background:linear-gradient(90deg,#fff0a8,#feeea5,#fff1aa,#fff0a9,#feeca2,#feefa6,#feeda3,#fff0a9,#fff0a8,#fff1aa,#feefa6,#feeda3,#feefa7,#fff0a8,#feeda3,#feeda4,#feefa6,#fff2ac,#feefa7,#fff0a9,#feeda4,#fff1aa,#feefa7,#feefa7,#fff1aa)"></p><p style="background:linear-gradient(90deg,#feefa7,#feeea6,#feeda4,#fff0a8,#fff1a9,#feeda3,#fff3ac,#feeea5,#feefa7,#fff0a8,#fff1a9,#feefa6,#feeea5,#feefa7,#feefa7,#fff4ae,#fff2ab,#fff3ad,#feeea5,#feefa6,#fff3ad,#fff1a9,#fff1a9,#fff4af,#fff2ab)"></p><p style="background:linear-gradient(90deg,#feefa7,#fff0a8,#fff2ab,#feefa7,#fff2ac,#fff1a9,#fff2ab,#feeea5,#fff0a9,#feefa7,#fff0a9,#fff2ac,#feefa6,#fff0a9,#fff0a9,#fff3ad,#fff4ae,#fff1aa,#fff0a8,#fff0a9,#fff3ad,#fff4af,#fff2ac,#fff0a8,#fff4af)"></p><p style="background:linear-gradient(90deg,#fff0a9,#fff4ae,#fff3ad,#fff5af,#fff3ad,#fff3ad,#feefa7,#feefa7,#fff4af,#fff4ae,#fff0a8,#fff4af,#fff4ae,#fff3ad,#fff5b0,#fff4af,#fff3ad,#fff4ae,#fff0a8,#fff4af,#fff5b0,#fff1a9,#fff3ae,#fff1aa,#fff2ac)"></p><p style="background:linear-gradient(90deg,#fff1aa,#fff4ae,#fff5b0,#fff1aa,#fff3ad,#fff3ac,#fff2ab,#fff2ab,#fff5af,#fff4af,#fff1a9,#fff3ad,#fff5b0,#fff3ac,#fff5b0,#fff2ab,#fff7b2,#fff2ab,#fff3ad,#fff5af,#fff1aa,#fff5b0,#fff6b1,#fff7b2,#fff4ae)"></p><p style="background:linear-gradient(90deg,#fff2ac,#fff3ac,#fff4af,#fff2ab,#fff6b2,#fff5b0,#fff3ad,#fff1aa,#fff3ad,#fff3ad,#fff3ac,#fff5b0,#fff2ab,#fff3ad,#fff5b0,#fff5b0,#fff3ac,#fff5b0,#fff6b2,#fff2ac,#fff4af,#fff4af,#fff4ae,#fff2ac,#fff7b3)"></p><p style="background:linear-gradient(90deg,#fff6b1,#fff7b3,#fff5b0,#fff5af,#fff3ac,#fff4ae,#fff4af,#fff5b1,#fff4af,#fff6b2,#fff3ac,#fff3ad,#fff3ad,#fff7b3,#fff4ae,#fff3ae,#fff5b0,#fff3ac,#fff3ac,#fff4ae,#fff3ad,#fff4af,#fff3ad,#fff8b4,#fff4ae)"></p><p style="background:linear-gradient(90deg,#fff4ae,#fff5af,#fff7b3,#fff8b4,#fff5af,#fff3ad,#fff7b3,#fff7b3,#fff7b3,#fff8b4,#fff4af,#fff3ac,#fff4ae,#fff6b2,#fff4af,#fff8b5,#fff3ad,#fff7b2,#fff9b5,#fff5af,#fff8b4,#fff7b3,#fff8b5,#fff6b1,#fff5b0)"></p><p style="background:linear-gradient(90deg,#fff4ae,#fff9b5,#fff4ae,#fff8b5,#fff7b3,#fff5b0,#fff7b2,#fff7b2,#fff5b0,#fff7b4,#fff4ae,#fff8b4,#fff4ae,#fff4ae,#fff5b1,#fff9b5,#fff4ae,#fff9b5,#fff6b1,#fff6b2,#fff8b5,#fff5b0,#fff4af,#fff5b0,#fff6b2)"></p><p style="background:linear-gradient(90deg,#fff6b1,#fff5b0,#fff7b3,#fff3ad,#fff3ac,#fff4ae,#fff3ad,#fff7b3,#fff3ac,#fff8b5,#fff6b1,#fff8b4,#fff6b1,#fff5af,#fff4af,#fff6b1,#fff7b2,#fff8b4,#fff6b2,#fff7b3,#fff8b4,#fff4af,#fff6b1,#fff6b1,#fff8b4)"></p></div></div><div class="hm" style="left:463.50px;top:129.80px;width:45.30px;height:58.30px"><div class="hi"><p style="background:linear-gradient(90deg,#f57446,#f67a49,#f57145,#f0643f,#e95739,#e24631,#dc3a2c,#d02a27,#c41e27,#bb1526,#b20c26,#b30d26,#af0a26,#b30e26,#b10b26,#bb1526,#c72127,#d73027,#de3f2e,#e65036,#ea5839,#ed5f3c,#f57145,#f67c4a,#f67a49)"></p><p style="background:linear-gradient(90deg,#f67848,#f57145,#f36a42,#f0653f,#ed5e3c,#e75136,#df412f,#d22b27,#c92227,#b81226,#b00b26,#ac0626,#ad0726,#ab0626,#b81226,#c11b27,#c82127,#d52e27,#df412f,#e64f35,#ed5f3d,#ee603d,#f36c42,#f47044,#f47044)"></p><p style="background:linear-gradient(90deg,#f67e4b,#f67a49,#f57748,#f26941,#ec5d3c,#ea583a,#e44b33,#db392b,#ce2727,#c41e27,#bf1927,#b10b26,#af0a26,#b40f26,#be1827,#bf1927,#ce2827,#dc3b2c,#e24732,#e75337,#ec5d3b,#f46d43,#f57446,#f7814c,#f7814c)"></p><p style="background:linear-gradient(90deg,#f7814c,#f8874f,#f7844e,#f57547,#f47044,#ef623e,#e65035,#de3e2d,#d52e27,#c82227,#c11b27,#bf1927,#b61026,#bf1927,#c11b27,#cb2527,#d52e27,#dd3c2d,#e75237,#ec5c3b,#f26941,#f57747,#f7844e,#f7814c,#f7854e)"></p><p style="background:linear-gradient(90deg,#f99455,#f99254,#f7824d,#f7834d,#f57647,#f0643f,#e95538,#e24732,#da362a,#d62f27,#cc2527,#bc1626,#bc1626,#c61f27,#cc2627,#d42d27,#d93328,#e44c34,#e95739,#ef633e,#f57346,#f67a49,#f88b51,#f99354,#fa9555)"></p><p style="background:linear-gradient(90deg,#f99355,#fa9c59,#f88b51,#f8874f,#f7834d,#f46e43,#f16740,#e75237,#e24731,#d62f27,#cb2427,#c41d27,#ca2427,#c41e27,#ce2727,#d62f27,#e0422f,#e75136,#ef623e,#f46e43,#f7844e,#f98f53,#f99053,#fa9957,#fa9857)"></p><p style="background:linear-gradient(90deg,#fca55d,#fa9b58,#fba05a,#f98e52,#f7854e,#f67d4a,#f57245,#eb5b3b,#e64f35,#dd3c2d,#d83328,#ca2327,#cb2527,#d02927,#d83328,#db392b,#e24732,#ea5839,#f57245,#f67e4b,#f88b51,#f98f53,#fb9e5a,#fb9d59,#fa9857)"></p><p style="background:linear-gradient(90deg,#fba35c,#fdac60,#fca75e,#fba15b,#f99053,#f7854e,#f57748,#f16740,#e95639,#e04330,#d93529,#d12a27,#d02927,#d22b27,#d83228,#df402f,#e75237,#f46c43,#f57547,#f7824d,#f99355,#fa9756,#fca65d,#fba05b,#fca75e)"></p><p style="background:linear-gradient(90deg,#fdab5f,#fdb063,#fdac60,#fca65d,#fb9e5a,#fa9656,#f7834d,#f36a42,#ec5d3c,#e34832,#dd3c2c,#d83128,#d42d27,#d83228,#e0422f,#e75136,#ee603d,#f57747,#f7854e,#f88b51,#fa9656,#fca65e,#fca65d,#fcaa5f,#fca85e)"></p><p style="background:linear-gradient(90deg,#fdb063,#fdb365,#fdb567,#fca85e,#fca85e,#fa9957,#f98e52,#f67b49,#ef633e,#eb5b3b,#e24732,#dd3c2c,#db392b,#db382b,#e34932,#e75236,#f16640,#f57547,#f99254,#fb9e5a,#fca85e,#fca75e,#fdb568,#fdb568,#fdb164)"></p><p style="background:linear-gradient(90deg,#fdb366,#fdbb6e,#fdb769,#fdb164,#fdac60,#fba15b,#f99355,#f88950,#f57647,#f16640,#e54e35,#e34932,#e14430,#de402e,#e54e35,#ed5f3d,#f47045,#f7844e,#f99455,#fca75e,#fdb265,#fdb76a,#fdbb6d,#fdb96c,#fdbc6e)"></p><p style="background:linear-gradient(90deg,#fdc173,#fdbd6f,#fdb769,#fdb76a,#fdb769,#fcaa5f,#fca55d,#fa9656,#f7804c,#f36a42,#e95639,#e54e35,#e24631,#e75237,#e85437,#f36b42,#f67948,#fa9656,#fb9d59,#fdb063,#fdb164,#fdb669,#fdba6c,#fdbf71,#fdc274)"></p><p style="background:linear-gradient(90deg,#fdc577,#fdbe70,#fdc476,#fdbd6f,#fdba6c,#fdb366,#fdaf62,#fba05a,#f88d52,#f46d43,#ef633e,#e85337,#e65036,#ea593a,#f16740,#f67949,#f7834d,#fba05a,#fca55d,#fdb669,#fdb96b,#fdc274,#fdbe70,#fdc476,#fdc375)"></p><p style="background:linear-gradient(90deg,#fdc678,#feca7c,#fec87a,#fdc173,#fdc375,#fdbd6f,#fdb163,#fca95f,#fa9656,#f7814c,#f36c42,#ed5f3d,#ea5739,#ed5e3c,#f16640,#f7834d,#f99053,#fba15b,#fdb668,#fdc072,#fdc273,#fec879,#fdc678,#fdc476,#feca7c)"></p><p style="background:linear-gradient(90deg,#fecf80,#fecb7c,#fece7f,#fecc7d,#fec779,#fdc677,#fdbf71,#fdb164,#fb9d59,#f7824d,#f57346,#f36b42,#f0643f,#ef623e,#f57346,#f7834d,#fa9756,#fdab60,#fdbe70,#fdbe70,#fdc678,#fecc7d,#fece7f,#fec779,#fece7f)"></p><p style="background:linear-gradient(90deg,#fed384,#fed182,#feca7c,#fece7f,#feca7b,#fecd7e,#fdc274,#fdb96b,#fdab60,#f99053,#f67f4b,#f57245,#ef623e,#f46e43,#f7814c,#fa9857,#fca65d,#fdb76a,#fdc678,#fec97a,#feca7b,#fecd7f,#fed182,#fecf80,#fece7f)"></p><p style="background:linear-gradient(90deg,#fed282,#fed787,#fed081,#fece7f,#fecf80,#fecb7c,#feca7b,#fdbb6d,#fdb567,#fba05b,#f7854e,#f57145,#f57547,#f67a49,#f88d52,#fb9d59,#fdb568,#fdc274,#fdc678,#fecd7e,#fecd7e,#fed384,#fed182,#fed888,#fecf80)"></p><p style="background:linear-gradient(90deg,#feda8a,#fed788,#fed787,#fed283,#fed686,#fecf80,#fece7f,#fec97b,#fdb669,#fdab60,#f88a50,#f77f4b,#f67c4a,#f67948,#f99354,#fca85e,#fdbb6d,#fdc577,#fed484,#fed585,#fed98a,#fed384,#fedc8c,#fed687,#fed98a)"></p><p style="background:linear-gradient(90deg,#fedb8c,#feda8b,#fed989,#fede8e,#fedd8d,#fedc8d,#fed081,#fed182,#fdc577,#fdb164,#fa9957,#f7824d,#f7864f,#f88b51,#fb9f5a,#fdb063,#fdc274,#fecf80,#fed182,#fed788,#fed687,#fed687,#fedd8d,#fed687,#fedc8c)"></p><p style="background:linear-gradient(90deg,#fee293,#feda8b,#fee292,#fee293,#fee090,#fedf8f,#fed687,#fed182,#fecb7c,#fdb96c,#fba05b,#f88c52,#f8864f,#f99053,#fcaa5f,#fdbc6e,#fec87a,#fed485,#fed888,#fed98a,#feda8a,#fee191,#fee293,#fedb8b,#fede8e)"></p><p style="background:linear-gradient(90deg,#fee395,#fee090,#fee394,#fee395,#fee293,#fee191,#fede8e,#fedf8f,#fecf80,#fdc173,#fdaf62,#fa9756,#f88d52,#fba05a,#fdaf62,#fdc072,#fed080,#feda8a,#fee293,#fedd8d,#fedf8f,#fee395,#fee293,#fede8e,#fee395)"></p><p style="background:linear-gradient(90deg,#fee496,#fee191,#fee192,#fee598,#fee293,#fee496,#fee293,#fede8e,#fedd8d,#fecd7f,#fdba6c,#fca65d,#fb9f5a,#fca75e,#fdb86b,#fecb7d,#fedd8d,#fee090,#fee090,#fee394,#fee497,#fee293,#fee496,#fee698,#fee496)"></p><p style="background:linear-gradient(90deg,#fee99d,#fee597,#fee89c,#fee69a,#fee394,#fee496,#fee395,#fee395,#fedf8f,#fed182,#fdbb6d,#fdb063,#fb9e5a,#fdaf62,#fdc274,#fed081,#fedf8f,#fee293,#fee394,#fee598,#fee89b,#fee99d,#fee598,#fee496,#fee79b)"></p><p style="background:linear-gradient(90deg,#feeaa0,#feeba0,#feea9f,#fee79a,#feeba0,#fee99e,#fee99e,#fee598,#fee192,#fee090,#fecc7e,#fdb063,#fca45c,#fdb86a,#feca7b,#fedb8b,#fee598,#fee79b,#fee89c,#fee99e,#feeaa0,#feeaa0,#feea9f,#feeaa0,#fee79b)"></p><p style="background:linear-gradient(90deg,#fee89d,#feeba1,#fee89c,#fee89d,#feeba0,#feea9f,#feeca2,#fee79a,#fee79b,#fee597,#fed586,#fdba6c,#fdb366,#fdba6c,#fed485,#fee090,#fee699,#feeca2,#fee99e,#feeca2,#fee89d,#fee89c,#fee89c,#feeba1,#feeca3)"></p><p style="background:linear-gradient(90deg,#feeba0,#feeba1,#feeea5,#feeda4,#feeba1,#feeea5,#feeba0,#feeda4,#feeca2,#fee79b,#feda8b,#fdc274,#fdbe70,#fdc274,#fedd8e,#fee89c,#feea9f,#feeaa0,#feeba0,#fee99e,#feeda4,#feeda3,#feeba0,#feeda4,#feeea5)"></p><p style="background:linear-gradient(90deg,#feefa7,#feeca2,#feeba1,#feeca2,#feeba0,#feeca2,#feefa6,#feefa6,#feeca2,#feeda4,#fee293,#fed182,#fdc576,#fecd7e,#fee497,#fee89c,#feeba0,#feeea5,#feefa7,#fff0a8,#feeda4,#feeda4,#feeea6,#feeca2,#feeda4)"></p><p style="background:linear-gradient(90deg,#feeda4,#fff2ab,#fff2ab,#fff0a8,#feefa7,#fff1a9,#feeea5,#fff1aa,#fff0a8,#feeea5,#fee69a,#fed484,#fec97b,#fed787,#fee598,#feeba1,#feeea6,#fff2ab,#feefa7,#feeea6,#fff0a9,#fff2ab,#feeca2,#feeda3,#fff1aa)"></p><p style="background:linear-gradient(90deg,#fff1aa,#fff0a8,#fff2ab,#fff3ad,#feefa7,#feefa7,#fff1aa,#fff3ad,#fff1aa,#fff3ad,#feea9f,#fee395,#fed384,#fede8e,#feefa7,#fff3ac,#fff3ad,#fff3ad,#fff1a9,#feefa6,#fff3ac,#fff3ac,#feefa7,#fff1aa,#fff2ab)"></p><p style="background:linear-gradient(90deg,#fff5af,#fff4ae,#feefa7,#fff5af,#fff4ae,#fff1a9,#fff0a8,#fff0a8,#fff2ac,#feefa7,#fff0a8,#fee89d,#fedb8b,#fee699,#feefa7,#fff4af,#fff4af,#feefa7,#fff5af,#fff0a9,#fff3ad,#fff4ae,#fff4ae,#fff2ac,#feefa7)"></p><p style="background:linear-gradient(90deg,#fff6b1,#fff1aa,#fff5af,#fff6b1,#fff2ab,#fff5af,#fff6b1,#fff4af,#fff2ab,#fff1aa,#fff3ad,#fff1aa,#fee496,#feeea5,#fff1aa,#fff1aa,#fff5af,#fff1aa,#fff2ab,#fff5b0,#fff4af,#fff4af,#fff5af,#fff4af,#fff6b1)"></p><p style="background:linear-gradient(90deg,#fff7b2,#fff2ac,#fff5b1,#fff4ae,#fff2ac,#fff3ad,#fff6b2,#fff2ac,#fff3ad,#fff2ab,#fff3ae,#fff3ad,#fff3ad,#fff6b2,#fff4ae,#fff6b1,#fff3ac,#fff7b3,#fff5af,#fff6b1,#fff3ad,#fff6b1,#fff3ac,#fff3ac,#fff3ac)"></p><p style="background:linear-gradient(90deg,#fff8b5,#fff3ad,#fff4af,#fff5b0,#fff5b0,#fff9b6,#fff4ae,#fff6b1,#fff6b2,#fff7b3,#fff4af,#fff4af,#fff4ae,#fff8b4,#fff7b3,#fff8b4,#fff8b5,#fff7b3,#fff9b6,#fff4af,#fff8b4,#fff9b5,#fff9b5,#fff4af,#fff8b4)"></p><p style="background:linear-gradient(90deg,#fff7b3,#fff7b4,#fff5b0,#fff4ae,#fff8b4,#fff6b1,#fff4af,#fff7b3,#fff4af,#fff5b0,#fff8b4,#fff5af,#fff6b2,#fff9b6,#fff6b2,#fff5b0,#fff7b2,#fff7b3,#fff7b3,#fff4af,#fff6b1,#fff9b5,#fff8b4,#fff8b4,#fff4ae)"></p><p style="background:linear-gradient(90deg,#fff6b1,#fffab7,#fff5af,#fffab8,#fff7b2,#fff8b4,#fff6b1,#fff8b4,#fffab7,#fff7b3,#fff5b0,#fff5b1,#fff8b5,#fff9b6,#fff6b1,#fff5b0,#fff9b6,#fff5b0,#fff4af,#fff8b4,#fff8b4,#fff6b1,#fff5af,#fff9b6,#fff8b5)"></p><p style="background:linear-gradient(90deg,#fff8b5,#fff6b1,#fff9b6,#fff7b3,#fff7b3,#fff6b2,#fff9b7,#fff4af,#fff4af,#fff7b3,#fff5b0,#fff9b6,#fff5af,#fff7b3,#fff6b1,#fff5b0,#fff8b5,#fff5af,#fff9b6,#fffab8,#fff7b3,#fff5b0,#fff5af,#fff4af,#fff7b3)"></p></div></div><div class="hm" style="left:511.40px;top:129.80px;width:45.30px;height:58.30px"><div class="hi"><p style="background:linear-gradient(90deg,#e0422f,#e24731,#e14531,#da372a,#d42d27,#d02927,#c62027,#c11b27,#b91426,#b10b26,#aa0526,#a60126,#a70226,#a70226,#a50026,#a50026,#a90426,#b40f26,#bb1526,#c11b27,#cc2627,#d02927,#d52e27,#de3e2e,#dc3a2c)"></p><p style="background:linear-gradient(90deg,#e14531,#e14430,#de3e2d,#da362a,#d83328,#cc2527,#c31d27,#c31d27,#b30d26,#b10b26,#ae0926,#aa0526,#a50026,#a50026,#a70226,#a70226,#aa0526,#ad0726,#bb1526,#be1827,#cb2527,#d42d27,#da362a,#dd3c2c,#dc3a2b)"></p><p style="background:linear-gradient(90deg,#ed5e3c,#ed5f3d,#ea5839,#e75236,#e24832,#dd3d2d,#d73027,#d22c27,#c72127,#c11b27,#b51026,#b61026,#ae0926,#b20d26,#b61126,#b61026,#bf1927,#c51f27,#cd2727,#cf2827,#d52e27,#de3e2d,#e24832,#e64f35,#e75136)"></p><p style="background:linear-gradient(90deg,#f36b42,#f46e44,#f36b42,#eb5b3b,#e95638,#e85337,#de3f2e,#da362a,#d73127,#ce2727,#c51e27,#c51f27,#c21c27,#c21c27,#c11b27,#c31d27,#c82127,#cc2627,#da362a,#dd3d2d,#df412f,#e44c34,#ea5839,#ed5f3c,#ef633f)"></p><p style="background:linear-gradient(90deg,#f57647,#f67b4a,#f57747,#f57245,#f36a42,#ea5739,#e54e35,#e54e35,#df402e,#d93529,#d42d27,#d12a27,#c82227,#cd2627,#cc2627,#cc2527,#d42d27,#da372a,#e0422f,#e44c34,#e85337,#eb5b3b,#f36a42,#f57145,#f57145)"></p><p style="background:linear-gradient(90deg,#f88a50,#f7834d,#f7814c,#f67e4b,#f57446,#f0653f,#ef633e,#e75237,#e65036,#e14430,#dd3e2d,#d62f27,#d83328,#d73027,#d93429,#da362a,#da372a,#df402e,#e24732,#e75136,#ee603d,#f16640,#f67a49,#f57748,#f67e4b)"></p><p style="background:linear-gradient(90deg,#fa9756,#f98f53,#f88850,#f8884f,#f7834d,#f46f44,#f16740,#ed5e3c,#e64f35,#e75136,#e24832,#df412f,#de3e2d,#d93429,#da372a,#e0422f,#e34932,#e75136,#e95638,#ee603d,#f16740,#f67848,#f67a49,#f88950,#f88a50)"></p><p style="background:linear-gradient(90deg,#fb9f5a,#fb9f5a,#f99153,#f88a50,#f7864e,#f7844d,#f67949,#f46e44,#ee613d,#e75237,#e75236,#e14531,#de3f2e,#e14631,#e04330,#e04330,#e54d34,#ea5839,#ec5d3c,#f36b42,#f67949,#f7834d,#f7854e,#f88d52,#f88d52)"></p><p style="background:linear-gradient(90deg,#fca45c,#fca95f,#fca45c,#fa9c58,#f99053,#f99053,#f67b4a,#f47045,#f26941,#f0643f,#e75236,#e64f35,#e24832,#e24832,#e24832,#e75136,#e75236,#ec5b3b,#f16640,#f57547,#f7844e,#f88d52,#fa9757,#fa9656,#fa9857)"></p><p style="background:linear-gradient(90deg,#fca95f,#fca85e,#fba25c,#fba15b,#fb9f5a,#f99053,#f88d52,#f67d4a,#f57748,#ef633f,#ed5e3c,#eb593a,#e54d34,#e95638,#e54e35,#e95538,#f0643f,#f16740,#f57446,#f67c4a,#f88b51,#fa9756,#fa9857,#fcaa5f,#fba15b)"></p><p style="background:linear-gradient(90deg,#fdb769,#fdb567,#fdb466,#fca75e,#fca65d,#fa9a58,#fa9756,#f7854e,#f67b49,#f57647,#f16740,#ec5c3b,#ed5e3c,#e95739,#ed5e3c,#ef623e,#f0643f,#f46e43,#f67948,#f88c51,#fa9555,#fa9b58,#fca45c,#fdae61,#fca85e)"></p><p style="background:linear-gradient(90deg,#fdb96b,#fdb466,#fdb669,#fdb669,#fdab60,#fdab60,#fa9b58,#fa9857,#f7804c,#f67a49,#f46d43,#f36c42,#ee613d,#ef623e,#f16640,#f0653f,#f67848,#f67e4b,#f98f53,#f99053,#fa9a58,#fdae61,#fdb063,#fdb466,#fdb164)"></p><p style="background:linear-gradient(90deg,#fdbb6d,#fdbf71,#fdb76a,#fdbc6e,#fdb86b,#fdac60,#fdac60,#fba05b,#f99053,#f7864f,#f67d4a,#f36a42,#f36a42,#f0653f,#f46e44,#f46c43,#f67f4b,#f7824d,#f99254,#fa9957,#fca65d,#fdaf62,#fdb568,#fdb668,#fdba6c)"></p><p style="background:linear-gradient(90deg,#fdc678,#fdbe70,#fdbe70,#fdbd6f,#fdb96b,#fdb96b,#fdb063,#fba25b,#f99455,#f88850,#f8874f,#f57647,#f57245,#f57245,#f67848,#f77f4b,#f7854e,#f99154,#fba05b,#fcaa5f,#fdb164,#fdb567,#fdbb6d,#fdc274,#fdbb6e)"></p><p style="background:linear-gradient(90deg,#fec87a,#fdc274,#fdc173,#fec879,#fdc072,#fdb86b,#fdb86a,#fdaf62,#fca65e,#fb9e59,#f98f53,#f8864f,#f67e4b,#f57748,#f67b4a,#f67e4b,#f88c51,#fb9c59,#fba15b,#fdb063,#fdb86a,#fdba6d,#fdc072,#fdc677,#fdc475)"></p><p style="background:linear-gradient(90deg,#fecd7e,#fdc778,#fecd7e,#fdc476,#fecb7c,#fec879,#fdbd6f,#fdba6c,#fdae61,#fca65d,#f99053,#f88850,#f7814c,#f67c4a,#f67e4b,#f88a50,#fa9555,#fdab5f,#fdb567,#fdb96c,#fdba6d,#fdc678,#fdc778,#fece80,#feca7c)"></p><p style="background:linear-gradient(90deg,#fecc7d,#fecf80,#fecc7d,#fed384,#fecf80,#fecc7e,#fdc173,#fdc274,#fdb164,#fdae61,#fa9957,#f99355,#f98e52,#f7844e,#f98f52,#f99355,#fca75e,#fcaa5f,#fdb365,#fdc375,#fdc375,#fecc7d,#fed081,#fed081,#fecd7e)"></p><p style="background:linear-gradient(90deg,#fecf80,#fecf80,#fece7f,#fed182,#fed081,#fed283,#fec97a,#fdc476,#fdbe70,#fdaf62,#fdab60,#fba15b,#fa9957,#fa9756,#fa9555,#fa9b58,#fdaf62,#fdb668,#fdbe70,#fdc677,#fecd7e,#fecf80,#fed787,#fed788,#fed484)"></p><p style="background:linear-gradient(90deg,#feda8b,#fed586,#feda8a,#fed484,#fed989,#fed889,#fed182,#fecd7e,#fdc678,#fdb86b,#fdb466,#fca35c,#fa9957,#fa9c58,#fb9f5a,#fba35c,#fdb265,#fdc172,#fecb7c,#fed182,#fed484,#fed989,#fed585,#fed888,#fed989)"></p><p style="background:linear-gradient(90deg,#fedb8c,#fed788,#fede8e,#fede8f,#fedc8d,#fedb8b,#fed383,#fed081,#fecc7d,#fdc678,#fdbd6f,#fdb365,#fba25b,#fba25b,#fdac60,#fdb063,#fdbf71,#fdc576,#fecf80,#fed788,#fed586,#fed788,#fedb8b,#fede8f,#fed98a)"></p><p style="background:linear-gradient(90deg,#fee090,#fedd8e,#fee293,#fedb8b,#fee293,#fee090,#fedd8d,#fedb8c,#fed787,#fec87a,#fdbb6d,#fdb86a,#fdb164,#fcaa5f,#fdb366,#fdb96c,#fdc173,#fecd7e,#fed888,#fede8e,#fedc8c,#fed98a,#feda8b,#fee293,#fedf8f)"></p><p style="background:linear-gradient(90deg,#fee293,#fee495,#fee191,#fee292,#fedf8f,#fee394,#fedc8d,#fedb8b,#feda8a,#fed586,#fec87a,#fdc173,#fdb467,#fdb264,#fdb769,#fdbb6d,#fecf80,#fed283,#fed888,#fee293,#fee293,#fee496,#fee192,#fee090,#fee394)"></p><p style="background:linear-gradient(90deg,#fee394,#fee597,#fee294,#fee598,#fee191,#fee496,#fee69a,#fee597,#fedd8e,#fed586,#fece7f,#fec97a,#fdb96c,#fdb86b,#fdc374,#fec97a,#fed081,#fee090,#fee395,#fee395,#fee192,#fee191,#fee597,#fee192,#fee293)"></p><p style="background:linear-gradient(90deg,#fee496,#fee598,#fee395,#fee598,#fee395,#fee598,#fee89b,#fee597,#fee395,#fee192,#fed989,#fecd7e,#fdc475,#fdc576,#fec87a,#fed081,#feda8a,#fee292,#fee394,#fee79b,#fee698,#fee79b,#fee496,#fee597,#fee496)"></p><p style="background:linear-gradient(90deg,#fee89c,#feea9e,#fee598,#fee89c,#fee99d,#fee99e,#fee89d,#fee69a,#fee597,#fee496,#fedd8d,#fed889,#fecd7e,#fecb7c,#fed081,#fed98a,#fedf8f,#fee395,#fee99d,#fee99e,#fee699,#fee79b,#fee79a,#fee79b,#fee79a)"></p><p style="background:linear-gradient(90deg,#feeba1,#feeda3,#feeba0,#feeda3,#fee79b,#feea9f,#fee99d,#fee79b,#fee79b,#fee99e,#fee598,#fee191,#fed283,#fecf80,#fed787,#fee191,#fee79a,#fee89d,#fee89c,#fee79b,#fee89c,#fee89c,#feeaa0,#feeaa0,#feeba1)"></p><p style="background:linear-gradient(90deg,#fee99e,#feeea5,#feeea5,#feeda4,#fee99e,#feea9f,#feeda4,#feea9f,#fee99e,#feeba1,#feeaa0,#fee293,#fedf8f,#fede8e,#fedb8c,#fee598,#feea9f,#feeba0,#feeda4,#feefa6,#feeda3,#feeda3,#feefa7,#feeda3,#feeaa0)"></p><p style="background:linear-gradient(90deg,#feefa6,#feeda3,#feeda4,#fff0a8,#fff1a9,#feeda3,#feeda4,#feefa7,#fff0a8,#feeba1,#feea9f,#feeba0,#fee496,#fee394,#fee79a,#feeda4,#feeea5,#feeda3,#feeda4,#feeea5,#fff0a8,#fff0a8,#feefa7,#feeea6,#feefa6)"></p><p style="background:linear-gradient(90deg,#feeda4,#fff2ab,#feeca3,#fff1aa,#feeda4,#fff1aa,#feefa7,#fff0a9,#fff2ac,#feeea5,#feeea5,#fff1aa,#feeea5,#fff0a8,#feeca3,#fff2ac,#fff0a9,#fff1aa,#feefa6,#feeea5,#feeda4,#feefa7,#fff0a9,#feeea5,#fff2ab)"></p><p style="background:linear-gradient(90deg,#fff3ac,#fff0a8,#fff2ab,#feeea5,#fff4ae,#fff1aa,#fff3ad,#fff4af,#fff4ae,#fff4ae,#fff2ab,#fff2ab,#fff1aa,#fff2ac,#fff0a8,#fff1aa,#feeea6,#fff3ad,#fff1aa,#fff1aa,#fff2ab,#feefa7,#fff3ad,#feefa7,#fff2ab)"></p><p style="background:linear-gradient(90deg,#fff4ae,#fff2ab,#fff2ac,#fff4ae,#fff5b0,#fff0a8,#fff4ae,#fff5b0,#fff2ab,#fff3ac,#fff4ae,#fff4ae,#fff1a9,#fff4ae,#fff3ad,#fff0a8,#fff4ae,#fff3ad,#fff5b0,#fff2ab,#fff2ab,#fff3ad,#fff3ad,#fff4af,#fff1aa)"></p><p style="background:linear-gradient(90deg,#fff4af,#fff2ac,#fff5b0,#fff3ac,#fff7b3,#fff6b1,#fff1aa,#fff3ad,#fff3ad,#fff4af,#fff4af,#fff6b2,#fff6b2,#fff3ad,#fff3ad,#fff6b1,#fff3ad,#fff6b2,#fff4ae,#fff6b2,#fff4af,#fff5b0,#fff4ae,#fff6b2,#fff4af)"></p><p style="background:linear-gradient(90deg,#fff5b0,#fff8b4,#fff7b2,#fff4af,#fff5b0,#fff5b0,#fff4ae,#fff5b0,#fff7b3,#fff6b1,#fff3ae,#fff5b0,#fff4ae,#fff6b2,#fff6b1,#fff3ac,#fff4ae,#fff5af,#fff8b4,#fff5b0,#fff8b5,#fff3ad,#fff3ac,#fff4af,#fff7b3)"></p><p style="background:linear-gradient(90deg,#fff4af,#fff9b5,#fff5af,#fff7b2,#fffab7,#fff4af,#fff7b3,#fff5af,#fff5b1,#fff6b2,#fff4af,#fff8b5,#fff4af,#fff8b4,#fffab7,#fff8b4,#fff9b6,#fff9b6,#fff6b1,#fff9b6,#fff9b6,#fff8b4,#fff8b4,#fff4ae,#fff4af)"></p><p style="background:linear-gradient(90deg,#fff5b0,#fff4af,#fff8b4,#fff5b0,#fff9b5,#fff5af,#fff5b0,#fff6b1,#fff9b6,#fffab7,#fff5af,#fff7b3,#fff7b2,#fff5b0,#fff9b7,#fff6b1,#fff7b4,#fff5b1,#fff8b4,#fff9b6,#fff4af,#fff9b5,#fff6b1,#fff5b0,#fff9b6)"></p><p style="background:linear-gradient(90deg,#fff6b1,#fff8b4,#fff9b6,#fff9b6,#fff4af,#fff8b4,#fff7b3,#fff7b3,#fffab8,#fff6b1,#fff6b1,#fff5b0,#fff8b5,#fff9b6,#fff8b5,#fff6b1,#fff6b2,#fff8b4,#fff7b3,#fff9b7,#fff5af,#fff7b4,#fff7b3,#fff5b1,#fff9b6)"></p></div></div><div class="hm" style="left:575.50px;top:129.80px;width:45.30px;height:58.30px"><div class="hi"><p style="background:linear-gradient(90deg,#ee613e,#f16640,#ee603d,#f26941,#f16740,#ef623e,#f0643f,#f0653f,#ee603d,#ec5d3c,#e44c34,#df412f,#d73027,#dd3e2d,#e24732,#ea593a,#ee5f3d,#ef623e,#f26841,#ee603d,#f16640,#ee5f3d,#ee603d,#ef623e,#ee603d)"></p><p style="background:linear-gradient(90deg,#f0653f,#ef623e,#ed5e3c,#f16841,#f26941,#f0653f,#f0643f,#f16740,#f0643f,#e85538,#e54c34,#de3f2e,#da372a,#dc3a2b,#e64f35,#eb5a3a,#ee603d,#f0643f,#f0643f,#ee603d,#f26a42,#ed5f3c,#f16840,#f26941,#ee613d)"></p><p style="background:linear-gradient(90deg,#f57647,#f57647,#f67a49,#f57346,#f67949,#f57446,#f67a49,#f57547,#f57245,#f46e43,#ed5f3c,#e85437,#e14531,#e44c34,#ef633e,#f36c42,#f47045,#f67b4a,#f57245,#f57245,#f67c4a,#f67a49,#f67c4a,#f67a49,#f67c4a)"></p><p style="background:linear-gradient(90deg,#f88850,#f88b51,#f88b51,#f88850,#f88a50,#f7844e,#f7854e,#f88c52,#f88950,#f7854e,#f57346,#f0653f,#e95639,#ec5d3c,#f36a42,#f7824d,#f88b51,#f7844e,#f88950,#f7824d,#f88950,#f88a51,#f98e52,#f7824d,#f8884f)"></p><p style="background:linear-gradient(90deg,#fa9656,#fa9656,#f99254,#f99154,#fa9556,#fa9957,#fa9656,#f99053,#f99455,#f88b51,#f67f4b,#f46f44,#f16640,#f57245,#f67f4b,#f8884f,#fa9857,#fa9656,#f99053,#f98f53,#fa9b58,#f99355,#f99355,#f99153,#fa9656)"></p><p style="background:linear-gradient(90deg,#fca55d,#fba25c,#fb9d59,#fb9d59,#fca45c,#fb9e5a,#fb9e59,#fb9d59,#fca45c,#fa9957,#f98e52,#f67a49,#f57547,#f7804c,#f88950,#fa9b58,#fa9a58,#fba25b,#fb9f5a,#fa9c59,#fca55d,#fb9d59,#fca55d,#fa9a58,#fca65d)"></p><p style="background:linear-gradient(90deg,#fca65d,#fcaa5f,#fdad60,#fcaa5f,#fca95f,#fcaa5f,#fdae61,#fca85e,#fcaa5f,#fa9c59,#fa9757,#f8874f,#f7814c,#f7804c,#fa9857,#fba05b,#fba35c,#fcaa5f,#fca55d,#fdac60,#fdae61,#fdae61,#fca95f,#fca45c,#fdad60)"></p><p style="background:linear-gradient(90deg,#fdb163,#fdad61,#fdb265,#fdb366,#fdb063,#fdb164,#fdab60,#fdab60,#fdb264,#fcaa5f,#fba05b,#fa9656,#f88850,#f88a50,#fba25b,#fcaa5f,#fdad60,#fdb467,#fdab60,#fdb467,#fdb265,#fdae61,#fdb567,#fdb164,#fdb466)"></p><p style="background:linear-gradient(90deg,#fdb668,#fdba6d,#fdb96b,#fdb86b,#fdba6c,#fdba6c,#fdb96b,#fdb568,#fdb86b,#fdae61,#fca95f,#fa9c59,#f99455,#f99455,#fdae61,#fdaf62,#fdb96b,#fdb164,#fdb669,#fdb567,#fdb265,#fdba6c,#fdba6c,#fdb466,#fdb567)"></p><p style="background:linear-gradient(90deg,#fdb96b,#fdbd6f,#fdbb6d,#fdbe70,#fdbb6e,#fdbd6f,#fdba6c,#fdbd6f,#fdbc6e,#fdb668,#fdb466,#fb9d59,#fa9957,#fca55d,#fdb366,#fdb76a,#fdba6c,#fdb86b,#fdbc6e,#fdbc6e,#fdb769,#fdbd6f,#fdb668,#fdb769,#fdb668)"></p><p style="background:linear-gradient(90deg,#fdbb6d,#fdc274,#fdbd6f,#fdbf71,#fdc374,#fdbb6d,#fdbe70,#fdbd6f,#fdbf71,#fdc173,#fdb265,#fdae61,#fca55d,#fca85e,#fdb96b,#fdbd6f,#fdbd6f,#fdc475,#fdbe70,#fdc475,#fdc072,#fdbe70,#fdbe70,#fdc476,#fdc375)"></p><p style="background:linear-gradient(90deg,#fdc072,#fdc677,#fdc577,#fdc677,#fdc274,#fdc274,#fdc375,#fdc577,#fdc375,#fdc274,#fdbe70,#fdab60,#fca45c,#fdae61,#fdb669,#fdc274,#fdc173,#fdc778,#fdc274,#fdc274,#fdc072,#fdc173,#fdc173,#fdc778,#fdc273)"></p><p style="background:linear-gradient(90deg,#fec97b,#fecb7c,#feca7c,#fdc678,#fdc677,#fdc677,#fec779,#fecc7d,#fecc7d,#fdc678,#fdc475,#fdb86a,#fdb567,#fdba6c,#fdbf71,#feca7b,#fdc577,#fecb7c,#fdc677,#fecb7c,#fecb7d,#feca7b,#fece7f,#feca7b,#feca7c)"></p><p style="background:linear-gradient(90deg,#fed283,#feca7b,#fecf80,#fed283,#fec97a,#fed081,#fed081,#fed283,#fed182,#feca7b,#fdc577,#fdbc6e,#fdb96b,#fdbe70,#fdc173,#fecd7e,#fec87a,#feca7b,#fed182,#feca7b,#fed283,#fecb7d,#feca7c,#fecb7d,#fecd7e)"></p><p style="background:linear-gradient(90deg,#fecf80,#fed586,#fed182,#fed485,#fed383,#fed585,#fed081,#fed182,#fecf80,#fecf80,#feca7c,#fdbe70,#fdb96b,#fdc173,#fecd7e,#fecc7d,#fed384,#fed686,#fed384,#fed081,#fecd7e,#fed081,#fed081,#fecd7e,#fecf80)"></p><p style="background:linear-gradient(90deg,#fed687,#fed687,#fed384,#fed888,#feda8a,#fed585,#fed384,#fed889,#fed485,#fed182,#fed485,#fecb7c,#fdc274,#fec97a,#fecc7d,#fed081,#fed687,#fed384,#fed585,#fed98a,#fed182,#fed989,#feda8a,#fed687,#fedb8b)"></p><p style="background:linear-gradient(90deg,#feda8a,#fedb8b,#fed586,#fedb8b,#fed687,#fed788,#fed989,#fedc8d,#fedc8c,#fed989,#fed687,#fecb7c,#fec779,#fece7f,#fed485,#fed485,#fedd8d,#fedb8c,#fedf8f,#fede8e,#fede8e,#fedb8b,#fed687,#fed888,#fed586)"></p><p style="background:linear-gradient(90deg,#feda8b,#fedd8d,#fedd8d,#fee292,#fedf8f,#fee090,#fedc8d,#fee192,#fedd8d,#fede8e,#feda8a,#fed383,#fed081,#fecf80,#fed787,#fedc8c,#fee191,#fedd8d,#feda8a,#fed989,#fedb8b,#fee192,#feda8a,#fedc8c,#fee090)"></p><p style="background:linear-gradient(90deg,#fedd8d,#fede8e,#fedd8e,#fee294,#fee091,#fee292,#fee293,#fedf8f,#fee090,#fee292,#fede8e,#fed283,#fed182,#fed283,#fedd8d,#fedc8c,#fee496,#fee192,#fee191,#fedf8f,#fedd8d,#fee090,#fee192,#fee090,#fee191)"></p><p style="background:linear-gradient(90deg,#fee293,#fee090,#fee699,#fee496,#fee191,#fee699,#fee192,#fee699,#fee293,#fee192,#fee394,#fedd8d,#fed98a,#fed98a,#fee192,#fee293,#fee496,#fee394,#fee090,#fee192,#fee090,#fee597,#fee395,#fee496,#fee496)"></p><p style="background:linear-gradient(90deg,#fee395,#fee79b,#fee597,#fee495,#fee394,#fee89c,#fee79a,#fee598,#fee394,#fee79b,#fee293,#fee191,#fedb8b,#fedc8c,#fee69a,#fee699,#fee79b,#fee79b,#fee69a,#fee496,#fee597,#fee89b,#fee395,#fee598,#fee79b)"></p><p style="background:linear-gradient(90deg,#fee598,#fee598,#fee99e,#fee597,#fee598,#fee99e,#feeaa0,#fee598,#fee598,#feea9f,#fee497,#fee192,#fedf8f,#fee191,#fee395,#fee89c,#fee598,#fee597,#fee89d,#fee699,#fee699,#fee598,#fee79a,#fee99d,#fee99d)"></p><p style="background:linear-gradient(90deg,#fee99e,#feeba1,#fee79b,#fee79a,#feeba0,#fee89c,#fee89c,#feeca2,#fee79b,#fee79b,#feea9e,#fee89c,#fee497,#fee496,#fee99d,#fee79b,#feeba1,#feeca2,#feea9f,#fee79a,#feeba1,#feeca2,#fee89c,#feeca2,#fee89c)"></p><p style="background:linear-gradient(90deg,#feeea5,#feeda3,#feea9f,#fee99d,#feeca2,#feeba1,#feeea5,#feeca2,#feeda3,#fee99e,#fee99e,#fee699,#fee698,#fee79a,#feeda3,#feeca2,#feeca3,#feeca3,#feea9f,#feeda3,#feeca2,#feeca3,#fee99d,#feea9f,#feeba1)"></p><p style="background:linear-gradient(90deg,#feeea5,#feea9f,#feea9f,#feeda4,#feeca3,#feeba0,#feeea6,#feeea6,#feefa7,#feeda3,#feeba0,#feeca3,#fee99d,#fee79b,#feeca3,#feeea4,#feeba0,#feeaa0,#feeea5,#feefa7,#feeca2,#feeba1,#feea9f,#feeca2,#feeea5)"></p><p style="background:linear-gradient(90deg,#feeea6,#fff0a8,#feefa6,#feefa6,#feeca2,#feeca2,#feeca2,#feefa6,#feeca2,#fff1a9,#feeca1,#feeca2,#fee99d,#feeda4,#feeba1,#fff1aa,#feeca3,#feeca3,#feefa7,#feeca3,#fff0a9,#feeda4,#feefa6,#feefa7,#fff0a9)"></p><p style="background:linear-gradient(90deg,#feeea5,#feefa6,#fff3ac,#feeda4,#fff2ab,#fff1a9,#fff1a9,#fff0a8,#feeea5,#feeda4,#feefa7,#feefa7,#fff0a8,#fff1aa,#fff0a8,#feefa7,#fff0a9,#feeda4,#fff1a9,#fff1aa,#fff1a9,#fff2ab,#feeda4,#feefa7,#fff0a8)"></p><p style="background:linear-gradient(90deg,#fff2ab,#fff3ad,#fff3ac,#fff1aa,#fff2ab,#feeea6,#fff1aa,#fff3ad,#fff4af,#fff4ae,#fff2ac,#feefa6,#feeda4,#fff2ac,#fff0a8,#fff2ab,#fff1aa,#fff1aa,#fff4af,#fff4ae,#fff0a9,#fff0a9,#fff2ac,#feefa6,#feefa7)"></p><p style="background:linear-gradient(90deg,#fff4ae,#fff5b0,#fff2ac,#fff2ab,#fff4af,#fff6b1,#fff3ad,#fff6b1,#fff1aa,#fff2ab,#fff4ae,#fff3ac,#fff4ae,#fff4af,#fff5af,#fff1a9,#fff3ad,#fff1aa,#fff4ae,#fff1aa,#fff2ab,#fff2ab,#fff3ad,#fff2ac,#fff5af)"></p><p style="background:linear-gradient(90deg,#fff1aa,#fff3ad,#fff4ae,#fff3ad,#fff6b2,#fff5b0,#fff6b1,#fff2ab,#fff7b3,#fff4af,#fff2ab,#fff2ac,#fff3ac,#fff5b0,#fff6b1,#fff3ac,#fff5b0,#fff3ac,#fff5b0,#fff2ac,#fff3ad,#fff2ab,#fff1aa,#fff5af,#fff1aa)"></p><p style="background:linear-gradient(90deg,#fff8b4,#fff3ac,#fff8b4,#fff5af,#fff6b1,#fff3ad,#fff6b1,#fff7b2,#fff3ad,#fff5af,#fff3ad,#fff5b0,#fff8b4,#fff3ad,#fff7b2,#fff5b0,#fff8b4,#fff6b2,#fff4ae,#fff3ad,#fff4ae,#fff5b0,#fff4ae,#fff4ae,#fff7b3)"></p><p style="background:linear-gradient(90deg,#fff6b1,#fff5b0,#fff4af,#fff8b4,#fff7b3,#fff7b3,#fff8b5,#fff7b3,#fff4af,#fff5b0,#fff8b4,#fff4af,#fff8b5,#fff4af,#fff8b4,#fff8b5,#fff7b3,#fff6b1,#fff7b3,#fff3ad,#fff3ad,#fff7b3,#fff4af,#fff5af,#fff5b1)"></p><p style="background:linear-gradient(90deg,#fff8b4,#fff4ae,#fff4ae,#fffab7,#fff8b4,#fff8b4,#fff8b5,#fff7b3,#fff4ae,#fff9b7,#fff4af,#fff8b4,#fffab7,#fff4ae,#fff8b4,#fff8b5,#fff9b6,#fff7b3,#fff9b6,#fff9b5,#fff8b5,#fff6b1,#fff7b3,#fff8b4,#fff6b2)"></p><p style="background:linear-gradient(90deg,#fff5b0,#fff6b1,#fff8b4,#fff4af,#fff5b0,#fff7b2,#fff7b3,#fff8b5,#fff9b6,#fff5af,#fff6b2,#fffab7,#fff4af,#fff5af,#fffab7,#fff6b1,#fff9b5,#fff7b3,#fff5b0,#fff8b4,#fff7b3,#fff6b1,#fff9b6,#fff6b2,#fff8b4)"></p><p style="background:linear-gradient(90deg,#fff4af,#fff9b6,#fff6b1,#fffab8,#fff9b5,#fffab7,#fff9b7,#fff7b3,#fff9b6,#fff5b0,#fffab7,#fff6b2,#fff5b0,#fffab7,#fff9b6,#fff6b1,#fff7b4,#fff5af,#fff8b5,#fff8b4,#fff4af,#fff8b5,#fff4af,#fff5b0,#fff9b6)"></p><p style="background:linear-gradient(90deg,#fff7b3,#fff5af,#fffab7,#fff5b0,#fff6b1,#fff6b1,#fff7b2,#fffab7,#fff4af,#fffab7,#fff5b1,#fff6b1,#fff8b5,#fff6b2,#fff8b4,#fff6b1,#fffab8,#fff5af,#fff8b4,#fff5b0,#fff7b4,#fff5b0,#fff8b5,#fff7b3,#fffab8)"></p></div></div><div class="hm" style="left:623.60px;top:129.80px;width:45.30px;height:58.30px"><div class="hi"><p style="background:linear-gradient(90deg,#de3f2e,#e14430,#dc3b2c,#dd3d2d,#df402e,#db392b,#dc3a2b,#db392b,#df402e,#d73027,#ca2327,#ba1426,#b30d26,#ab0526,#bd1726,#cd2627,#d73027,#de3f2e,#e14430,#dc3a2c,#e0422f,#e14531,#e04430,#db392b,#dd3c2d)"></p><p style="background:linear-gradient(90deg,#e04330,#e04430,#dc3a2c,#dd3d2d,#de3e2e,#e04430,#df402e,#db392b,#df412f,#d93429,#d02a27,#b61026,#b20c26,#aa0526,#b91326,#cc2527,#dc3a2b,#db392b,#de3f2e,#de3f2e,#e04430,#de3f2e,#dc3c2c,#e04430,#dc3b2c)"></p><p style="background:linear-gradient(90deg,#e95739,#ea593a,#eb593a,#e95639,#e85438,#e95538,#e75136,#e95538,#e75237,#e14530,#de3e2e,#d42d27,#c41e27,#c51f27,#d52e27,#de3e2d,#e75236,#e54e35,#e95538,#e75136,#e85337,#e85337,#e85337,#ea583a,#e85337)"></p><p style="background:linear-gradient(90deg,#f46e43,#f26941,#f26941,#f16740,#f46e43,#f36c42,#f16640,#f06640,#ee613e,#f0643f,#e85438,#df412f,#d22c27,#d32c27,#dd3d2d,#e65036,#ee613d,#f16740,#f0643f,#f26841,#f26841,#f26941,#f36a42,#f16740,#f26941)"></p><p style="background:linear-gradient(90deg,#f67e4b,#f67a49,#f67b49,#f67a49,#f67948,#f67b4a,#f67b49,#f67a49,#f67848,#f36a42,#f16740,#e85337,#dd3c2c,#df412f,#e65136,#ef633e,#f57346,#f67b49,#f77f4b,#f57546,#f57446,#f67c4a,#f67a49,#f67c4a,#f77f4b)"></p><p style="background:linear-gradient(90deg,#f7814c,#f7814c,#f88950,#f88950,#f7834d,#f7824d,#f7864f,#f8874f,#f8874f,#f67a49,#f36b42,#ea5739,#e75136,#e44c34,#ea5839,#f46f44,#f77f4b,#f88950,#f88b51,#f7834d,#f88b51,#f7824d,#f7844d,#f7864f,#f7814c)"></p><p style="background:linear-gradient(90deg,#f88a51,#f98f53,#fa9556,#f98f53,#f99154,#f99355,#f88a51,#f88d52,#f99355,#f88c51,#f67e4b,#f16740,#eb5b3b,#eb5a3a,#f16640,#f7824d,#f8874f,#f99154,#f88a50,#f88a50,#f99254,#f98f53,#fa9556,#f99154,#f98f52)"></p><p style="background:linear-gradient(90deg,#fa9757,#fa9b58,#fb9f5a,#fb9e5a,#fa9857,#fb9d59,#fa9c58,#fa9757,#f99254,#f99354,#f88a50,#f57145,#f16640,#ee613d,#f67a49,#f88b51,#f99455,#f99354,#fb9d59,#fb9d59,#fb9e5a,#fb9d59,#fa9b58,#fa9a58,#fa9656)"></p><p style="background:linear-gradient(90deg,#fba25c,#fba25b,#fba35c,#fb9e59,#fb9c59,#fba25c,#fa9c59,#fca45d,#fa9a58,#fa9b58,#f98e52,#f67f4b,#f47045,#f57346,#f67b49,#f99455,#fa9a58,#fba15b,#fba15b,#fca55d,#fca55d,#fca35c,#fb9f5a,#fba15b,#fca85e)"></p><p style="background:linear-gradient(90deg,#fca65d,#fcaa5f,#fdae61,#fdac60,#fdad60,#fca55d,#fca85e,#fdab60,#fdab60,#fca75e,#fb9c59,#f88950,#f57446,#f57547,#f8874f,#fa9656,#fba35c,#fdad61,#fdae61,#fdad61,#fdac60,#fca85e,#fca55d,#fca85e,#fcaa5f)"></p><p style="background:linear-gradient(90deg,#fdb265,#fcaa5f,#fdad60,#fdb164,#fdb467,#fcaa5f,#fdb265,#fdab60,#fdb366,#fcaa5f,#fca45d,#f88c51,#f7844e,#f8884f,#fa9756,#fba05b,#fca75e,#fdae61,#fdae61,#fdb265,#fdb265,#fdb466,#fcaa5f,#fdb467,#fdae61)"></p><p style="background:linear-gradient(90deg,#fdb669,#fdb86a,#fdb668,#fdb163,#fdb76a,#fdb86b,#fdb466,#fdb366,#fdb467,#fdb668,#fca65d,#fb9f5a,#f98f53,#f98f53,#fb9c59,#fdad60,#fdb265,#fdb265,#fdb164,#fdb568,#fdb96c,#fdb264,#fdba6c,#fdb769,#fdb86b)"></p><p style="background:linear-gradient(90deg,#fdb96b,#fdb76a,#fdbe70,#fdbc6e,#fdb769,#fdb86b,#fdbe70,#fdb86b,#fdb769,#fdb96b,#fdb568,#fba15b,#fa9656,#fa9a58,#fcaa5f,#fdb467,#fdbc6e,#fdbb6d,#fdba6c,#fdba6c,#fdbb6d,#fdb76a,#fdbe70,#fdbc6e,#fdb668)"></p><p style="background:linear-gradient(90deg,#fdbb6e,#fdbb6d,#fdbc6f,#fdbf71,#fdbc6e,#fdbe70,#fdc375,#fdc173,#fdc375,#fdba6c,#fdba6c,#fdad61,#fb9d59,#fca35c,#fdab60,#fdb669,#fdbb6d,#fdbb6d,#fdc173,#fdc374,#fdbc6f,#fdbd6f,#fdc072,#fdc173,#fdc374)"></p><p style="background:linear-gradient(90deg,#fdc173,#fdc476,#fdc173,#fdc677,#fdc677,#fdc476,#fdc173,#fdc072,#fdc577,#fdc173,#fdbf71,#fdaf62,#fba35c,#fca65e,#fdb668,#fdc173,#fdbf71,#fdc173,#fdc677,#fec87a,#fdc778,#fdbf71,#fec97a,#fdc173,#fdc475)"></p><p style="background:linear-gradient(90deg,#fec87a,#fec87a,#feca7b,#fec87a,#fecd7e,#fdc576,#fecd7e,#fecc7d,#fdc778,#fdc678,#fdc172,#fdb76a,#fca95f,#fdb467,#fdc072,#fec779,#fdc577,#fecc7d,#fec87a,#fdc678,#fecc7d,#fec87a,#fdc576,#fdc678,#feca7b)"></p><p style="background:linear-gradient(90deg,#fece7f,#fed081,#fec97a,#fecb7c,#fecc7d,#fecf80,#fecb7c,#fecd7f,#feca7c,#fece7f,#fdc577,#fdbe70,#fdb668,#fdb568,#fdbe70,#fec97b,#fec87a,#fed283,#fec97b,#fecb7c,#fecd7f,#feca7b,#fed182,#fecf80,#fecb7c)"></p><p style="background:linear-gradient(90deg,#fecf80,#fed384,#fecd7e,#fed081,#fed687,#fed686,#fed687,#fed182,#fed484,#fed484,#fecf80,#feca7b,#fdb86a,#fdb96b,#fdc678,#fed080,#fed384,#fed182,#fed384,#fecd7e,#fecd7e,#fed081,#fecf80,#fed687,#fed686)"></p><p style="background:linear-gradient(90deg,#fed888,#feda8a,#fed788,#fed182,#fed384,#fed283,#fed989,#fed989,#fedb8b,#fed889,#fed888,#fecb7d,#fdc476,#fdc173,#fecc7d,#fed384,#fed888,#fed485,#fed485,#fed485,#fed787,#fed787,#fed889,#fedb8b,#fed787)"></p><p style="background:linear-gradient(90deg,#fed98a,#fede8e,#fed787,#fed787,#fed788,#fed788,#fedb8b,#fede8e,#fedd8d,#fed888,#fed384,#fed586,#fecd7e,#feca7c,#fed485,#fed888,#fede8e,#fed788,#fedc8c,#fed687,#fedc8c,#fedc8d,#fede8e,#fed686,#feda8a)"></p><p style="background:linear-gradient(90deg,#fedb8c,#fee293,#fede8e,#fedc8d,#feda8a,#feda8b,#fee292,#fee090,#feda8a,#fede8e,#fed889,#fed98a,#fed384,#fecb7c,#feda8b,#fedd8d,#fee090,#fede8e,#feda8b,#feda8b,#fedb8b,#fee191,#fedb8c,#fee293,#fee090)"></p><p style="background:linear-gradient(90deg,#fede8e,#fee395,#fee294,#fee192,#fee395,#fee091,#fee191,#fee496,#fede8f,#fee496,#fedf8f,#fede8e,#fed888,#fed98a,#fed888,#fedf8f,#fee293,#fee090,#fede8e,#fede8f,#fee192,#fee395,#fee292,#fede8e,#fee090)"></p><p style="background:linear-gradient(90deg,#fee395,#fee293,#fee597,#fee496,#fee293,#fee699,#fee293,#fee79b,#fee496,#fee495,#fee699,#fedd8d,#fedb8b,#fede8e,#fee293,#fee395,#fee497,#fee79b,#fee79a,#fee394,#fee69a,#fee698,#fee293,#fee293,#fee293)"></p><p style="background:linear-gradient(90deg,#fee89d,#fee99e,#fee597,#fee699,#fee79b,#fee99e,#fee79a,#fee89c,#fee699,#fee395,#fee89c,#fee69a,#fede8e,#fee394,#fee699,#fee69a,#fee395,#fee79b,#fee89b,#fee79a,#fee89d,#fee79b,#fee598,#fee79b,#fee597)"></p><p style="background:linear-gradient(90deg,#feeba0,#feeba1,#fee89c,#fee99d,#fee699,#feeba1,#fee79b,#fee89b,#fee99e,#feeba0,#fee89c,#fee598,#fee395,#fee495,#fee699,#fee89c,#fee99e,#feeba0,#fee99d,#fee89d,#fee699,#fee698,#fee89c,#feea9f,#feeaa0)"></p><p style="background:linear-gradient(90deg,#feea9f,#fee99e,#feeca3,#feea9e,#fee89c,#feeba1,#fee89c,#feeba1,#feea9f,#fee89d,#feeca3,#feea9f,#fee395,#fee99e,#feeba0,#feeba0,#fee99e,#feea9f,#fee89c,#feea9f,#feeea5,#feeda4,#feeea5,#feeba1,#feeea5)"></p><p style="background:linear-gradient(90deg,#feeda3,#feeca2,#feefa6,#feeaa0,#feeda4,#feea9f,#feeea5,#feeca2,#feeca3,#feeea5,#feeba1,#feefa6,#feeba1,#feeba0,#feea9e,#feeda3,#fff0a8,#feeea5,#feeca2,#feeba0,#feefa7,#feeba1,#feeda4,#feeda3,#feeda4)"></p><p style="background:linear-gradient(90deg,#feefa7,#feeca2,#feeca2,#feeca2,#feeda4,#feeda4,#fff1aa,#fff1ab,#feeda3,#feeea5,#feeea5,#feefa7,#feeea5,#feea9f,#feeea5,#fff2ab,#fff0a8,#fff0a8,#fff1aa,#feeca2,#feeca2,#feeda3,#fff2ab,#feefa7,#fff1aa)"></p><p style="background:linear-gradient(90deg,#feefa7,#feeea6,#feefa6,#feefa6,#fff3ac,#fff3ad,#fff3ad,#feeea6,#feeea6,#fff0a9,#fff2ab,#feeea5,#fff2ab,#fff1a9,#fff3ad,#feeda4,#fff1aa,#feefa6,#feefa6,#fff0a8,#feeda4,#feefa6,#feeea5,#feeea4,#fff3ad)"></p><p style="background:linear-gradient(90deg,#fff0a9,#fff4ae,#fff3ad,#fff3ad,#feefa7,#fff5af,#fff2ac,#fff4af,#feefa7,#fff2ab,#fff1a9,#fff2ab,#fff0a9,#fff3ad,#fff3ac,#fff1a9,#fff1a9,#fff0a8,#fff3ad,#fff0a8,#fff1a9,#fff2ab,#fff3ac,#fff2ab,#fff5af)"></p><p style="background:linear-gradient(90deg,#fff6b1,#fff5af,#fff6b1,#fff6b2,#fff2ac,#fff2ab,#fff3ad,#fff5b0,#fff2ac,#fff1ab,#fff3ac,#fff5b0,#fff3ad,#fff4af,#fff5b0,#fff6b1,#fff1aa,#fff3ac,#fff1aa,#fff6b1,#fff5b0,#fff3ae,#fff6b2,#fff5af,#fff3ad)"></p><p style="background:linear-gradient(90deg,#fff5b0,#fff2ac,#fff4af,#fff4ae,#fff4af,#fff3ad,#fff6b1,#fff8b4,#fff2ab,#fff3ad,#fff7b3,#fff7b3,#fff7b2,#fff4ae,#fff7b3,#fff8b4,#fff5b0,#fff8b4,#fff6b2,#fff6b1,#fff7b2,#fff8b4,#fff6b2,#fff6b2,#fff6b1)"></p><p style="background:linear-gradient(90deg,#fff7b2,#fff7b3,#fff7b3,#fff9b6,#fff4ae,#fff4af,#fff6b1,#fff9b6,#fff8b4,#fff3ae,#fff6b2,#fff8b4,#fff4ae,#fff4ae,#fff8b5,#fff6b1,#fff6b1,#fff8b5,#fff7b3,#fff5b0,#fff5b0,#fff5b0,#fff5b0,#fff7b2,#fff9b5)"></p><p style="background:linear-gradient(90deg,#fffab7,#fff5af,#fff5af,#fff4af,#fff9b7,#fff5b0,#fff9b6,#fff8b4,#fff9b5,#fff5af,#fff5b0,#fff5b0,#fff8b4,#fff4af,#fff8b5,#fff6b2,#fff6b1,#fff9b5,#fff8b4,#fff9b6,#fff5b0,#fff9b6,#fff9b6,#fff8b5,#fff6b1)"></p><p style="background:linear-gradient(90deg,#fff6b2,#fff7b3,#fff5b0,#fff6b1,#fff9b6,#fff7b3,#fff9b6,#fff9b6,#fff9b7,#fffab7,#fff8b5,#fff5b0,#fff6b2,#fffab7,#fff9b6,#fff7b2,#fff7b3,#fffab8,#fffab7,#fff7b3,#fff7b2,#fffab7,#fff6b1,#fff9b6,#fff7b2)"></p><p style="background:linear-gradient(90deg,#fff7b3,#fff8b5,#fff4af,#fff8b4,#fff8b4,#fff7b3,#fff5b0,#fff4af,#fff6b1,#fff7b3,#fff6b1,#fff6b2,#fff4af,#fff4af,#fff6b1,#fff9b6,#fff7b3,#fff8b4,#fff9b6,#fff6b1,#fff9b6,#fff6b1,#fff7b3,#fff8b4,#fff6b1)"></p></div></div>
<svg width="685" height="505" viewBox="0 0 685 505"><rect x="236.50" y="129.80" width="45.30" height="58.30" fill="none" stroke="#6f6a69" stroke-width="0.8"/>
<rect x="284.60" y="129.80" width="45.30" height="58.30" fill="none" stroke="#6f6a69" stroke-width="0.8"/>
<rect x="351.50" y="129.80" width="45.30" height="58.30" fill="none" stroke="#6f6a69" stroke-width="0.8"/>
<rect x="399.60" y="129.80" width="45.30" height="58.30" fill="none" stroke="#6f6a69" stroke-width="0.8"/>
<rect x="463.50" y="129.80" width="45.30" height="58.30" fill="none" stroke="#6f6a69" stroke-width="0.8"/>
<rect x="511.40" y="129.80" width="45.30" height="58.30" fill="none" stroke="#6f6a69" stroke-width="0.8"/>
<rect x="575.50" y="129.80" width="45.30" height="58.30" fill="none" stroke="#6f6a69" stroke-width="0.8"/>
<rect x="623.60" y="129.80" width="45.30" height="58.30" fill="none" stroke="#6f6a69" stroke-width="0.8"/></svg>
</body></html>
